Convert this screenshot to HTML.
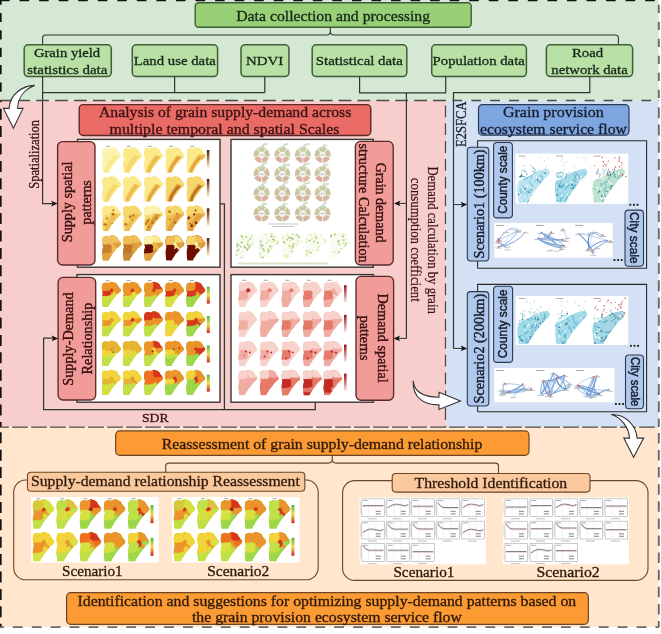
<!DOCTYPE html>
<html><head><meta charset="utf-8"><style>
html,body{margin:0;padding:0;background:#fff;overflow:hidden;}
svg{display:block;will-change:transform;}
</style></head><body>
<svg width="661" height="634" viewBox="0 0 661 634">
<defs><clipPath id="hb" clipPathUnits="userSpaceOnUse"><path d="M1,2 L4,0.8 L7,1.5 L10,0 L13,0.8 L15.5,2 L17,4.5 L18.5,6.5 L20,8.5 L19,10.5 L16.5,12.5 L15,14 L13.6,16 L12,18 L10.5,19.5 L9,22 L7.6,24 L6.9,26 L1,26 L0.6,22 L0,18 L0.5,15 L1.2,12 L0.4,9 L0,6 L0.5,4 Z"/></clipPath></defs>
<rect x="0.00" y="0.00" width="661.00" height="634.00" fill="#ffffff" /><rect x="0.00" y="0.00" width="658.50" height="100.60" fill="#d5e8d4" /><rect x="0.00" y="100.60" width="446.20" height="326.20" fill="#f8cecc" /><rect x="446.20" y="100.60" width="212.30" height="326.60" fill="#d4e1f4" /><rect x="0.00" y="426.80" width="658.50" height="200.20" fill="#ffe6cc" /><rect x="195.20" y="2.80" width="276.00" height="24.50" rx="3.5" ry="3.5" fill="#97d077" stroke="#3f5e37" stroke-width="1.4" /><text x="236.20" y="21.10" font-family="Liberation Serif" font-size="14.0" fill="#17261a" textLength="193.90" lengthAdjust="spacingAndGlyphs" stroke="#17261a" stroke-width="0.3" >Data collection and processing</text><path d="M42.6,44.8 V38.2 Q42.6,35 45.8,35 H326.5 Q330.3,35 330.3,31.2 V27.6 M330.3,31.2 Q330.3,35 334.1,35 H615.2 Q618.4,35 618.4,38.2 V44.8" fill="none" stroke="#2f352f" stroke-width="1.1" /><rect x="24.20" y="44.80" width="87.10" height="31.80" rx="4" ry="4" fill="#b9e0a5" stroke="#3f5e37" stroke-width="1.5" /><text x="33.90" y="57.20" font-family="Liberation Serif" font-size="13.0" fill="#17261a" textLength="66.30" lengthAdjust="spacingAndGlyphs" stroke="#17261a" stroke-width="0.3" >Grain yield</text><text x="27.30" y="73.60" font-family="Liberation Serif" font-size="13.0" fill="#17261a" textLength="80.10" lengthAdjust="spacingAndGlyphs" stroke="#17261a" stroke-width="0.3" >statistics data</text><rect x="132.30" y="44.80" width="85.30" height="31.80" rx="4" ry="4" fill="#b9e0a5" stroke="#3f5e37" stroke-width="1.5" /><text x="133.80" y="65.20" font-family="Liberation Serif" font-size="13.0" fill="#17261a" textLength="82.00" lengthAdjust="spacingAndGlyphs" stroke="#17261a" stroke-width="0.3" >Land use data</text><rect x="241.00" y="44.80" width="47.90" height="31.80" rx="4" ry="4" fill="#b9e0a5" stroke="#3f5e37" stroke-width="1.5" /><text x="246.00" y="65.30" font-family="Liberation Serif" font-size="13.0" fill="#17261a" textLength="37.20" lengthAdjust="spacingAndGlyphs" stroke="#17261a" stroke-width="0.3" >NDVI</text><rect x="312.20" y="44.80" width="94.60" height="31.80" rx="4" ry="4" fill="#b9e0a5" stroke="#3f5e37" stroke-width="1.5" /><text x="315.80" y="65.20" font-family="Liberation Serif" font-size="13.0" fill="#17261a" textLength="87.00" lengthAdjust="spacingAndGlyphs" stroke="#17261a" stroke-width="0.3" >Statistical data</text><rect x="431.70" y="44.80" width="94.70" height="31.80" rx="4" ry="4" fill="#b9e0a5" stroke="#3f5e37" stroke-width="1.5" /><text x="432.60" y="65.20" font-family="Liberation Serif" font-size="13.0" fill="#17261a" textLength="92.20" lengthAdjust="spacingAndGlyphs" stroke="#17261a" stroke-width="0.3" >Population data</text><rect x="546.40" y="44.80" width="86.20" height="31.80" rx="4" ry="4" fill="#b9e0a5" stroke="#3f5e37" stroke-width="1.5" /><text x="572.00" y="57.20" font-family="Liberation Serif" font-size="13.0" fill="#17261a" textLength="31.20" lengthAdjust="spacingAndGlyphs" stroke="#17261a" stroke-width="0.3" >Road</text><text x="551.30" y="73.60" font-family="Liberation Serif" font-size="13.0" fill="#17261a" textLength="76.40" lengthAdjust="spacingAndGlyphs" stroke="#17261a" stroke-width="0.3" >network data</text><path d="M42.6,76.6 V203.6 H53" fill="none" stroke="#2f352f" stroke-width="1.2" /><path d="M42.6,92.6 H264.8 M174.6,76.6 V92.6 M264.8,76.8 V92.6" fill="none" stroke="#2f352f" stroke-width="1.2" /><path d="M359.6,76.6 V92.8 H445.7 V76.6 M406.4,92.8 V338.4" fill="none" stroke="#2f352f" stroke-width="1.2" /><path d="M589.8,76.8 V92.6 H453.5 V348.4" fill="none" stroke="#2f352f" stroke-width="1.2" /><rect x="79.20" y="104.60" width="291.60" height="30.90" rx="4" ry="4" fill="#ea6b66" stroke="#5a2a2a" stroke-width="1.4" /><text x="99.00" y="117.20" font-family="Liberation Serif" font-size="14.0" fill="#3a1212" textLength="252.30" lengthAdjust="spacingAndGlyphs" stroke="#3a1212" stroke-width="0.3" >Analysis of grain supply-demand across</text><text x="109.60" y="133.70" font-family="Liberation Serif" font-size="14.0" fill="#3a1212" textLength="229.80" lengthAdjust="spacingAndGlyphs" stroke="#3a1212" stroke-width="0.3" >multiple temporal and spatial Scales</text><text transform="translate(39.10,188.70) scale(1.1,1) rotate(-90)" x="0" y="0" font-family="Liberation Serif" font-size="12.3" fill="#3a1212" textLength="68.80" lengthAdjust="spacingAndGlyphs" stroke="#3a1212" stroke-width="0.25">Spatialization</text><rect x="77.50" y="139.40" width="142.50" height="127.80" fill="#ffffff" stroke="#3a3434" stroke-width="1.4"/><rect x="231.00" y="139.40" width="142.30" height="127.80" fill="#ffffff" stroke="#3a3434" stroke-width="1.4"/><rect x="77.00" y="274.60" width="143.00" height="127.60" fill="#ffffff" stroke="#3a3434" stroke-width="1.4"/><rect x="231.00" y="274.60" width="142.40" height="127.60" fill="#ffffff" stroke="#3a3434" stroke-width="1.4"/><path d="M220.0,203.9 H224.4 V409.7 M53,338.2 H43.6 V409.7 H315.3 V402.2" fill="none" stroke="#2f352f" stroke-width="1.25" /><text x="142.00" y="422.40" font-family="Liberation Serif" font-size="13.4" fill="#3a1212" textLength="26.60" lengthAdjust="spacingAndGlyphs" stroke="#3a1212" stroke-width="0.3" >SDR</text><g transform="translate(101.90,147.00) scale(0.9700,0.9923)" clip-path="url(#hb)"><rect x="0" y="0" width="20" height="26" fill="#fdf3b0"/><path d="M12,8.5 L17,9.8 L12,15.5 L8.5,20.5 L6.5,26 L2.5,26 L4,20.5 L7.5,14.5 Z" fill="#fbe98a" stroke="#fbe98a" stroke-width="0.5"/></g><rect x="105.9" y="145.8" width="4" height="0.9" fill="#9a9a9a"/><g transform="translate(122.80,147.00) scale(0.9700,0.9923)" clip-path="url(#hb)"><rect x="0" y="0" width="20" height="26" fill="#fbe98a"/><path d="M12,8.5 L17,9.8 L12,15.5 L8.5,20.5 L6.5,26 L2.5,26 L4,20.5 L7.5,14.5 Z" fill="#f6d76a" stroke="#f6d76a" stroke-width="0.5"/></g><rect x="126.8" y="145.8" width="4" height="0.9" fill="#9a9a9a"/><g transform="translate(143.90,147.00) scale(0.9700,0.9923)" clip-path="url(#hb)"><rect x="0" y="0" width="20" height="26" fill="#fbe98a"/><path d="M12,8.5 L17,9.8 L12,15.5 L8.5,20.5 L6.5,26 L2.5,26 L4,20.5 L7.5,14.5 Z" fill="#efbd52" stroke="#efbd52" stroke-width="0.5"/></g><rect x="147.9" y="145.8" width="4" height="0.9" fill="#9a9a9a"/><g transform="translate(165.20,147.00) scale(0.9700,0.9923)" clip-path="url(#hb)"><rect x="0" y="0" width="20" height="26" fill="#fbe98a"/><path d="M12,8.5 L17,9.8 L12,15.5 L8.5,20.5 L6.5,26 L2.5,26 L4,20.5 L7.5,14.5 Z" fill="#efbd52" stroke="#efbd52" stroke-width="0.5"/><path d="M13,10 L15.5,10.6 L10.8,15.5 L7.2,21 L5.6,25 L4.2,25 L5.5,20.5 L9,15 Z" fill="#e0a040" stroke="#e0a040" stroke-width="0.5"/></g><rect x="169.2" y="145.8" width="4" height="0.9" fill="#9a9a9a"/><g transform="translate(186.30,147.00) scale(0.9700,0.9923)" clip-path="url(#hb)"><rect x="0" y="0" width="20" height="26" fill="#fbe98a"/><path d="M12,8 L15,8 L21,7.5 V12 L16,13 L14,12 L12.5,10 Z" fill="#efbd52" stroke="#efbd52" stroke-width="0.5"/><path d="M12,8.5 L17,9.8 L12,15.5 L8.5,20.5 L6.5,26 L2.5,26 L4,20.5 L7.5,14.5 Z" fill="#efbd52" stroke="#efbd52" stroke-width="0.5"/><path d="M13,10 L15.5,10.6 L10.8,15.5 L7.2,21 L5.6,25 L4.2,25 L5.5,20.5 L9,15 Z" fill="#e0a040" stroke="#e0a040" stroke-width="0.5"/></g><rect x="190.3" y="145.8" width="4" height="0.9" fill="#9a9a9a"/><defs><linearGradient id="lg46" x1="0" y1="0" x2="0" y2="1"><stop offset="0" stop-color="#5a1a00"/><stop offset="1" stop-color="#fff6c0"/></linearGradient></defs><rect x="206.80" y="150.00" width="2.60" height="18.00" fill="url(#lg46)" /><g transform="translate(101.90,175.90) scale(0.9700,0.9923)" clip-path="url(#hb)"><rect x="0" y="0" width="20" height="26" fill="#fbe98a"/><path d="M12,8.5 L17,9.8 L12,15.5 L8.5,20.5 L6.5,26 L2.5,26 L4,20.5 L7.5,14.5 Z" fill="#f6d76a" stroke="#f6d76a" stroke-width="0.5"/></g><g transform="translate(122.80,175.90) scale(0.9700,0.9923)" clip-path="url(#hb)"><rect x="0" y="0" width="20" height="26" fill="#fbe98a"/><path d="M12,8.5 L17,9.8 L12,15.5 L8.5,20.5 L6.5,26 L2.5,26 L4,20.5 L7.5,14.5 Z" fill="#efbd52" stroke="#efbd52" stroke-width="0.5"/></g><g transform="translate(143.90,175.90) scale(0.9700,0.9923)" clip-path="url(#hb)"><rect x="0" y="0" width="20" height="26" fill="#fbe98a"/><path d="M12,8.5 L17,9.8 L12,15.5 L8.5,20.5 L6.5,26 L2.5,26 L4,20.5 L7.5,14.5 Z" fill="#efbd52" stroke="#efbd52" stroke-width="0.5"/><path d="M13,10 L15.5,10.6 L10.8,15.5 L7.2,21 L5.6,25 L4.2,25 L5.5,20.5 L9,15 Z" fill="#e0a040" stroke="#e0a040" stroke-width="0.5"/></g><g transform="translate(165.20,175.90) scale(0.9700,0.9923)" clip-path="url(#hb)"><rect x="0" y="0" width="20" height="26" fill="#f6d76a"/><path d="M12,8.5 L17,9.8 L12,15.5 L8.5,20.5 L6.5,26 L2.5,26 L4,20.5 L7.5,14.5 Z" fill="#e0a040" stroke="#e0a040" stroke-width="0.5"/><path d="M13,10 L15.5,10.6 L10.8,15.5 L7.2,21 L5.6,25 L4.2,25 L5.5,20.5 L9,15 Z" fill="#b8701e" stroke="#b8701e" stroke-width="0.5"/></g><g transform="translate(186.30,175.90) scale(0.9700,0.9923)" clip-path="url(#hb)"><rect x="0" y="0" width="20" height="26" fill="#f6d76a"/><path d="M12,8.5 L17,9.8 L12,15.5 L8.5,20.5 L6.5,26 L2.5,26 L4,20.5 L7.5,14.5 Z" fill="#e0a040" stroke="#e0a040" stroke-width="0.5"/><path d="M13,10 L15.5,10.6 L10.8,15.5 L7.2,21 L5.6,25 L4.2,25 L5.5,20.5 L9,15 Z" fill="#b8701e" stroke="#b8701e" stroke-width="0.5"/></g><defs><linearGradient id="lg53" x1="0" y1="0" x2="0" y2="1"><stop offset="0" stop-color="#5a1a00"/><stop offset="1" stop-color="#fff6c0"/></linearGradient></defs><rect x="206.80" y="178.90" width="2.60" height="18.00" fill="url(#lg53)" /><g transform="translate(101.90,205.30) scale(0.9700,0.9923)" clip-path="url(#hb)"><rect x="0" y="0" width="20" height="26" fill="#f6d76a"/><path d="M-1,-1 H10 L10,7 L8,9.5 L-1,10 Z" fill="#fbe98a" stroke="#fbe98a" stroke-width="0.5"/><path d="M10,-1 H21 V7.5 L15,8 L12,8 L10,7 Z" fill="#fbe98a" stroke="#fbe98a" stroke-width="0.5"/><path d="M12,8.5 L17,9.8 L12,15.5 L8.5,20.5 L6.5,26 L2.5,26 L4,20.5 L7.5,14.5 Z" fill="#efbd52" stroke="#efbd52" stroke-width="0.5"/><circle cx="3.7" cy="19.4" r="1.3" fill="#b8701e"/><circle cx="5.3" cy="13.4" r="1.1" fill="#b8701e"/><circle cx="10.5" cy="18.4" r="0.8" fill="#b8701e"/><circle cx="2.4" cy="19.2" r="1.0" fill="#b8701e"/><circle cx="11.9" cy="5.0" r="1.1" fill="#b8701e"/><circle cx="11.4" cy="8.9" r="1.5" fill="#b8701e"/></g><g transform="translate(122.80,205.30) scale(0.9700,0.9923)" clip-path="url(#hb)"><rect x="0" y="0" width="20" height="26" fill="#f6d76a"/><path d="M-1,-1 H10 L10,7 L8,9.5 L-1,10 Z" fill="#f6d76a" stroke="#f6d76a" stroke-width="0.5"/><path d="M10,-1 H21 V7.5 L15,8 L12,8 L10,7 Z" fill="#f6d76a" stroke="#f6d76a" stroke-width="0.5"/><path d="M12,8.5 L17,9.8 L12,15.5 L8.5,20.5 L6.5,26 L2.5,26 L4,20.5 L7.5,14.5 Z" fill="#efbd52" stroke="#efbd52" stroke-width="0.5"/><circle cx="14.4" cy="21.1" r="0.7" fill="#b8701e"/><circle cx="3.1" cy="19.2" r="1.3" fill="#b8701e"/><circle cx="10.7" cy="10.2" r="1.2" fill="#b8701e"/><circle cx="9.9" cy="14.9" r="0.8" fill="#b8701e"/><circle cx="7.6" cy="11.7" r="1.3" fill="#b8701e"/><circle cx="14.9" cy="21.1" r="1.1" fill="#b8701e"/><circle cx="7.8" cy="9.6" r="0.7" fill="#b8701e"/></g><g transform="translate(143.90,205.30) scale(0.9700,0.9923)" clip-path="url(#hb)"><rect x="0" y="0" width="20" height="26" fill="#f6d76a"/><path d="M-1,-1 H10 L10,7 L8,9.5 L-1,10 Z" fill="#fdf3b0" stroke="#fdf3b0" stroke-width="0.5"/><path d="M10,-1 H21 V7.5 L15,8 L12,8 L10,7 Z" fill="#fdf3b0" stroke="#fdf3b0" stroke-width="0.5"/><path d="M12,8.5 L17,9.8 L12,15.5 L8.5,20.5 L6.5,26 L2.5,26 L4,20.5 L7.5,14.5 Z" fill="#e0a040" stroke="#e0a040" stroke-width="0.5"/><circle cx="5.1" cy="14.3" r="1.0" fill="#b8701e"/><circle cx="9.9" cy="15.6" r="0.8" fill="#b8701e"/><circle cx="2.2" cy="19.2" r="0.9" fill="#b8701e"/><circle cx="5.0" cy="21.9" r="1.1" fill="#b8701e"/><circle cx="12.9" cy="13.1" r="1.2" fill="#b8701e"/><circle cx="4.0" cy="15.8" r="1.4" fill="#b8701e"/><circle cx="8.8" cy="17.6" r="1.2" fill="#b8701e"/><circle cx="2.8" cy="17.9" r="1.2" fill="#b8701e"/></g><g transform="translate(165.20,205.30) scale(0.9700,0.9923)" clip-path="url(#hb)"><rect x="0" y="0" width="20" height="26" fill="#efbd52"/><path d="M-1,-1 H10 L10,7 L8,9.5 L-1,10 Z" fill="#f6d76a" stroke="#f6d76a" stroke-width="0.5"/><path d="M10,-1 H21 V7.5 L15,8 L12,8 L10,7 Z" fill="#f6d76a" stroke="#f6d76a" stroke-width="0.5"/><path d="M12,8.5 L17,9.8 L12,15.5 L8.5,20.5 L6.5,26 L2.5,26 L4,20.5 L7.5,14.5 Z" fill="#e0a040" stroke="#e0a040" stroke-width="0.5"/><circle cx="5.1" cy="6.8" r="1.0" fill="#b8701e"/><circle cx="4.0" cy="6.1" r="1.0" fill="#b8701e"/><circle cx="13.9" cy="18.6" r="1.3" fill="#b8701e"/><circle cx="4.9" cy="14.1" r="0.9" fill="#b8701e"/><circle cx="4.2" cy="6.8" r="0.9" fill="#b8701e"/><circle cx="14.1" cy="19.1" r="1.3" fill="#b8701e"/><circle cx="12.4" cy="8.3" r="0.9" fill="#b8701e"/><circle cx="10.2" cy="17.4" r="1.4" fill="#b8701e"/></g><g transform="translate(186.30,205.30) scale(0.9700,0.9923)" clip-path="url(#hb)"><rect x="0" y="0" width="20" height="26" fill="#efbd52"/><path d="M-1,-1 H10 L10,7 L8,9.5 L-1,10 Z" fill="#f6d76a" stroke="#f6d76a" stroke-width="0.5"/><path d="M10,-1 H21 V7.5 L15,8 L12,8 L10,7 Z" fill="#f6d76a" stroke="#f6d76a" stroke-width="0.5"/><path d="M12,8.5 L17,9.8 L12,15.5 L8.5,20.5 L6.5,26 L2.5,26 L4,20.5 L7.5,14.5 Z" fill="#e0a040" stroke="#e0a040" stroke-width="0.5"/><circle cx="10.1" cy="17.6" r="1.3" fill="#7a2800"/><circle cx="14.3" cy="17.6" r="1.4" fill="#7a2800"/><circle cx="2.4" cy="12.9" r="1.5" fill="#7a2800"/><circle cx="10.4" cy="20.3" r="0.8" fill="#7a2800"/><circle cx="8.1" cy="9.2" r="1.1" fill="#7a2800"/><circle cx="9.5" cy="5.2" r="0.9" fill="#7a2800"/><circle cx="5.6" cy="20.6" r="1.3" fill="#7a2800"/><circle cx="4.1" cy="18.6" r="0.8" fill="#7a2800"/></g><defs><linearGradient id="lg60" x1="0" y1="0" x2="0" y2="1"><stop offset="0" stop-color="#5a1a00"/><stop offset="1" stop-color="#fff6c0"/></linearGradient></defs><rect x="206.80" y="208.30" width="2.60" height="18.00" fill="url(#lg60)" /><g transform="translate(101.90,235.00) scale(0.9700,0.9923)" clip-path="url(#hb)"><rect x="0" y="0" width="20" height="26" fill="#efbd52"/><path d="M-1,-1 H10 L10,7 L8,9.5 L-1,10 Z" fill="#eec060" stroke="#eec060" stroke-width="0.5"/><path d="M10,-1 H21 V7.5 L15,8 L12,8 L10,7 Z" fill="#eec060" stroke="#eec060" stroke-width="0.5"/><path d="M-1,10 L8,9.5 L10,11 L9.5,14 L6,15 L-1,15 Z" fill="#c88030" stroke="#c88030" stroke-width="0.5"/><path d="M-1,15 L6,15 L9.5,14 L10,17 L7,18.5 L-1,19 Z" fill="#c88030" stroke="#c88030" stroke-width="0.5"/><path d="M-1,19 L7,18.5 L9,22 L7,23 L-1,22.5 Z" fill="#e0a040" stroke="#e0a040" stroke-width="0.5"/><path d="M-1,22.5 L7,23 L9,22 L21,27 V27 H-1 Z" fill="#e0a040" stroke="#e0a040" stroke-width="0.5"/><path d="M7,18.5 L10,17 L11,19 L21,21 V27 L9,22 Z" fill="#e0a040" stroke="#e0a040" stroke-width="0.5"/><path d="M12,8 L15,8 L21,7.5 V12 L16,13 L14,12 L12.5,10 Z" fill="#e0a040" stroke="#e0a040" stroke-width="0.5"/></g><g transform="translate(122.80,235.00) scale(0.9700,0.9923)" clip-path="url(#hb)"><rect x="0" y="0" width="20" height="26" fill="#e0a040"/><path d="M-1,-1 H10 L10,7 L8,9.5 L-1,10 Z" fill="#efbd52" stroke="#efbd52" stroke-width="0.5"/><path d="M10,-1 H21 V7.5 L15,8 L12,8 L10,7 Z" fill="#efbd52" stroke="#efbd52" stroke-width="0.5"/><path d="M-1,10 L8,9.5 L10,11 L9.5,14 L6,15 L-1,15 Z" fill="#c07828" stroke="#c07828" stroke-width="0.5"/><path d="M-1,15 L6,15 L9.5,14 L10,17 L7,18.5 L-1,19 Z" fill="#c07828" stroke="#c07828" stroke-width="0.5"/><path d="M-1,19 L7,18.5 L9,22 L7,23 L-1,22.5 Z" fill="#c88838" stroke="#c88838" stroke-width="0.5"/><path d="M-1,22.5 L7,23 L9,22 L21,27 V27 H-1 Z" fill="#c88838" stroke="#c88838" stroke-width="0.5"/><path d="M7,18.5 L10,17 L11,19 L21,21 V27 L9,22 Z" fill="#c88838" stroke="#c88838" stroke-width="0.5"/><path d="M12,8 L15,8 L21,7.5 V12 L16,13 L14,12 L12.5,10 Z" fill="#e0a040" stroke="#e0a040" stroke-width="0.5"/><path d="M9.5,14 L12,12.5 L14,15 L21,14 V21 L11,19 L10,17 Z" fill="#e0a040" stroke="#e0a040" stroke-width="0.5"/></g><g transform="translate(143.90,235.00) scale(0.9700,0.9923)" clip-path="url(#hb)"><rect x="0" y="0" width="20" height="26" fill="#e0a040"/><path d="M-1,-1 H10 L10,7 L8,9.5 L-1,10 Z" fill="#fdf3b0" stroke="#fdf3b0" stroke-width="0.5"/><path d="M10,-1 H21 V7.5 L15,8 L12,8 L10,7 Z" fill="#fbe98a" stroke="#fbe98a" stroke-width="0.5"/><path d="M-1,10 L8,9.5 L10,11 L9.5,14 L6,15 L-1,15 Z" fill="#6e0c00" stroke="#6e0c00" stroke-width="0.5"/><path d="M-1,15 L6,15 L9.5,14 L10,17 L7,18.5 L-1,19 Z" fill="#6e0c00" stroke="#6e0c00" stroke-width="0.5"/><path d="M-1,19 L7,18.5 L9,22 L7,23 L-1,22.5 Z" fill="#e0a040" stroke="#e0a040" stroke-width="0.5"/><path d="M-1,22.5 L7,23 L9,22 L21,27 V27 H-1 Z" fill="#e0a040" stroke="#e0a040" stroke-width="0.5"/><path d="M7,18.5 L10,17 L11,19 L21,21 V27 L9,22 Z" fill="#e0a040" stroke="#e0a040" stroke-width="0.5"/><path d="M12,8 L15,8 L21,7.5 V12 L16,13 L14,12 L12.5,10 Z" fill="#e0a040" stroke="#e0a040" stroke-width="0.5"/><path d="M9.5,14 L12,12.5 L14,15 L21,14 V21 L11,19 L10,17 Z" fill="#e0a040" stroke="#e0a040" stroke-width="0.5"/><path d="M8,9.5 L10,7 L12,8 L12.5,10 L10,11 Z" fill="#efbd52" stroke="#efbd52" stroke-width="0.5"/><path d="M12.5,10 L14,12 L16,13 L14,15 L12,12.5 Z" fill="#efbd52" stroke="#efbd52" stroke-width="0.5"/><path d="M10,11 L12.5,10 L12,12.5 L9.5,14 Z" fill="#efbd52" stroke="#efbd52" stroke-width="0.5"/></g><g transform="translate(165.20,235.00) scale(0.9700,0.9923)" clip-path="url(#hb)"><rect x="0" y="0" width="20" height="26" fill="#6e0c00"/><path d="M-1,-1 H10 L10,7 L8,9.5 L-1,10 Z" fill="#efbd52" stroke="#efbd52" stroke-width="0.5"/><path d="M10,-1 H21 V7.5 L15,8 L12,8 L10,7 Z" fill="#f6d76a" stroke="#f6d76a" stroke-width="0.5"/><path d="M8,9.5 L10,7 L12,8 L12.5,10 L10,11 Z" fill="#fdf3b0" stroke="#fdf3b0" stroke-width="0.5"/><path d="M12.5,10 L14,12 L16,13 L14,15 L12,12.5 Z" fill="#fbe98a" stroke="#fbe98a" stroke-width="0.5"/><path d="M10,11 L12.5,10 L12,12.5 L9.5,14 Z" fill="#fbe98a" stroke="#fbe98a" stroke-width="0.5"/><path d="M12,8 L15,8 L21,7.5 V12 L16,13 L14,12 L12.5,10 Z" fill="#e0a040" stroke="#e0a040" stroke-width="0.5"/></g><g transform="translate(186.30,235.00) scale(0.9700,0.9923)" clip-path="url(#hb)"><rect x="0" y="0" width="20" height="26" fill="#6e0c00"/><path d="M-1,-1 H10 L10,7 L8,9.5 L-1,10 Z" fill="#f6d76a" stroke="#f6d76a" stroke-width="0.5"/><path d="M10,-1 H21 V7.5 L15,8 L12,8 L10,7 Z" fill="#efbd52" stroke="#efbd52" stroke-width="0.5"/><path d="M8,9.5 L10,7 L12,8 L12.5,10 L10,11 Z" fill="#fdf3b0" stroke="#fdf3b0" stroke-width="0.5"/><path d="M12.5,10 L14,12 L16,13 L14,15 L12,12.5 Z" fill="#fbe98a" stroke="#fbe98a" stroke-width="0.5"/><path d="M10,11 L12.5,10 L12,12.5 L9.5,14 Z" fill="#fbe98a" stroke="#fbe98a" stroke-width="0.5"/><path d="M12,8 L15,8 L21,7.5 V12 L16,13 L14,12 L12.5,10 Z" fill="#e0a040" stroke="#e0a040" stroke-width="0.5"/></g><defs><linearGradient id="lg67" x1="0" y1="0" x2="0" y2="1"><stop offset="0" stop-color="#5a1a00"/><stop offset="1" stop-color="#fff6c0"/></linearGradient></defs><rect x="206.80" y="238.00" width="2.60" height="18.00" fill="url(#lg67)" /><g transform="translate(101.60,281.60) scale(0.9750,0.9808)" clip-path="url(#hb)"><rect x="0" y="0" width="20" height="26" fill="#d6e040"/><path d="M-1,-1 H10 L10,7 L8,9.5 L-1,10 Z" fill="#ec942c" stroke="#ec942c" stroke-width="0.5"/><path d="M10,-1 H21 V7.5 L15,8 L12,8 L10,7 Z" fill="#ec942c" stroke="#ec942c" stroke-width="0.5"/><path d="M-1,19 L7,18.5 L9,22 L7,23 L-1,22.5 Z" fill="#c0e048" stroke="#c0e048" stroke-width="0.5"/><path d="M-1,22.5 L7,23 L9,22 L21,27 V27 H-1 Z" fill="#c0e048" stroke="#c0e048" stroke-width="0.5"/><path d="M7,18.5 L10,17 L11,19 L21,21 V27 L9,22 Z" fill="#c0e048" stroke="#c0e048" stroke-width="0.5"/><path d="M-1,10 L8,9.5 L10,11 L9.5,14 L6,15 L-1,15 Z" fill="#d8361c" stroke="#d8361c" stroke-width="0.5"/><path d="M8,9.5 L10,7 L12,8 L12.5,10 L10,11 Z" fill="#d8361c" stroke="#d8361c" stroke-width="0.5"/><path d="M12,8 L15,8 L21,7.5 V12 L16,13 L14,12 L12.5,10 Z" fill="#ec942c" stroke="#ec942c" stroke-width="0.5"/><path d="M10,11 L12.5,10 L12,12.5 L9.5,14 Z" fill="#ec942c" stroke="#ec942c" stroke-width="0.5"/><path d="M12.5,10 L14,12 L16,13 L14,15 L12,12.5 Z" fill="#f2d43a" stroke="#f2d43a" stroke-width="0.5"/><path d="M-1,15 L6,15 L9.5,14 L10,17 L7,18.5 L-1,19 Z" fill="#d6e040" stroke="#d6e040" stroke-width="0.5"/><path d="M9.5,14 L12,12.5 L14,15 L21,14 V21 L11,19 L10,17 Z" fill="#d6e040" stroke="#d6e040" stroke-width="0.5"/></g><rect x="105.6" y="280.2" width="4" height="0.9" fill="#9a9a9a"/><g transform="translate(122.60,281.60) scale(0.9750,0.9808)" clip-path="url(#hb)"><rect x="0" y="0" width="20" height="26" fill="#d6e040"/><path d="M-1,-1 H10 L10,7 L8,9.5 L-1,10 Z" fill="#ec942c" stroke="#ec942c" stroke-width="0.5"/><path d="M10,-1 H21 V7.5 L15,8 L12,8 L10,7 Z" fill="#ec942c" stroke="#ec942c" stroke-width="0.5"/><path d="M-1,19 L7,18.5 L9,22 L7,23 L-1,22.5 Z" fill="#c0e048" stroke="#c0e048" stroke-width="0.5"/><path d="M-1,22.5 L7,23 L9,22 L21,27 V27 H-1 Z" fill="#c0e048" stroke="#c0e048" stroke-width="0.5"/><path d="M7,18.5 L10,17 L11,19 L21,21 V27 L9,22 Z" fill="#c0e048" stroke="#c0e048" stroke-width="0.5"/><path d="M-1,10 L8,9.5 L10,11 L9.5,14 L6,15 L-1,15 Z" fill="#ec942c" stroke="#ec942c" stroke-width="0.5"/><path d="M8,9.5 L10,7 L12,8 L12.5,10 L10,11 Z" fill="#d8361c" stroke="#d8361c" stroke-width="0.5"/><path d="M12,8 L15,8 L21,7.5 V12 L16,13 L14,12 L12.5,10 Z" fill="#ec942c" stroke="#ec942c" stroke-width="0.5"/><path d="M10,11 L12.5,10 L12,12.5 L9.5,14 Z" fill="#f2d43a" stroke="#f2d43a" stroke-width="0.5"/><path d="M-1,15 L6,15 L9.5,14 L10,17 L7,18.5 L-1,19 Z" fill="#d6e040" stroke="#d6e040" stroke-width="0.5"/></g><rect x="126.6" y="280.2" width="4" height="0.9" fill="#9a9a9a"/><g transform="translate(143.80,281.60) scale(0.9750,0.9808)" clip-path="url(#hb)"><rect x="0" y="0" width="20" height="26" fill="#c0e048"/><path d="M-1,-1 H10 L10,7 L8,9.5 L-1,10 Z" fill="#ec942c" stroke="#ec942c" stroke-width="0.5"/><path d="M10,-1 H21 V7.5 L15,8 L12,8 L10,7 Z" fill="#d8361c" stroke="#d8361c" stroke-width="0.5"/><path d="M8,9.5 L10,7 L12,8 L12.5,10 L10,11 Z" fill="#d8361c" stroke="#d8361c" stroke-width="0.5"/><path d="M12.5,10 L14,12 L16,13 L14,15 L12,12.5 Z" fill="#ec942c" stroke="#ec942c" stroke-width="0.5"/><path d="M10,11 L12.5,10 L12,12.5 L9.5,14 Z" fill="#ec942c" stroke="#ec942c" stroke-width="0.5"/><path d="M-1,19 L7,18.5 L9,22 L7,23 L-1,22.5 Z" fill="#c0e048" stroke="#c0e048" stroke-width="0.5"/><path d="M-1,22.5 L7,23 L9,22 L21,27 V27 H-1 Z" fill="#c0e048" stroke="#c0e048" stroke-width="0.5"/><path d="M7,18.5 L10,17 L11,19 L21,21 V27 L9,22 Z" fill="#c0e048" stroke="#c0e048" stroke-width="0.5"/><path d="M-1,10 L8,9.5 L10,11 L9.5,14 L6,15 L-1,15 Z" fill="#ec942c" stroke="#ec942c" stroke-width="0.5"/><path d="M12,8 L15,8 L21,7.5 V12 L16,13 L14,12 L12.5,10 Z" fill="#ec942c" stroke="#ec942c" stroke-width="0.5"/></g><rect x="147.8" y="280.2" width="4" height="0.9" fill="#9a9a9a"/><g transform="translate(164.80,281.60) scale(0.9750,0.9808)" clip-path="url(#hb)"><rect x="0" y="0" width="20" height="26" fill="#d6e040"/><path d="M-1,-1 H10 L10,7 L8,9.5 L-1,10 Z" fill="#ec942c" stroke="#ec942c" stroke-width="0.5"/><path d="M10,-1 H21 V7.5 L15,8 L12,8 L10,7 Z" fill="#ec942c" stroke="#ec942c" stroke-width="0.5"/><path d="M8,9.5 L10,7 L12,8 L12.5,10 L10,11 Z" fill="#d8361c" stroke="#d8361c" stroke-width="0.5"/><path d="M12.5,10 L14,12 L16,13 L14,15 L12,12.5 Z" fill="#ec942c" stroke="#ec942c" stroke-width="0.5"/><path d="M10,11 L12.5,10 L12,12.5 L9.5,14 Z" fill="#ec942c" stroke="#ec942c" stroke-width="0.5"/><path d="M-1,19 L7,18.5 L9,22 L7,23 L-1,22.5 Z" fill="#d6e040" stroke="#d6e040" stroke-width="0.5"/><path d="M-1,22.5 L7,23 L9,22 L21,27 V27 H-1 Z" fill="#d6e040" stroke="#d6e040" stroke-width="0.5"/><path d="M7,18.5 L10,17 L11,19 L21,21 V27 L9,22 Z" fill="#d6e040" stroke="#d6e040" stroke-width="0.5"/><path d="M-1,10 L8,9.5 L10,11 L9.5,14 L6,15 L-1,15 Z" fill="#d8361c" stroke="#d8361c" stroke-width="0.5"/><path d="M12,8 L15,8 L21,7.5 V12 L16,13 L14,12 L12.5,10 Z" fill="#ec942c" stroke="#ec942c" stroke-width="0.5"/></g><rect x="168.8" y="280.2" width="4" height="0.9" fill="#9a9a9a"/><g transform="translate(186.00,281.60) scale(0.9750,0.9808)" clip-path="url(#hb)"><rect x="0" y="0" width="20" height="26" fill="#9ed848"/><path d="M-1,-1 H10 L10,7 L8,9.5 L-1,10 Z" fill="#ec942c" stroke="#ec942c" stroke-width="0.5"/><path d="M10,-1 H21 V7.5 L15,8 L12,8 L10,7 Z" fill="#d8361c" stroke="#d8361c" stroke-width="0.5"/><path d="M8,9.5 L10,7 L12,8 L12.5,10 L10,11 Z" fill="#d8361c" stroke="#d8361c" stroke-width="0.5"/><path d="M12.5,10 L14,12 L16,13 L14,15 L12,12.5 Z" fill="#ec942c" stroke="#ec942c" stroke-width="0.5"/><path d="M10,11 L12.5,10 L12,12.5 L9.5,14 Z" fill="#ec942c" stroke="#ec942c" stroke-width="0.5"/><path d="M-1,19 L7,18.5 L9,22 L7,23 L-1,22.5 Z" fill="#9ed848" stroke="#9ed848" stroke-width="0.5"/><path d="M-1,22.5 L7,23 L9,22 L21,27 V27 H-1 Z" fill="#9ed848" stroke="#9ed848" stroke-width="0.5"/><path d="M7,18.5 L10,17 L11,19 L21,21 V27 L9,22 Z" fill="#9ed848" stroke="#9ed848" stroke-width="0.5"/><path d="M-1,10 L8,9.5 L10,11 L9.5,14 L6,15 L-1,15 Z" fill="#d8361c" stroke="#d8361c" stroke-width="0.5"/><path d="M12,8 L15,8 L21,7.5 V12 L16,13 L14,12 L12.5,10 Z" fill="#d8361c" stroke="#d8361c" stroke-width="0.5"/></g><rect x="190.0" y="280.2" width="4" height="0.9" fill="#9a9a9a"/><defs><linearGradient id="lg79" x1="0" y1="0" x2="0" y2="1"><stop offset="0" stop-color="#4cb84c"/><stop offset="0.5" stop-color="#f0e040"/><stop offset="1" stop-color="#d02020"/></linearGradient></defs><rect x="206.80" y="286.60" width="3.00" height="17.00" fill="url(#lg79)" /><g transform="translate(101.60,311.00) scale(0.9750,0.9808)" clip-path="url(#hb)"><rect x="0" y="0" width="20" height="26" fill="#d6e040"/><path d="M-1,-1 H10 L10,7 L8,9.5 L-1,10 Z" fill="#f2d43a" stroke="#f2d43a" stroke-width="0.5"/><path d="M10,-1 H21 V7.5 L15,8 L12,8 L10,7 Z" fill="#f2d43a" stroke="#f2d43a" stroke-width="0.5"/><path d="M-1,19 L7,18.5 L9,22 L7,23 L-1,22.5 Z" fill="#c0e048" stroke="#c0e048" stroke-width="0.5"/><path d="M-1,22.5 L7,23 L9,22 L21,27 V27 H-1 Z" fill="#c0e048" stroke="#c0e048" stroke-width="0.5"/><path d="M7,18.5 L10,17 L11,19 L21,21 V27 L9,22 Z" fill="#c0e048" stroke="#c0e048" stroke-width="0.5"/><path d="M-1,10 L8,9.5 L10,11 L9.5,14 L6,15 L-1,15 Z" fill="#ec942c" stroke="#ec942c" stroke-width="0.5"/><path d="M8,9.5 L10,7 L12,8 L12.5,10 L10,11 Z" fill="#ec942c" stroke="#ec942c" stroke-width="0.5"/><path d="M12,8 L15,8 L21,7.5 V12 L16,13 L14,12 L12.5,10 Z" fill="#f2d43a" stroke="#f2d43a" stroke-width="0.5"/></g><g transform="translate(122.60,311.00) scale(0.9750,0.9808)" clip-path="url(#hb)"><rect x="0" y="0" width="20" height="26" fill="#d6e040"/><path d="M-1,-1 H10 L10,7 L8,9.5 L-1,10 Z" fill="#f2d43a" stroke="#f2d43a" stroke-width="0.5"/><path d="M10,-1 H21 V7.5 L15,8 L12,8 L10,7 Z" fill="#f2d43a" stroke="#f2d43a" stroke-width="0.5"/><path d="M-1,19 L7,18.5 L9,22 L7,23 L-1,22.5 Z" fill="#c0e048" stroke="#c0e048" stroke-width="0.5"/><path d="M-1,22.5 L7,23 L9,22 L21,27 V27 H-1 Z" fill="#c0e048" stroke="#c0e048" stroke-width="0.5"/><path d="M7,18.5 L10,17 L11,19 L21,21 V27 L9,22 Z" fill="#c0e048" stroke="#c0e048" stroke-width="0.5"/><path d="M-1,10 L8,9.5 L10,11 L9.5,14 L6,15 L-1,15 Z" fill="#ec942c" stroke="#ec942c" stroke-width="0.5"/><path d="M8,9.5 L10,7 L12,8 L12.5,10 L10,11 Z" fill="#d8361c" stroke="#d8361c" stroke-width="0.5"/><path d="M12,8 L15,8 L21,7.5 V12 L16,13 L14,12 L12.5,10 Z" fill="#ec942c" stroke="#ec942c" stroke-width="0.5"/></g><g transform="translate(143.80,311.00) scale(0.9750,0.9808)" clip-path="url(#hb)"><rect x="0" y="0" width="20" height="26" fill="#c0e048"/><path d="M-1,-1 H10 L10,7 L8,9.5 L-1,10 Z" fill="#d8361c" stroke="#d8361c" stroke-width="0.5"/><path d="M10,-1 H21 V7.5 L15,8 L12,8 L10,7 Z" fill="#d8361c" stroke="#d8361c" stroke-width="0.5"/><path d="M8,9.5 L10,7 L12,8 L12.5,10 L10,11 Z" fill="#ec942c" stroke="#ec942c" stroke-width="0.5"/><path d="M12.5,10 L14,12 L16,13 L14,15 L12,12.5 Z" fill="#ec942c" stroke="#ec942c" stroke-width="0.5"/><path d="M10,11 L12.5,10 L12,12.5 L9.5,14 Z" fill="#ec942c" stroke="#ec942c" stroke-width="0.5"/><path d="M-1,19 L7,18.5 L9,22 L7,23 L-1,22.5 Z" fill="#c0e048" stroke="#c0e048" stroke-width="0.5"/><path d="M-1,22.5 L7,23 L9,22 L21,27 V27 H-1 Z" fill="#c0e048" stroke="#c0e048" stroke-width="0.5"/><path d="M7,18.5 L10,17 L11,19 L21,21 V27 L9,22 Z" fill="#c0e048" stroke="#c0e048" stroke-width="0.5"/><path d="M-1,10 L8,9.5 L10,11 L9.5,14 L6,15 L-1,15 Z" fill="#ec942c" stroke="#ec942c" stroke-width="0.5"/><path d="M12,8 L15,8 L21,7.5 V12 L16,13 L14,12 L12.5,10 Z" fill="#ec942c" stroke="#ec942c" stroke-width="0.5"/></g><g transform="translate(164.80,311.00) scale(0.9750,0.9808)" clip-path="url(#hb)"><rect x="0" y="0" width="20" height="26" fill="#d6e040"/><path d="M-1,-1 H10 L10,7 L8,9.5 L-1,10 Z" fill="#ec942c" stroke="#ec942c" stroke-width="0.5"/><path d="M10,-1 H21 V7.5 L15,8 L12,8 L10,7 Z" fill="#ec942c" stroke="#ec942c" stroke-width="0.5"/><path d="M8,9.5 L10,7 L12,8 L12.5,10 L10,11 Z" fill="#ec942c" stroke="#ec942c" stroke-width="0.5"/><path d="M12.5,10 L14,12 L16,13 L14,15 L12,12.5 Z" fill="#ec942c" stroke="#ec942c" stroke-width="0.5"/><path d="M10,11 L12.5,10 L12,12.5 L9.5,14 Z" fill="#ec942c" stroke="#ec942c" stroke-width="0.5"/><path d="M-1,19 L7,18.5 L9,22 L7,23 L-1,22.5 Z" fill="#f2d43a" stroke="#f2d43a" stroke-width="0.5"/><path d="M-1,22.5 L7,23 L9,22 L21,27 V27 H-1 Z" fill="#f2d43a" stroke="#f2d43a" stroke-width="0.5"/><path d="M7,18.5 L10,17 L11,19 L21,21 V27 L9,22 Z" fill="#f2d43a" stroke="#f2d43a" stroke-width="0.5"/><path d="M-1,10 L8,9.5 L10,11 L9.5,14 L6,15 L-1,15 Z" fill="#f2d43a" stroke="#f2d43a" stroke-width="0.5"/><path d="M12,8 L15,8 L21,7.5 V12 L16,13 L14,12 L12.5,10 Z" fill="#ec942c" stroke="#ec942c" stroke-width="0.5"/></g><g transform="translate(186.00,311.00) scale(0.9750,0.9808)" clip-path="url(#hb)"><rect x="0" y="0" width="20" height="26" fill="#9ed848"/><path d="M-1,-1 H10 L10,7 L8,9.5 L-1,10 Z" fill="#f2d43a" stroke="#f2d43a" stroke-width="0.5"/><path d="M10,-1 H21 V7.5 L15,8 L12,8 L10,7 Z" fill="#f2d43a" stroke="#f2d43a" stroke-width="0.5"/><path d="M8,9.5 L10,7 L12,8 L12.5,10 L10,11 Z" fill="#d8361c" stroke="#d8361c" stroke-width="0.5"/><path d="M12.5,10 L14,12 L16,13 L14,15 L12,12.5 Z" fill="#d8361c" stroke="#d8361c" stroke-width="0.5"/><path d="M10,11 L12.5,10 L12,12.5 L9.5,14 Z" fill="#d8361c" stroke="#d8361c" stroke-width="0.5"/><path d="M-1,19 L7,18.5 L9,22 L7,23 L-1,22.5 Z" fill="#9ed848" stroke="#9ed848" stroke-width="0.5"/><path d="M-1,22.5 L7,23 L9,22 L21,27 V27 H-1 Z" fill="#9ed848" stroke="#9ed848" stroke-width="0.5"/><path d="M7,18.5 L10,17 L11,19 L21,21 V27 L9,22 Z" fill="#9ed848" stroke="#9ed848" stroke-width="0.5"/><path d="M-1,10 L8,9.5 L10,11 L9.5,14 L6,15 L-1,15 Z" fill="#d8361c" stroke="#d8361c" stroke-width="0.5"/><path d="M12,8 L15,8 L21,7.5 V12 L16,13 L14,12 L12.5,10 Z" fill="#ec942c" stroke="#ec942c" stroke-width="0.5"/></g><defs><linearGradient id="lg86" x1="0" y1="0" x2="0" y2="1"><stop offset="0" stop-color="#4cb84c"/><stop offset="0.5" stop-color="#f0e040"/><stop offset="1" stop-color="#d02020"/></linearGradient></defs><rect x="206.80" y="316.00" width="3.00" height="17.00" fill="url(#lg86)" /><g transform="translate(101.60,340.40) scale(0.9750,0.9808)" clip-path="url(#hb)"><rect x="0" y="0" width="20" height="26" fill="#d6e040"/><path d="M-1,-1 H10 L10,7 L8,9.5 L-1,10 Z" fill="#e4b432" stroke="#e4b432" stroke-width="0.5"/><path d="M10,-1 H21 V7.5 L15,8 L12,8 L10,7 Z" fill="#e4b432" stroke="#e4b432" stroke-width="0.5"/><path d="M-1,19 L7,18.5 L9,22 L7,23 L-1,22.5 Z" fill="#c0e048" stroke="#c0e048" stroke-width="0.5"/><path d="M-1,22.5 L7,23 L9,22 L21,27 V27 H-1 Z" fill="#c0e048" stroke="#c0e048" stroke-width="0.5"/><path d="M7,18.5 L10,17 L11,19 L21,21 V27 L9,22 Z" fill="#c0e048" stroke="#c0e048" stroke-width="0.5"/><path d="M-1,10 L8,9.5 L10,11 L9.5,14 L6,15 L-1,15 Z" fill="#f2d43a" stroke="#f2d43a" stroke-width="0.5"/><path d="M8,9.5 L10,7 L12,8 L12.5,10 L10,11 Z" fill="#ec942c" stroke="#ec942c" stroke-width="0.5"/><path d="M12,8 L15,8 L21,7.5 V12 L16,13 L14,12 L12.5,10 Z" fill="#e4b432" stroke="#e4b432" stroke-width="0.5"/><circle cx="6" cy="10" r="1" fill="#ec942c"/><circle cx="12" cy="12" r="0.9" fill="#a04010"/></g><g transform="translate(122.60,340.40) scale(0.9750,0.9808)" clip-path="url(#hb)"><rect x="0" y="0" width="20" height="26" fill="#d6e040"/><path d="M-1,-1 H10 L10,7 L8,9.5 L-1,10 Z" fill="#e4b432" stroke="#e4b432" stroke-width="0.5"/><path d="M10,-1 H21 V7.5 L15,8 L12,8 L10,7 Z" fill="#e4b432" stroke="#e4b432" stroke-width="0.5"/><path d="M-1,19 L7,18.5 L9,22 L7,23 L-1,22.5 Z" fill="#c0e048" stroke="#c0e048" stroke-width="0.5"/><path d="M-1,22.5 L7,23 L9,22 L21,27 V27 H-1 Z" fill="#c0e048" stroke="#c0e048" stroke-width="0.5"/><path d="M7,18.5 L10,17 L11,19 L21,21 V27 L9,22 Z" fill="#c0e048" stroke="#c0e048" stroke-width="0.5"/><path d="M-1,10 L8,9.5 L10,11 L9.5,14 L6,15 L-1,15 Z" fill="#f2d43a" stroke="#f2d43a" stroke-width="0.5"/><path d="M8,9.5 L10,7 L12,8 L12.5,10 L10,11 Z" fill="#e4b432" stroke="#e4b432" stroke-width="0.5"/><path d="M12,8 L15,8 L21,7.5 V12 L16,13 L14,12 L12.5,10 Z" fill="#e4b432" stroke="#e4b432" stroke-width="0.5"/></g><g transform="translate(143.80,340.40) scale(0.9750,0.9808)" clip-path="url(#hb)"><rect x="0" y="0" width="20" height="26" fill="#c0e048"/><path d="M-1,-1 H10 L10,7 L8,9.5 L-1,10 Z" fill="#ec942c" stroke="#ec942c" stroke-width="0.5"/><path d="M10,-1 H21 V7.5 L15,8 L12,8 L10,7 Z" fill="#d8361c" stroke="#d8361c" stroke-width="0.5"/><path d="M8,9.5 L10,7 L12,8 L12.5,10 L10,11 Z" fill="#f2d43a" stroke="#f2d43a" stroke-width="0.5"/><path d="M12.5,10 L14,12 L16,13 L14,15 L12,12.5 Z" fill="#f2d43a" stroke="#f2d43a" stroke-width="0.5"/><path d="M10,11 L12.5,10 L12,12.5 L9.5,14 Z" fill="#f2d43a" stroke="#f2d43a" stroke-width="0.5"/><path d="M-1,19 L7,18.5 L9,22 L7,23 L-1,22.5 Z" fill="#c0e048" stroke="#c0e048" stroke-width="0.5"/><path d="M-1,22.5 L7,23 L9,22 L21,27 V27 H-1 Z" fill="#c0e048" stroke="#c0e048" stroke-width="0.5"/><path d="M7,18.5 L10,17 L11,19 L21,21 V27 L9,22 Z" fill="#c0e048" stroke="#c0e048" stroke-width="0.5"/><path d="M-1,10 L8,9.5 L10,11 L9.5,14 L6,15 L-1,15 Z" fill="#ec942c" stroke="#ec942c" stroke-width="0.5"/><path d="M12,8 L15,8 L21,7.5 V12 L16,13 L14,12 L12.5,10 Z" fill="#ec942c" stroke="#ec942c" stroke-width="0.5"/><circle cx="9" cy="11" r="1" fill="#a02010"/></g><g transform="translate(164.80,340.40) scale(0.9750,0.9808)" clip-path="url(#hb)"><rect x="0" y="0" width="20" height="26" fill="#c0e048"/><path d="M-1,-1 H10 L10,7 L8,9.5 L-1,10 Z" fill="#ec942c" stroke="#ec942c" stroke-width="0.5"/><path d="M10,-1 H21 V7.5 L15,8 L12,8 L10,7 Z" fill="#ec942c" stroke="#ec942c" stroke-width="0.5"/><path d="M8,9.5 L10,7 L12,8 L12.5,10 L10,11 Z" fill="#ec942c" stroke="#ec942c" stroke-width="0.5"/><path d="M12.5,10 L14,12 L16,13 L14,15 L12,12.5 Z" fill="#ec942c" stroke="#ec942c" stroke-width="0.5"/><path d="M10,11 L12.5,10 L12,12.5 L9.5,14 Z" fill="#ec942c" stroke="#ec942c" stroke-width="0.5"/><path d="M-1,19 L7,18.5 L9,22 L7,23 L-1,22.5 Z" fill="#9ed848" stroke="#9ed848" stroke-width="0.5"/><path d="M-1,22.5 L7,23 L9,22 L21,27 V27 H-1 Z" fill="#9ed848" stroke="#9ed848" stroke-width="0.5"/><path d="M7,18.5 L10,17 L11,19 L21,21 V27 L9,22 Z" fill="#9ed848" stroke="#9ed848" stroke-width="0.5"/><path d="M-1,10 L8,9.5 L10,11 L9.5,14 L6,15 L-1,15 Z" fill="#f2d43a" stroke="#f2d43a" stroke-width="0.5"/><path d="M12,8 L15,8 L21,7.5 V12 L16,13 L14,12 L12.5,10 Z" fill="#ec942c" stroke="#ec942c" stroke-width="0.5"/><circle cx="9" cy="9" r="1" fill="#a04010"/><circle cx="15" cy="8" r="0.9" fill="#a04010"/></g><g transform="translate(186.00,340.40) scale(0.9750,0.9808)" clip-path="url(#hb)"><rect x="0" y="0" width="20" height="26" fill="#9ed848"/><path d="M-1,-1 H10 L10,7 L8,9.5 L-1,10 Z" fill="#ec942c" stroke="#ec942c" stroke-width="0.5"/><path d="M10,-1 H21 V7.5 L15,8 L12,8 L10,7 Z" fill="#ec942c" stroke="#ec942c" stroke-width="0.5"/><path d="M8,9.5 L10,7 L12,8 L12.5,10 L10,11 Z" fill="#d8361c" stroke="#d8361c" stroke-width="0.5"/><path d="M12.5,10 L14,12 L16,13 L14,15 L12,12.5 Z" fill="#d8361c" stroke="#d8361c" stroke-width="0.5"/><path d="M10,11 L12.5,10 L12,12.5 L9.5,14 Z" fill="#d8361c" stroke="#d8361c" stroke-width="0.5"/><path d="M-1,19 L7,18.5 L9,22 L7,23 L-1,22.5 Z" fill="#9ed848" stroke="#9ed848" stroke-width="0.5"/><path d="M-1,22.5 L7,23 L9,22 L21,27 V27 H-1 Z" fill="#9ed848" stroke="#9ed848" stroke-width="0.5"/><path d="M7,18.5 L10,17 L11,19 L21,21 V27 L9,22 Z" fill="#9ed848" stroke="#9ed848" stroke-width="0.5"/><path d="M-1,10 L8,9.5 L10,11 L9.5,14 L6,15 L-1,15 Z" fill="#ec942c" stroke="#ec942c" stroke-width="0.5"/><path d="M12,8 L15,8 L21,7.5 V12 L16,13 L14,12 L12.5,10 Z" fill="#d8361c" stroke="#d8361c" stroke-width="0.5"/></g><defs><linearGradient id="lg93" x1="0" y1="0" x2="0" y2="1"><stop offset="0" stop-color="#4cb84c"/><stop offset="0.5" stop-color="#f0e040"/><stop offset="1" stop-color="#d02020"/></linearGradient></defs><rect x="206.80" y="345.40" width="3.00" height="17.00" fill="url(#lg93)" /><g transform="translate(101.60,369.60) scale(0.9750,0.9808)" clip-path="url(#hb)"><rect x="0" y="0" width="20" height="26" fill="#d6e040"/><path d="M-1,-1 H10 L10,7 L8,9.5 L-1,10 Z" fill="#f2d43a" stroke="#f2d43a" stroke-width="0.5"/><path d="M10,-1 H21 V7.5 L15,8 L12,8 L10,7 Z" fill="#f2d43a" stroke="#f2d43a" stroke-width="0.5"/><path d="M8,9.5 L10,7 L12,8 L12.5,10 L10,11 Z" fill="#e4b432" stroke="#e4b432" stroke-width="0.5"/><path d="M12.5,10 L14,12 L16,13 L14,15 L12,12.5 Z" fill="#e4b432" stroke="#e4b432" stroke-width="0.5"/><path d="M10,11 L12.5,10 L12,12.5 L9.5,14 Z" fill="#e4b432" stroke="#e4b432" stroke-width="0.5"/><path d="M-1,19 L7,18.5 L9,22 L7,23 L-1,22.5 Z" fill="#d6e040" stroke="#d6e040" stroke-width="0.5"/><path d="M-1,22.5 L7,23 L9,22 L21,27 V27 H-1 Z" fill="#d6e040" stroke="#d6e040" stroke-width="0.5"/><path d="M7,18.5 L10,17 L11,19 L21,21 V27 L9,22 Z" fill="#d6e040" stroke="#d6e040" stroke-width="0.5"/><path d="M-1,10 L8,9.5 L10,11 L9.5,14 L6,15 L-1,15 Z" fill="#e4b432" stroke="#e4b432" stroke-width="0.5"/><path d="M12,8 L15,8 L21,7.5 V12 L16,13 L14,12 L12.5,10 Z" fill="#f2d43a" stroke="#f2d43a" stroke-width="0.5"/></g><g transform="translate(122.60,369.60) scale(0.9750,0.9808)" clip-path="url(#hb)"><rect x="0" y="0" width="20" height="26" fill="#c0e048"/><path d="M-1,-1 H10 L10,7 L8,9.5 L-1,10 Z" fill="#f2d43a" stroke="#f2d43a" stroke-width="0.5"/><path d="M10,-1 H21 V7.5 L15,8 L12,8 L10,7 Z" fill="#f2d43a" stroke="#f2d43a" stroke-width="0.5"/><path d="M8,9.5 L10,7 L12,8 L12.5,10 L10,11 Z" fill="#ec942c" stroke="#ec942c" stroke-width="0.5"/><path d="M12.5,10 L14,12 L16,13 L14,15 L12,12.5 Z" fill="#ec942c" stroke="#ec942c" stroke-width="0.5"/><path d="M10,11 L12.5,10 L12,12.5 L9.5,14 Z" fill="#ec942c" stroke="#ec942c" stroke-width="0.5"/><path d="M-1,19 L7,18.5 L9,22 L7,23 L-1,22.5 Z" fill="#c0e048" stroke="#c0e048" stroke-width="0.5"/><path d="M-1,22.5 L7,23 L9,22 L21,27 V27 H-1 Z" fill="#c0e048" stroke="#c0e048" stroke-width="0.5"/><path d="M7,18.5 L10,17 L11,19 L21,21 V27 L9,22 Z" fill="#c0e048" stroke="#c0e048" stroke-width="0.5"/><path d="M-1,10 L8,9.5 L10,11 L9.5,14 L6,15 L-1,15 Z" fill="#e4b432" stroke="#e4b432" stroke-width="0.5"/><path d="M12,8 L15,8 L21,7.5 V12 L16,13 L14,12 L12.5,10 Z" fill="#f2d43a" stroke="#f2d43a" stroke-width="0.5"/></g><g transform="translate(143.80,369.60) scale(0.9750,0.9808)" clip-path="url(#hb)"><rect x="0" y="0" width="20" height="26" fill="#c0e048"/><path d="M-1,-1 H10 L10,7 L8,9.5 L-1,10 Z" fill="#f07020" stroke="#f07020" stroke-width="0.5"/><path d="M10,-1 H21 V7.5 L15,8 L12,8 L10,7 Z" fill="#d8361c" stroke="#d8361c" stroke-width="0.5"/><path d="M8,9.5 L10,7 L12,8 L12.5,10 L10,11 Z" fill="#f07020" stroke="#f07020" stroke-width="0.5"/><path d="M12.5,10 L14,12 L16,13 L14,15 L12,12.5 Z" fill="#f07020" stroke="#f07020" stroke-width="0.5"/><path d="M10,11 L12.5,10 L12,12.5 L9.5,14 Z" fill="#f07020" stroke="#f07020" stroke-width="0.5"/><path d="M-1,19 L7,18.5 L9,22 L7,23 L-1,22.5 Z" fill="#c0e048" stroke="#c0e048" stroke-width="0.5"/><path d="M-1,22.5 L7,23 L9,22 L21,27 V27 H-1 Z" fill="#c0e048" stroke="#c0e048" stroke-width="0.5"/><path d="M7,18.5 L10,17 L11,19 L21,21 V27 L9,22 Z" fill="#c0e048" stroke="#c0e048" stroke-width="0.5"/><path d="M-1,10 L8,9.5 L10,11 L9.5,14 L6,15 L-1,15 Z" fill="#f07020" stroke="#f07020" stroke-width="0.5"/><path d="M12,8 L15,8 L21,7.5 V12 L16,13 L14,12 L12.5,10 Z" fill="#f07020" stroke="#f07020" stroke-width="0.5"/></g><g transform="translate(164.80,369.60) scale(0.9750,0.9808)" clip-path="url(#hb)"><rect x="0" y="0" width="20" height="26" fill="#9ed848"/><path d="M-1,-1 H10 L10,7 L8,9.5 L-1,10 Z" fill="#ec942c" stroke="#ec942c" stroke-width="0.5"/><path d="M10,-1 H21 V7.5 L15,8 L12,8 L10,7 Z" fill="#ec942c" stroke="#ec942c" stroke-width="0.5"/><path d="M8,9.5 L10,7 L12,8 L12.5,10 L10,11 Z" fill="#d8361c" stroke="#d8361c" stroke-width="0.5"/><path d="M12.5,10 L14,12 L16,13 L14,15 L12,12.5 Z" fill="#ec942c" stroke="#ec942c" stroke-width="0.5"/><path d="M10,11 L12.5,10 L12,12.5 L9.5,14 Z" fill="#d8361c" stroke="#d8361c" stroke-width="0.5"/><path d="M-1,19 L7,18.5 L9,22 L7,23 L-1,22.5 Z" fill="#9ed848" stroke="#9ed848" stroke-width="0.5"/><path d="M-1,22.5 L7,23 L9,22 L21,27 V27 H-1 Z" fill="#9ed848" stroke="#9ed848" stroke-width="0.5"/><path d="M7,18.5 L10,17 L11,19 L21,21 V27 L9,22 Z" fill="#9ed848" stroke="#9ed848" stroke-width="0.5"/><path d="M12,8 L15,8 L21,7.5 V12 L16,13 L14,12 L12.5,10 Z" fill="#ec942c" stroke="#ec942c" stroke-width="0.5"/><path d="M-1,10 L8,9.5 L10,11 L9.5,14 L6,15 L-1,15 Z" fill="#f2d43a" stroke="#f2d43a" stroke-width="0.5"/></g><g transform="translate(186.00,369.60) scale(0.9750,0.9808)" clip-path="url(#hb)"><rect x="0" y="0" width="20" height="26" fill="#9ed848"/><path d="M-1,-1 H10 L10,7 L8,9.5 L-1,10 Z" fill="#f2d43a" stroke="#f2d43a" stroke-width="0.5"/><path d="M10,-1 H21 V7.5 L15,8 L12,8 L10,7 Z" fill="#ec942c" stroke="#ec942c" stroke-width="0.5"/><path d="M8,9.5 L10,7 L12,8 L12.5,10 L10,11 Z" fill="#d8361c" stroke="#d8361c" stroke-width="0.5"/><path d="M12.5,10 L14,12 L16,13 L14,15 L12,12.5 Z" fill="#ec942c" stroke="#ec942c" stroke-width="0.5"/><path d="M10,11 L12.5,10 L12,12.5 L9.5,14 Z" fill="#d8361c" stroke="#d8361c" stroke-width="0.5"/><path d="M-1,19 L7,18.5 L9,22 L7,23 L-1,22.5 Z" fill="#9ed848" stroke="#9ed848" stroke-width="0.5"/><path d="M-1,22.5 L7,23 L9,22 L21,27 V27 H-1 Z" fill="#9ed848" stroke="#9ed848" stroke-width="0.5"/><path d="M7,18.5 L10,17 L11,19 L21,21 V27 L9,22 Z" fill="#9ed848" stroke="#9ed848" stroke-width="0.5"/><path d="M12,8 L15,8 L21,7.5 V12 L16,13 L14,12 L12.5,10 Z" fill="#ec942c" stroke="#ec942c" stroke-width="0.5"/></g><defs><linearGradient id="lg100" x1="0" y1="0" x2="0" y2="1"><stop offset="0" stop-color="#4cb84c"/><stop offset="0.5" stop-color="#f0e040"/><stop offset="1" stop-color="#d02020"/></linearGradient></defs><rect x="206.80" y="374.60" width="3.00" height="17.00" fill="url(#lg100)" /><g transform="translate(238.20,281.20) scale(0.9650,1.0000)" clip-path="url(#hb)"><rect x="0" y="0" width="20" height="26" fill="#f7d2cb"/><path d="M-1,10 L8,9.5 L10,11 L9.5,14 L6,15 L-1,15 Z" fill="#f0aca2" stroke="#f0aca2" stroke-width="0.5"/><path d="M-1,15 L6,15 L9.5,14 L10,17 L7,18.5 L-1,19 Z" fill="#f0aca2" stroke="#f0aca2" stroke-width="0.5"/><path d="M8,9.5 L10,7 L12,8 L12.5,10 L10,11 Z" fill="#c42a24" stroke="#c42a24" stroke-width="0.5"/></g><rect x="242.2" y="279.8" width="4" height="0.9" fill="#9a9a9a"/><g transform="translate(259.70,281.20) scale(0.9650,1.0000)" clip-path="url(#hb)"><rect x="0" y="0" width="20" height="26" fill="#f7d2cb"/><path d="M-1,10 L8,9.5 L10,11 L9.5,14 L6,15 L-1,15 Z" fill="#f0aca2" stroke="#f0aca2" stroke-width="0.5"/><path d="M-1,15 L6,15 L9.5,14 L10,17 L7,18.5 L-1,19 Z" fill="#f0aca2" stroke="#f0aca2" stroke-width="0.5"/><path d="M8,9.5 L10,7 L12,8 L12.5,10 L10,11 Z" fill="#e67a68" stroke="#e67a68" stroke-width="0.5"/></g><rect x="263.7" y="279.8" width="4" height="0.9" fill="#9a9a9a"/><g transform="translate(281.30,281.20) scale(0.9650,1.0000)" clip-path="url(#hb)"><rect x="0" y="0" width="20" height="26" fill="#f7d2cb"/><path d="M-1,10 L8,9.5 L10,11 L9.5,14 L6,15 L-1,15 Z" fill="#f0aca2" stroke="#f0aca2" stroke-width="0.5"/><path d="M-1,15 L6,15 L9.5,14 L10,17 L7,18.5 L-1,19 Z" fill="#f0aca2" stroke="#f0aca2" stroke-width="0.5"/><path d="M-1,19 L7,18.5 L9,22 L7,23 L-1,22.5 Z" fill="#f0aca2" stroke="#f0aca2" stroke-width="0.5"/><path d="M-1,22.5 L7,23 L9,22 L21,27 V27 H-1 Z" fill="#f0aca2" stroke="#f0aca2" stroke-width="0.5"/><path d="M7,18.5 L10,17 L11,19 L21,21 V27 L9,22 Z" fill="#f0aca2" stroke="#f0aca2" stroke-width="0.5"/><path d="M8,9.5 L10,7 L12,8 L12.5,10 L10,11 Z" fill="#e67a68" stroke="#e67a68" stroke-width="0.5"/></g><rect x="285.3" y="279.8" width="4" height="0.9" fill="#9a9a9a"/><g transform="translate(302.80,281.20) scale(0.9650,1.0000)" clip-path="url(#hb)"><rect x="0" y="0" width="20" height="26" fill="#f7d2cb"/><path d="M-1,10 L8,9.5 L10,11 L9.5,14 L6,15 L-1,15 Z" fill="#e67a68" stroke="#e67a68" stroke-width="0.5"/><path d="M-1,15 L6,15 L9.5,14 L10,17 L7,18.5 L-1,19 Z" fill="#e67a68" stroke="#e67a68" stroke-width="0.5"/><path d="M-1,19 L7,18.5 L9,22 L7,23 L-1,22.5 Z" fill="#f0aca2" stroke="#f0aca2" stroke-width="0.5"/><path d="M-1,22.5 L7,23 L9,22 L21,27 V27 H-1 Z" fill="#f0aca2" stroke="#f0aca2" stroke-width="0.5"/><path d="M7,18.5 L10,17 L11,19 L21,21 V27 L9,22 Z" fill="#f0aca2" stroke="#f0aca2" stroke-width="0.5"/></g><rect x="306.8" y="279.8" width="4" height="0.9" fill="#9a9a9a"/><g transform="translate(323.30,281.20) scale(0.9650,1.0000)" clip-path="url(#hb)"><rect x="0" y="0" width="20" height="26" fill="#f7d2cb"/><path d="M-1,10 L8,9.5 L10,11 L9.5,14 L6,15 L-1,15 Z" fill="#e67a68" stroke="#e67a68" stroke-width="0.5"/><path d="M-1,15 L6,15 L9.5,14 L10,17 L7,18.5 L-1,19 Z" fill="#e67a68" stroke="#e67a68" stroke-width="0.5"/><path d="M-1,19 L7,18.5 L9,22 L7,23 L-1,22.5 Z" fill="#f0aca2" stroke="#f0aca2" stroke-width="0.5"/><path d="M-1,22.5 L7,23 L9,22 L21,27 V27 H-1 Z" fill="#f0aca2" stroke="#f0aca2" stroke-width="0.5"/><path d="M7,18.5 L10,17 L11,19 L21,21 V27 L9,22 Z" fill="#f0aca2" stroke="#f0aca2" stroke-width="0.5"/><path d="M8,9.5 L10,7 L12,8 L12.5,10 L10,11 Z" fill="#f0aca2" stroke="#f0aca2" stroke-width="0.5"/><path d="M12.5,10 L14,12 L16,13 L14,15 L12,12.5 Z" fill="#f0aca2" stroke="#f0aca2" stroke-width="0.5"/><path d="M10,11 L12.5,10 L12,12.5 L9.5,14 Z" fill="#f0aca2" stroke="#f0aca2" stroke-width="0.5"/></g><rect x="327.3" y="279.8" width="4" height="0.9" fill="#9a9a9a"/><defs><linearGradient id="lg112" x1="0" y1="0" x2="0" y2="1"><stop offset="0" stop-color="#9a1010"/><stop offset="1" stop-color="#fde0dc"/></linearGradient></defs><rect x="344.00" y="285.20" width="2.60" height="17.00" fill="url(#lg112)" /><g transform="translate(238.20,310.90) scale(0.9650,1.0000)" clip-path="url(#hb)"><rect x="0" y="0" width="20" height="26" fill="#f7d2cb"/><path d="M-1,10 L8,9.5 L10,11 L9.5,14 L6,15 L-1,15 Z" fill="#f0aca2" stroke="#f0aca2" stroke-width="0.5"/><path d="M-1,15 L6,15 L9.5,14 L10,17 L7,18.5 L-1,19 Z" fill="#f0aca2" stroke="#f0aca2" stroke-width="0.5"/></g><g transform="translate(259.70,310.90) scale(0.9650,1.0000)" clip-path="url(#hb)"><rect x="0" y="0" width="20" height="26" fill="#f0aca2"/><path d="M-1,-1 H10 L10,7 L8,9.5 L-1,10 Z" fill="#f7d2cb" stroke="#f7d2cb" stroke-width="0.5"/><path d="M10,-1 H21 V7.5 L15,8 L12,8 L10,7 Z" fill="#f7d2cb" stroke="#f7d2cb" stroke-width="0.5"/></g><g transform="translate(281.30,310.90) scale(0.9650,1.0000)" clip-path="url(#hb)"><rect x="0" y="0" width="20" height="26" fill="#f0aca2"/><path d="M-1,-1 H10 L10,7 L8,9.5 L-1,10 Z" fill="#f7d2cb" stroke="#f7d2cb" stroke-width="0.5"/><path d="M10,-1 H21 V7.5 L15,8 L12,8 L10,7 Z" fill="#f7d2cb" stroke="#f7d2cb" stroke-width="0.5"/><path d="M-1,10 L8,9.5 L10,11 L9.5,14 L6,15 L-1,15 Z" fill="#e67a68" stroke="#e67a68" stroke-width="0.5"/><path d="M-1,15 L6,15 L9.5,14 L10,17 L7,18.5 L-1,19 Z" fill="#e67a68" stroke="#e67a68" stroke-width="0.5"/></g><g transform="translate(302.80,310.90) scale(0.9650,1.0000)" clip-path="url(#hb)"><rect x="0" y="0" width="20" height="26" fill="#f0aca2"/><path d="M-1,-1 H10 L10,7 L8,9.5 L-1,10 Z" fill="#f7d2cb" stroke="#f7d2cb" stroke-width="0.5"/><path d="M10,-1 H21 V7.5 L15,8 L12,8 L10,7 Z" fill="#f7d2cb" stroke="#f7d2cb" stroke-width="0.5"/><path d="M-1,10 L8,9.5 L10,11 L9.5,14 L6,15 L-1,15 Z" fill="#e67a68" stroke="#e67a68" stroke-width="0.5"/><path d="M-1,15 L6,15 L9.5,14 L10,17 L7,18.5 L-1,19 Z" fill="#e67a68" stroke="#e67a68" stroke-width="0.5"/></g><g transform="translate(323.30,310.90) scale(0.9650,1.0000)" clip-path="url(#hb)"><rect x="0" y="0" width="20" height="26" fill="#f0aca2"/><path d="M-1,-1 H10 L10,7 L8,9.5 L-1,10 Z" fill="#f7d2cb" stroke="#f7d2cb" stroke-width="0.5"/><path d="M10,-1 H21 V7.5 L15,8 L12,8 L10,7 Z" fill="#f7d2cb" stroke="#f7d2cb" stroke-width="0.5"/><path d="M-1,10 L8,9.5 L10,11 L9.5,14 L6,15 L-1,15 Z" fill="#e67a68" stroke="#e67a68" stroke-width="0.5"/><path d="M-1,15 L6,15 L9.5,14 L10,17 L7,18.5 L-1,19 Z" fill="#e67a68" stroke="#e67a68" stroke-width="0.5"/></g><defs><linearGradient id="lg119" x1="0" y1="0" x2="0" y2="1"><stop offset="0" stop-color="#9a1010"/><stop offset="1" stop-color="#fde0dc"/></linearGradient></defs><rect x="344.00" y="314.90" width="2.60" height="17.00" fill="url(#lg119)" /><g transform="translate(238.20,340.60) scale(0.9650,1.0000)" clip-path="url(#hb)"><rect x="0" y="0" width="20" height="26" fill="#f7d2cb"/><path d="M-1,10 L8,9.5 L10,11 L9.5,14 L6,15 L-1,15 Z" fill="#f0aca2" stroke="#f0aca2" stroke-width="0.5"/><path d="M-1,15 L6,15 L9.5,14 L10,17 L7,18.5 L-1,19 Z" fill="#f0aca2" stroke="#f0aca2" stroke-width="0.5"/><circle cx="8" cy="11" r="1" fill="#c42a24"/><circle cx="12" cy="12" r="1" fill="#c42a24"/><circle cx="6" cy="15" r="1" fill="#e67a68"/></g><g transform="translate(259.70,340.60) scale(0.9650,1.0000)" clip-path="url(#hb)"><rect x="0" y="0" width="20" height="26" fill="#f7d2cb"/><path d="M-1,10 L8,9.5 L10,11 L9.5,14 L6,15 L-1,15 Z" fill="#f0aca2" stroke="#f0aca2" stroke-width="0.5"/><path d="M-1,15 L6,15 L9.5,14 L10,17 L7,18.5 L-1,19 Z" fill="#f0aca2" stroke="#f0aca2" stroke-width="0.5"/><circle cx="8" cy="11" r="1" fill="#c42a24"/><circle cx="12" cy="12" r="1" fill="#c42a24"/><circle cx="5" cy="16" r="1" fill="#c42a24"/></g><g transform="translate(281.30,340.60) scale(0.9650,1.0000)" clip-path="url(#hb)"><rect x="0" y="0" width="20" height="26" fill="#f7d2cb"/><path d="M-1,10 L8,9.5 L10,11 L9.5,14 L6,15 L-1,15 Z" fill="#e67a68" stroke="#e67a68" stroke-width="0.5"/><path d="M-1,15 L6,15 L9.5,14 L10,17 L7,18.5 L-1,19 Z" fill="#e67a68" stroke="#e67a68" stroke-width="0.5"/><circle cx="8" cy="11" r="1" fill="#c42a24"/><circle cx="12" cy="12" r="1" fill="#c42a24"/><circle cx="5" cy="18" r="1" fill="#c42a24"/></g><g transform="translate(302.80,340.60) scale(0.9650,1.0000)" clip-path="url(#hb)"><rect x="0" y="0" width="20" height="26" fill="#f0aca2"/><path d="M-1,10 L8,9.5 L10,11 L9.5,14 L6,15 L-1,15 Z" fill="#e67a68" stroke="#e67a68" stroke-width="0.5"/><path d="M-1,15 L6,15 L9.5,14 L10,17 L7,18.5 L-1,19 Z" fill="#e67a68" stroke="#e67a68" stroke-width="0.5"/><path d="M-1,-1 H10 L10,7 L8,9.5 L-1,10 Z" fill="#f7d2cb" stroke="#f7d2cb" stroke-width="0.5"/><path d="M10,-1 H21 V7.5 L15,8 L12,8 L10,7 Z" fill="#f7d2cb" stroke="#f7d2cb" stroke-width="0.5"/><circle cx="9" cy="11" r="1.2" fill="#c42a24"/><circle cx="13" cy="12" r="1.2" fill="#c42a24"/><circle cx="5" cy="18" r="1" fill="#c42a24"/></g><g transform="translate(323.30,340.60) scale(0.9650,1.0000)" clip-path="url(#hb)"><rect x="0" y="0" width="20" height="26" fill="#f0aca2"/><path d="M-1,10 L8,9.5 L10,11 L9.5,14 L6,15 L-1,15 Z" fill="#e67a68" stroke="#e67a68" stroke-width="0.5"/><path d="M-1,15 L6,15 L9.5,14 L10,17 L7,18.5 L-1,19 Z" fill="#e67a68" stroke="#e67a68" stroke-width="0.5"/><path d="M-1,-1 H10 L10,7 L8,9.5 L-1,10 Z" fill="#f7d2cb" stroke="#f7d2cb" stroke-width="0.5"/><path d="M10,-1 H21 V7.5 L15,8 L12,8 L10,7 Z" fill="#f7d2cb" stroke="#f7d2cb" stroke-width="0.5"/><circle cx="9" cy="11" r="1.2" fill="#c42a24"/><circle cx="13" cy="12" r="1.2" fill="#c42a24"/></g><defs><linearGradient id="lg126" x1="0" y1="0" x2="0" y2="1"><stop offset="0" stop-color="#9a1010"/><stop offset="1" stop-color="#fde0dc"/></linearGradient></defs><rect x="344.00" y="344.60" width="2.60" height="17.00" fill="url(#lg126)" /><g transform="translate(238.20,369.60) scale(0.9650,1.0000)" clip-path="url(#hb)"><rect x="0" y="0" width="20" height="26" fill="#f0aca2"/><path d="M-1,-1 H10 L10,7 L8,9.5 L-1,10 Z" fill="#f7d2cb" stroke="#f7d2cb" stroke-width="0.5"/><path d="M10,-1 H21 V7.5 L15,8 L12,8 L10,7 Z" fill="#f7d2cb" stroke="#f7d2cb" stroke-width="0.5"/><path d="M-1,10 L8,9.5 L10,11 L9.5,14 L6,15 L-1,15 Z" fill="#f0aca2" stroke="#f0aca2" stroke-width="0.5"/><path d="M-1,15 L6,15 L9.5,14 L10,17 L7,18.5 L-1,19 Z" fill="#f0aca2" stroke="#f0aca2" stroke-width="0.5"/></g><g transform="translate(259.70,369.60) scale(0.9650,1.0000)" clip-path="url(#hb)"><rect x="0" y="0" width="20" height="26" fill="#e67a68"/><path d="M-1,-1 H10 L10,7 L8,9.5 L-1,10 Z" fill="#f7d2cb" stroke="#f7d2cb" stroke-width="0.5"/><path d="M10,-1 H21 V7.5 L15,8 L12,8 L10,7 Z" fill="#f0aca2" stroke="#f0aca2" stroke-width="0.5"/><path d="M-1,10 L8,9.5 L10,11 L9.5,14 L6,15 L-1,15 Z" fill="#e67a68" stroke="#e67a68" stroke-width="0.5"/><path d="M-1,15 L6,15 L9.5,14 L10,17 L7,18.5 L-1,19 Z" fill="#e67a68" stroke="#e67a68" stroke-width="0.5"/></g><g transform="translate(281.30,369.60) scale(0.9650,1.0000)" clip-path="url(#hb)"><rect x="0" y="0" width="20" height="26" fill="#e67a68"/><path d="M-1,-1 H10 L10,7 L8,9.5 L-1,10 Z" fill="#f7d2cb" stroke="#f7d2cb" stroke-width="0.5"/><path d="M10,-1 H21 V7.5 L15,8 L12,8 L10,7 Z" fill="#f7d2cb" stroke="#f7d2cb" stroke-width="0.5"/><path d="M-1,10 L8,9.5 L10,11 L9.5,14 L6,15 L-1,15 Z" fill="#c42a24" stroke="#c42a24" stroke-width="0.5"/><path d="M-1,15 L6,15 L9.5,14 L10,17 L7,18.5 L-1,19 Z" fill="#c42a24" stroke="#c42a24" stroke-width="0.5"/><path d="M-1,19 L7,18.5 L9,22 L7,23 L-1,22.5 Z" fill="#e67a68" stroke="#e67a68" stroke-width="0.5"/><path d="M-1,22.5 L7,23 L9,22 L21,27 V27 H-1 Z" fill="#e67a68" stroke="#e67a68" stroke-width="0.5"/><path d="M7,18.5 L10,17 L11,19 L21,21 V27 L9,22 Z" fill="#e67a68" stroke="#e67a68" stroke-width="0.5"/></g><g transform="translate(302.80,369.60) scale(0.9650,1.0000)" clip-path="url(#hb)"><rect x="0" y="0" width="20" height="26" fill="#e67a68"/><path d="M-1,-1 H10 L10,7 L8,9.5 L-1,10 Z" fill="#f7d2cb" stroke="#f7d2cb" stroke-width="0.5"/><path d="M10,-1 H21 V7.5 L15,8 L12,8 L10,7 Z" fill="#f7d2cb" stroke="#f7d2cb" stroke-width="0.5"/><path d="M-1,10 L8,9.5 L10,11 L9.5,14 L6,15 L-1,15 Z" fill="#c42a24" stroke="#c42a24" stroke-width="0.5"/><path d="M-1,15 L6,15 L9.5,14 L10,17 L7,18.5 L-1,19 Z" fill="#c42a24" stroke="#c42a24" stroke-width="0.5"/><path d="M-1,19 L7,18.5 L9,22 L7,23 L-1,22.5 Z" fill="#e67a68" stroke="#e67a68" stroke-width="0.5"/><path d="M-1,22.5 L7,23 L9,22 L21,27 V27 H-1 Z" fill="#c42a24" stroke="#c42a24" stroke-width="0.5"/><path d="M7,18.5 L10,17 L11,19 L21,21 V27 L9,22 Z" fill="#e67a68" stroke="#e67a68" stroke-width="0.5"/></g><g transform="translate(323.30,369.60) scale(0.9650,1.0000)" clip-path="url(#hb)"><rect x="0" y="0" width="20" height="26" fill="#e67a68"/><path d="M-1,-1 H10 L10,7 L8,9.5 L-1,10 Z" fill="#f7d2cb" stroke="#f7d2cb" stroke-width="0.5"/><path d="M10,-1 H21 V7.5 L15,8 L12,8 L10,7 Z" fill="#f7d2cb" stroke="#f7d2cb" stroke-width="0.5"/><path d="M-1,10 L8,9.5 L10,11 L9.5,14 L6,15 L-1,15 Z" fill="#c42a24" stroke="#c42a24" stroke-width="0.5"/><path d="M-1,15 L6,15 L9.5,14 L10,17 L7,18.5 L-1,19 Z" fill="#c42a24" stroke="#c42a24" stroke-width="0.5"/><path d="M-1,19 L7,18.5 L9,22 L7,23 L-1,22.5 Z" fill="#c42a24" stroke="#c42a24" stroke-width="0.5"/></g><defs><linearGradient id="lg133" x1="0" y1="0" x2="0" y2="1"><stop offset="0" stop-color="#9a1010"/><stop offset="1" stop-color="#fde0dc"/></linearGradient></defs><rect x="344.00" y="373.60" width="2.60" height="17.00" fill="url(#lg133)" /><circle cx="261.6" cy="155.0" r="8.4" fill="#f6f2e4"/><path d="M257.60,148.30 A7.8,7.8 0 0 1 265.60,148.30 L263.34,152.08 A3.4,3.4 0 0 0 259.86,152.08Z" fill="#b6cc98" opacity="0.85"/><path d="M266.73,149.13 A7.8,7.8 0 0 1 269.20,156.73 L264.91,155.76 A3.4,3.4 0 0 0 263.84,152.44Z" fill="#bec096" opacity="0.85"/><path d="M268.77,158.07 A7.8,7.8 0 0 1 262.30,162.77 L261.91,158.39 A3.4,3.4 0 0 0 264.73,156.34Z" fill="#d1a894" opacity="0.85"/><path d="M260.90,162.77 A7.8,7.8 0 0 1 254.43,158.07 L258.47,156.34 A3.4,3.4 0 0 0 261.29,158.39Z" fill="#d3a594" opacity="0.85"/><path d="M254.00,156.73 A7.8,7.8 0 0 1 256.47,149.13 L259.36,152.44 A3.4,3.4 0 0 0 258.29,155.76Z" fill="#c1bc96" opacity="0.85"/><rect x="259.6" y="154.5" width="4" height="1" fill="#a8c0d8"/><path d="M260.6,149.0 q3,-5 6.6,-5.4" stroke="#cfdcc0" stroke-width="2.2" fill="none" opacity="0.9"/><path d="M262.6,148.0 l0.5,-4" stroke="#c8d4e4" stroke-width="0.8" fill="none"/><circle cx="282.3" cy="155.0" r="8.4" fill="#f6f2e4"/><path d="M278.30,148.30 A7.8,7.8 0 0 1 286.30,148.30 L284.04,152.08 A3.4,3.4 0 0 0 280.56,152.08Z" fill="#bdc197" opacity="0.85"/><path d="M287.43,149.13 A7.8,7.8 0 0 1 289.90,156.73 L285.61,155.76 A3.4,3.4 0 0 0 284.54,152.44Z" fill="#bdc297" opacity="0.85"/><path d="M289.47,158.07 A7.8,7.8 0 0 1 283.00,162.77 L282.61,158.39 A3.4,3.4 0 0 0 285.43,156.34Z" fill="#ccad95" opacity="0.85"/><path d="M281.60,162.77 A7.8,7.8 0 0 1 275.13,158.07 L279.17,156.34 A3.4,3.4 0 0 0 281.99,158.39Z" fill="#d3a594" opacity="0.85"/><path d="M274.70,156.73 A7.8,7.8 0 0 1 277.17,149.13 L280.06,152.44 A3.4,3.4 0 0 0 278.99,155.76Z" fill="#c2bc96" opacity="0.85"/><rect x="280.3" y="154.5" width="4" height="1" fill="#a8c0d8"/><path d="M281.3,149.0 q3,-5 6.8,-5.0" stroke="#cfdcc0" stroke-width="2.2" fill="none" opacity="0.9"/><path d="M283.3,148.0 l0.5,-4" stroke="#c8d4e4" stroke-width="0.8" fill="none"/><circle cx="302.8" cy="155.0" r="8.4" fill="#f6f2e4"/><path d="M298.80,148.30 A7.8,7.8 0 0 1 306.80,148.30 L304.54,152.08 A3.4,3.4 0 0 0 301.06,152.08Z" fill="#b6cc98" opacity="0.85"/><path d="M307.93,149.13 A7.8,7.8 0 0 1 310.40,156.73 L306.11,155.76 A3.4,3.4 0 0 0 305.04,152.44Z" fill="#bcc397" opacity="0.85"/><path d="M309.97,158.07 A7.8,7.8 0 0 1 303.50,162.77 L303.11,158.39 A3.4,3.4 0 0 0 305.93,156.34Z" fill="#d6a294" opacity="0.85"/><path d="M302.10,162.77 A7.8,7.8 0 0 1 295.63,158.07 L299.67,156.34 A3.4,3.4 0 0 0 302.49,158.39Z" fill="#d5a294" opacity="0.85"/><path d="M295.20,156.73 A7.8,7.8 0 0 1 297.67,149.13 L300.56,152.44 A3.4,3.4 0 0 0 299.49,155.76Z" fill="#bdc197" opacity="0.85"/><rect x="300.8" y="154.5" width="4" height="1" fill="#a8c0d8"/><path d="M301.8,149.0 q3,-5 7.9,-5.0" stroke="#cfdcc0" stroke-width="2.2" fill="none" opacity="0.9"/><path d="M303.8,148.0 l0.5,-4" stroke="#c8d4e4" stroke-width="0.8" fill="none"/><circle cx="322.6" cy="155.0" r="8.4" fill="#f6f2e4"/><path d="M318.60,148.30 A7.8,7.8 0 0 1 326.60,148.30 L324.34,152.08 A3.4,3.4 0 0 0 320.86,152.08Z" fill="#bcc397" opacity="0.85"/><path d="M327.73,149.13 A7.8,7.8 0 0 1 330.20,156.73 L325.91,155.76 A3.4,3.4 0 0 0 324.84,152.44Z" fill="#c1bc96" opacity="0.85"/><path d="M329.77,158.07 A7.8,7.8 0 0 1 323.30,162.77 L322.91,158.39 A3.4,3.4 0 0 0 325.73,156.34Z" fill="#d2a794" opacity="0.85"/><path d="M321.90,162.77 A7.8,7.8 0 0 1 315.43,158.07 L319.47,156.34 A3.4,3.4 0 0 0 322.29,158.39Z" fill="#cfab94" opacity="0.85"/><path d="M315.00,156.73 A7.8,7.8 0 0 1 317.47,149.13 L320.36,152.44 A3.4,3.4 0 0 0 319.29,155.76Z" fill="#c0be96" opacity="0.85"/><rect x="320.6" y="154.5" width="4" height="1" fill="#a8c0d8"/><path d="M321.6,149.0 q3,-5 5.3,-3.0" stroke="#cfdcc0" stroke-width="2.2" fill="none" opacity="0.9"/><path d="M323.6,148.0 l0.5,-4" stroke="#c8d4e4" stroke-width="0.8" fill="none"/><circle cx="261.6" cy="174.2" r="8.4" fill="#f6f2e4"/><path d="M257.60,167.50 A7.8,7.8 0 0 1 265.60,167.50 L263.34,171.28 A3.4,3.4 0 0 0 259.86,171.28Z" fill="#bcc397" opacity="0.85"/><path d="M266.73,168.33 A7.8,7.8 0 0 1 269.20,175.93 L264.91,174.96 A3.4,3.4 0 0 0 263.84,171.64Z" fill="#c7b595" opacity="0.85"/><path d="M268.77,177.27 A7.8,7.8 0 0 1 262.30,181.97 L261.91,177.59 A3.4,3.4 0 0 0 264.73,175.54Z" fill="#d1a794" opacity="0.85"/><path d="M260.90,181.97 A7.8,7.8 0 0 1 254.43,177.27 L258.47,175.54 A3.4,3.4 0 0 0 261.29,177.59Z" fill="#d4a394" opacity="0.85"/><path d="M254.00,175.93 A7.8,7.8 0 0 1 256.47,168.33 L259.36,171.64 A3.4,3.4 0 0 0 258.29,174.96Z" fill="#c7b495" opacity="0.85"/><rect x="259.6" y="173.7" width="4" height="1" fill="#a8c0d8"/><path d="M260.6,168.2 q3,-5 6.6,-5.8" stroke="#cfdcc0" stroke-width="2.2" fill="none" opacity="0.9"/><path d="M262.6,167.2 l0.5,-4" stroke="#c8d4e4" stroke-width="0.8" fill="none"/><circle cx="282.3" cy="174.2" r="8.4" fill="#f6f2e4"/><path d="M278.30,167.50 A7.8,7.8 0 0 1 286.30,167.50 L284.04,171.28 A3.4,3.4 0 0 0 280.56,171.28Z" fill="#b7c997" opacity="0.85"/><path d="M287.43,168.33 A7.8,7.8 0 0 1 289.90,175.93 L285.61,174.96 A3.4,3.4 0 0 0 284.54,171.64Z" fill="#bec096" opacity="0.85"/><path d="M289.47,177.27 A7.8,7.8 0 0 1 283.00,181.97 L282.61,177.59 A3.4,3.4 0 0 0 285.43,175.54Z" fill="#ccae95" opacity="0.85"/><path d="M281.60,181.97 A7.8,7.8 0 0 1 275.13,177.27 L279.17,175.54 A3.4,3.4 0 0 0 281.99,177.59Z" fill="#cab095" opacity="0.85"/><path d="M274.70,175.93 A7.8,7.8 0 0 1 277.17,168.33 L280.06,171.64 A3.4,3.4 0 0 0 278.99,174.96Z" fill="#bec096" opacity="0.85"/><rect x="280.3" y="173.7" width="4" height="1" fill="#a8c0d8"/><path d="M281.3,168.2 q3,-5 8.7,-3.1" stroke="#cfdcc0" stroke-width="2.2" fill="none" opacity="0.9"/><path d="M283.3,167.2 l0.5,-4" stroke="#c8d4e4" stroke-width="0.8" fill="none"/><circle cx="302.8" cy="174.2" r="8.4" fill="#f6f2e4"/><path d="M298.80,167.50 A7.8,7.8 0 0 1 306.80,167.50 L304.54,171.28 A3.4,3.4 0 0 0 301.06,171.28Z" fill="#b6cc98" opacity="0.85"/><path d="M307.93,168.33 A7.8,7.8 0 0 1 310.40,175.93 L306.11,174.96 A3.4,3.4 0 0 0 305.04,171.64Z" fill="#bdc197" opacity="0.85"/><path d="M309.97,177.27 A7.8,7.8 0 0 1 303.50,181.97 L303.11,177.59 A3.4,3.4 0 0 0 305.93,175.54Z" fill="#d0a994" opacity="0.85"/><path d="M302.10,181.97 A7.8,7.8 0 0 1 295.63,177.27 L299.67,175.54 A3.4,3.4 0 0 0 302.49,177.59Z" fill="#d3a594" opacity="0.85"/><path d="M295.20,175.93 A7.8,7.8 0 0 1 297.67,168.33 L300.56,171.64 A3.4,3.4 0 0 0 299.49,174.96Z" fill="#c8b395" opacity="0.85"/><rect x="300.8" y="173.7" width="4" height="1" fill="#a8c0d8"/><path d="M301.8,168.2 q3,-5 7.7,-4.4" stroke="#cfdcc0" stroke-width="2.2" fill="none" opacity="0.9"/><path d="M303.8,167.2 l0.5,-4" stroke="#c8d4e4" stroke-width="0.8" fill="none"/><circle cx="322.6" cy="174.2" r="8.4" fill="#f6f2e4"/><path d="M318.60,167.50 A7.8,7.8 0 0 1 326.60,167.50 L324.34,171.28 A3.4,3.4 0 0 0 320.86,171.28Z" fill="#bbc497" opacity="0.85"/><path d="M327.73,168.33 A7.8,7.8 0 0 1 330.20,175.93 L325.91,174.96 A3.4,3.4 0 0 0 324.84,171.64Z" fill="#c6b695" opacity="0.85"/><path d="M329.77,177.27 A7.8,7.8 0 0 1 323.30,181.97 L322.91,177.59 A3.4,3.4 0 0 0 325.73,175.54Z" fill="#ceab94" opacity="0.85"/><path d="M321.90,181.97 A7.8,7.8 0 0 1 315.43,177.27 L319.47,175.54 A3.4,3.4 0 0 0 322.29,177.59Z" fill="#d5a294" opacity="0.85"/><path d="M315.00,175.93 A7.8,7.8 0 0 1 317.47,168.33 L320.36,171.64 A3.4,3.4 0 0 0 319.29,174.96Z" fill="#c1bc96" opacity="0.85"/><rect x="320.6" y="173.7" width="4" height="1" fill="#a8c0d8"/><path d="M321.6,168.2 q3,-5 6.5,-3.2" stroke="#cfdcc0" stroke-width="2.2" fill="none" opacity="0.9"/><path d="M323.6,167.2 l0.5,-4" stroke="#c8d4e4" stroke-width="0.8" fill="none"/><circle cx="261.6" cy="193.7" r="8.4" fill="#f6f2e4"/><path d="M257.60,187.00 A7.8,7.8 0 0 1 265.60,187.00 L263.34,190.78 A3.4,3.4 0 0 0 259.86,190.78Z" fill="#bcc397" opacity="0.85"/><path d="M266.73,187.83 A7.8,7.8 0 0 1 269.20,195.43 L264.91,194.46 A3.4,3.4 0 0 0 263.84,191.14Z" fill="#bcc397" opacity="0.85"/><path d="M268.77,196.77 A7.8,7.8 0 0 1 262.30,201.47 L261.91,197.09 A3.4,3.4 0 0 0 264.73,195.04Z" fill="#d5a394" opacity="0.85"/><path d="M260.90,201.47 A7.8,7.8 0 0 1 254.43,196.77 L258.47,195.04 A3.4,3.4 0 0 0 261.29,197.09Z" fill="#cdac95" opacity="0.85"/><path d="M254.00,195.43 A7.8,7.8 0 0 1 256.47,187.83 L259.36,191.14 A3.4,3.4 0 0 0 258.29,194.46Z" fill="#c7b595" opacity="0.85"/><rect x="259.6" y="193.2" width="4" height="1" fill="#a8c0d8"/><path d="M260.6,187.7 q3,-5 6.0,-6.0" stroke="#cfdcc0" stroke-width="2.2" fill="none" opacity="0.9"/><path d="M262.6,186.7 l0.5,-4" stroke="#c8d4e4" stroke-width="0.8" fill="none"/><circle cx="282.3" cy="193.7" r="8.4" fill="#f6f2e4"/><path d="M278.30,187.00 A7.8,7.8 0 0 1 286.30,187.00 L284.04,190.78 A3.4,3.4 0 0 0 280.56,190.78Z" fill="#b9c797" opacity="0.85"/><path d="M287.43,187.83 A7.8,7.8 0 0 1 289.90,195.43 L285.61,194.46 A3.4,3.4 0 0 0 284.54,191.14Z" fill="#c3ba96" opacity="0.85"/><path d="M289.47,196.77 A7.8,7.8 0 0 1 283.00,201.47 L282.61,197.09 A3.4,3.4 0 0 0 285.43,195.04Z" fill="#d4a394" opacity="0.85"/><path d="M281.60,201.47 A7.8,7.8 0 0 1 275.13,196.77 L279.17,195.04 A3.4,3.4 0 0 0 281.99,197.09Z" fill="#cbaf95" opacity="0.85"/><path d="M274.70,195.43 A7.8,7.8 0 0 1 277.17,187.83 L280.06,191.14 A3.4,3.4 0 0 0 278.99,194.46Z" fill="#c8b395" opacity="0.85"/><rect x="280.3" y="193.2" width="4" height="1" fill="#a8c0d8"/><path d="M281.3,187.7 q3,-5 7.0,-5.7" stroke="#cfdcc0" stroke-width="2.2" fill="none" opacity="0.9"/><path d="M283.3,186.7 l0.5,-4" stroke="#c8d4e4" stroke-width="0.8" fill="none"/><circle cx="302.8" cy="193.7" r="8.4" fill="#f6f2e4"/><path d="M298.80,187.00 A7.8,7.8 0 0 1 306.80,187.00 L304.54,190.78 A3.4,3.4 0 0 0 301.06,190.78Z" fill="#b8c897" opacity="0.85"/><path d="M307.93,187.83 A7.8,7.8 0 0 1 310.40,195.43 L306.11,194.46 A3.4,3.4 0 0 0 305.04,191.14Z" fill="#c2ba96" opacity="0.85"/><path d="M309.97,196.77 A7.8,7.8 0 0 1 303.50,201.47 L303.11,197.09 A3.4,3.4 0 0 0 305.93,195.04Z" fill="#cfaa94" opacity="0.85"/><path d="M302.10,201.47 A7.8,7.8 0 0 1 295.63,196.77 L299.67,195.04 A3.4,3.4 0 0 0 302.49,197.09Z" fill="#d4a494" opacity="0.85"/><path d="M295.20,195.43 A7.8,7.8 0 0 1 297.67,187.83 L300.56,191.14 A3.4,3.4 0 0 0 299.49,194.46Z" fill="#bec196" opacity="0.85"/><rect x="300.8" y="193.2" width="4" height="1" fill="#a8c0d8"/><path d="M301.8,187.7 q3,-5 8.3,-5.0" stroke="#cfdcc0" stroke-width="2.2" fill="none" opacity="0.9"/><path d="M303.8,186.7 l0.5,-4" stroke="#c8d4e4" stroke-width="0.8" fill="none"/><circle cx="322.6" cy="193.7" r="8.4" fill="#f6f2e4"/><path d="M318.60,187.00 A7.8,7.8 0 0 1 326.60,187.00 L324.34,190.78 A3.4,3.4 0 0 0 320.86,190.78Z" fill="#b9c697" opacity="0.85"/><path d="M327.73,187.83 A7.8,7.8 0 0 1 330.20,195.43 L325.91,194.46 A3.4,3.4 0 0 0 324.84,191.14Z" fill="#c1bd96" opacity="0.85"/><path d="M329.77,196.77 A7.8,7.8 0 0 1 323.30,201.47 L322.91,197.09 A3.4,3.4 0 0 0 325.73,195.04Z" fill="#cab095" opacity="0.85"/><path d="M321.90,201.47 A7.8,7.8 0 0 1 315.43,196.77 L319.47,195.04 A3.4,3.4 0 0 0 322.29,197.09Z" fill="#d0a894" opacity="0.85"/><path d="M315.00,195.43 A7.8,7.8 0 0 1 317.47,187.83 L320.36,191.14 A3.4,3.4 0 0 0 319.29,194.46Z" fill="#c1bc96" opacity="0.85"/><rect x="320.6" y="193.2" width="4" height="1" fill="#a8c0d8"/><path d="M321.6,187.7 q3,-5 7.3,-3.6" stroke="#cfdcc0" stroke-width="2.2" fill="none" opacity="0.9"/><path d="M323.6,186.7 l0.5,-4" stroke="#c8d4e4" stroke-width="0.8" fill="none"/><circle cx="261.6" cy="213.6" r="8.4" fill="#f6f2e4"/><path d="M257.60,206.90 A7.8,7.8 0 0 1 265.60,206.90 L263.34,210.68 A3.4,3.4 0 0 0 259.86,210.68Z" fill="#b9c797" opacity="0.85"/><path d="M266.73,207.73 A7.8,7.8 0 0 1 269.20,215.33 L264.91,214.36 A3.4,3.4 0 0 0 263.84,211.04Z" fill="#c0be96" opacity="0.85"/><path d="M268.77,216.67 A7.8,7.8 0 0 1 262.30,221.37 L261.91,216.99 A3.4,3.4 0 0 0 264.73,214.94Z" fill="#ceac94" opacity="0.85"/><path d="M260.90,221.37 A7.8,7.8 0 0 1 254.43,216.67 L258.47,214.94 A3.4,3.4 0 0 0 261.29,216.99Z" fill="#d4a394" opacity="0.85"/><path d="M254.00,215.33 A7.8,7.8 0 0 1 256.47,207.73 L259.36,211.04 A3.4,3.4 0 0 0 258.29,214.36Z" fill="#c8b395" opacity="0.85"/><rect x="259.6" y="213.1" width="4" height="1" fill="#a8c0d8"/><path d="M260.6,207.6 q3,-5 6.5,-3.8" stroke="#cfdcc0" stroke-width="2.2" fill="none" opacity="0.9"/><path d="M262.6,206.6 l0.5,-4" stroke="#c8d4e4" stroke-width="0.8" fill="none"/><circle cx="282.3" cy="213.6" r="8.4" fill="#f6f2e4"/><path d="M278.30,206.90 A7.8,7.8 0 0 1 286.30,206.90 L284.04,210.68 A3.4,3.4 0 0 0 280.56,210.68Z" fill="#bcc397" opacity="0.85"/><path d="M287.43,207.73 A7.8,7.8 0 0 1 289.90,215.33 L285.61,214.36 A3.4,3.4 0 0 0 284.54,211.04Z" fill="#bfbf96" opacity="0.85"/><path d="M289.47,216.67 A7.8,7.8 0 0 1 283.00,221.37 L282.61,216.99 A3.4,3.4 0 0 0 285.43,214.94Z" fill="#cdac95" opacity="0.85"/><path d="M281.60,221.37 A7.8,7.8 0 0 1 275.13,216.67 L279.17,214.94 A3.4,3.4 0 0 0 281.99,216.99Z" fill="#cbaf95" opacity="0.85"/><path d="M274.70,215.33 A7.8,7.8 0 0 1 277.17,207.73 L280.06,211.04 A3.4,3.4 0 0 0 278.99,214.36Z" fill="#c6b695" opacity="0.85"/><rect x="280.3" y="213.1" width="4" height="1" fill="#a8c0d8"/><path d="M281.3,207.6 q3,-5 5.9,-3.4" stroke="#cfdcc0" stroke-width="2.2" fill="none" opacity="0.9"/><path d="M283.3,206.6 l0.5,-4" stroke="#c8d4e4" stroke-width="0.8" fill="none"/><circle cx="302.8" cy="213.6" r="8.4" fill="#f6f2e4"/><path d="M298.80,206.90 A7.8,7.8 0 0 1 306.80,206.90 L304.54,210.68 A3.4,3.4 0 0 0 301.06,210.68Z" fill="#bec196" opacity="0.85"/><path d="M307.93,207.73 A7.8,7.8 0 0 1 310.40,215.33 L306.11,214.36 A3.4,3.4 0 0 0 305.04,211.04Z" fill="#bfbf96" opacity="0.85"/><path d="M309.97,216.67 A7.8,7.8 0 0 1 303.50,221.37 L303.11,216.99 A3.4,3.4 0 0 0 305.93,214.94Z" fill="#ceab94" opacity="0.85"/><path d="M302.10,221.37 A7.8,7.8 0 0 1 295.63,216.67 L299.67,214.94 A3.4,3.4 0 0 0 302.49,216.99Z" fill="#cab095" opacity="0.85"/><path d="M295.20,215.33 A7.8,7.8 0 0 1 297.67,207.73 L300.56,211.04 A3.4,3.4 0 0 0 299.49,214.36Z" fill="#c4b896" opacity="0.85"/><rect x="300.8" y="213.1" width="4" height="1" fill="#a8c0d8"/><path d="M301.8,207.6 q3,-5 6.0,-5.2" stroke="#cfdcc0" stroke-width="2.2" fill="none" opacity="0.9"/><path d="M303.8,206.6 l0.5,-4" stroke="#c8d4e4" stroke-width="0.8" fill="none"/><circle cx="322.6" cy="213.6" r="8.4" fill="#f6f2e4"/><path d="M318.60,206.90 A7.8,7.8 0 0 1 326.60,206.90 L324.34,210.68 A3.4,3.4 0 0 0 320.86,210.68Z" fill="#b6cc98" opacity="0.85"/><path d="M327.73,207.73 A7.8,7.8 0 0 1 330.20,215.33 L325.91,214.36 A3.4,3.4 0 0 0 324.84,211.04Z" fill="#c8b395" opacity="0.85"/><path d="M329.77,216.67 A7.8,7.8 0 0 1 323.30,221.37 L322.91,216.99 A3.4,3.4 0 0 0 325.73,214.94Z" fill="#cdad95" opacity="0.85"/><path d="M321.90,221.37 A7.8,7.8 0 0 1 315.43,216.67 L319.47,214.94 A3.4,3.4 0 0 0 322.29,216.99Z" fill="#d4a394" opacity="0.85"/><path d="M315.00,215.33 A7.8,7.8 0 0 1 317.47,207.73 L320.36,211.04 A3.4,3.4 0 0 0 319.29,214.36Z" fill="#bbc497" opacity="0.85"/><rect x="320.6" y="213.1" width="4" height="1" fill="#a8c0d8"/><path d="M321.6,207.6 q3,-5 5.1,-5.6" stroke="#cfdcc0" stroke-width="2.2" fill="none" opacity="0.9"/><path d="M323.6,206.6 l0.5,-4" stroke="#c8d4e4" stroke-width="0.8" fill="none"/><rect x="268" y="223.5" width="30" height="1" fill="#c0c8d0"/><rect x="272" y="226" width="22" height="1" fill="#c0c8d0"/><g transform="translate(235.5,232.5) scale(1.050,1.000)" clip-path="url(#hb)"><rect width="20" height="26" fill="#f8fbf2" stroke="#e4ecd8" stroke-width="0.6"/><circle cx="6.5" cy="3.9" r="0.9" fill="#a8d080"/><circle cx="1.4" cy="13.9" r="0.9" fill="#98c070"/><circle cx="11.7" cy="23.7" r="0.9" fill="#d8e880"/><circle cx="0.7" cy="11.3" r="0.9" fill="#a8d080"/><circle cx="4.8" cy="14.3" r="0.9" fill="#a8d080"/><circle cx="16.5" cy="3.2" r="0.9" fill="#d8e880"/><circle cx="12.6" cy="15.2" r="0.9" fill="#a8d080"/><circle cx="11.5" cy="10.3" r="0.9" fill="#d8e880"/><circle cx="0.9" cy="22.3" r="0.9" fill="#98c070"/><circle cx="8.4" cy="14.1" r="0.9" fill="#98c070"/><circle cx="11.2" cy="17.7" r="0.9" fill="#a8d080"/><circle cx="11.6" cy="16.6" r="0.9" fill="#98c070"/><circle cx="1.9" cy="18.5" r="0.9" fill="#a8d080"/><circle cx="12.4" cy="12.9" r="0.9" fill="#e8e890"/><circle cx="15.5" cy="12.1" r="0.9" fill="#e8e890"/><circle cx="7.2" cy="6.5" r="0.9" fill="#d8e880"/><circle cx="14.0" cy="6.3" r="0.9" fill="#98c070"/><circle cx="10.5" cy="22.8" r="0.9" fill="#e8e890"/><circle cx="5.8" cy="25.5" r="0.9" fill="#a8d080"/><circle cx="10.2" cy="4.3" r="0.9" fill="#98c070"/><circle cx="3.0" cy="12.7" r="0.9" fill="#a8d080"/><circle cx="19.2" cy="2.0" r="0.9" fill="#98c070"/><circle cx="6.8" cy="9.1" r="0.9" fill="#e8e890"/><circle cx="11.6" cy="11.9" r="0.9" fill="#a8d080"/><circle cx="18.9" cy="12.3" r="0.9" fill="#a8d080"/><circle cx="1.2" cy="18.2" r="0.9" fill="#e8e890"/><circle cx="5.7" cy="10.0" r="0.9" fill="#98c070"/><circle cx="0.5" cy="12.0" r="0.9" fill="#d8e880"/><circle cx="12.2" cy="12.8" r="0.9" fill="#d8e880"/><circle cx="15.4" cy="3.4" r="0.9" fill="#d8e880"/><circle cx="8.0" cy="23.8" r="0.9" fill="#e8e890"/><circle cx="1.6" cy="11.7" r="0.9" fill="#98c070"/><circle cx="17.7" cy="21.3" r="0.9" fill="#98c070"/><circle cx="14.1" cy="25.6" r="0.9" fill="#e8e890"/><circle cx="19.2" cy="3.9" r="0.9" fill="#d8e880"/><circle cx="3.0" cy="17.1" r="0.9" fill="#a8d080"/><circle cx="9.7" cy="15.3" r="0.9" fill="#98c070"/><circle cx="5.6" cy="3.8" r="0.9" fill="#98c070"/><circle cx="12.2" cy="8.3" r="0.9" fill="#d8e880"/><circle cx="13.8" cy="13.4" r="0.9" fill="#a8d080"/></g><g transform="translate(258.5,232.5) scale(1.050,1.000)" clip-path="url(#hb)"><rect width="20" height="26" fill="#f8fbf2" stroke="#e4ecd8" stroke-width="0.6"/><circle cx="9.1" cy="22.6" r="0.9" fill="#e8e890"/><circle cx="8.0" cy="10.2" r="0.9" fill="#e8e890"/><circle cx="12.7" cy="1.6" r="0.9" fill="#a8d080"/><circle cx="19.7" cy="11.5" r="0.9" fill="#a8d080"/><circle cx="6.8" cy="1.4" r="0.9" fill="#a8d080"/><circle cx="11.3" cy="14.0" r="0.9" fill="#98c070"/><circle cx="12.3" cy="1.8" r="0.9" fill="#d8e880"/><circle cx="12.3" cy="3.9" r="0.9" fill="#98c070"/><circle cx="19.1" cy="15.7" r="0.9" fill="#e8e890"/><circle cx="2.5" cy="22.1" r="0.9" fill="#e8e890"/><circle cx="9.6" cy="8.1" r="0.9" fill="#d8e880"/><circle cx="2.0" cy="8.9" r="0.9" fill="#98c070"/><circle cx="9.6" cy="18.0" r="0.9" fill="#a8d080"/><circle cx="4.1" cy="24.8" r="0.9" fill="#98c070"/><circle cx="2.9" cy="14.1" r="0.9" fill="#a8d080"/><circle cx="15.2" cy="7.8" r="0.9" fill="#a8d080"/><circle cx="13.9" cy="6.8" r="0.9" fill="#98c070"/><circle cx="18.2" cy="9.2" r="0.9" fill="#d8e880"/><circle cx="10.7" cy="20.3" r="0.9" fill="#98c070"/><circle cx="12.7" cy="15.9" r="0.9" fill="#d8e880"/><circle cx="16.1" cy="21.3" r="0.9" fill="#d8e880"/><circle cx="4.0" cy="12.8" r="0.9" fill="#a8d080"/><circle cx="19.8" cy="20.5" r="0.9" fill="#e8e890"/><circle cx="5.2" cy="18.0" r="0.9" fill="#98c070"/><circle cx="8.9" cy="24.4" r="0.9" fill="#98c070"/><circle cx="19.1" cy="9.5" r="0.9" fill="#d8e880"/><circle cx="2.0" cy="12.2" r="0.9" fill="#98c070"/><circle cx="4.1" cy="16.2" r="0.9" fill="#a8d080"/><circle cx="9.6" cy="17.0" r="0.9" fill="#a8d080"/><circle cx="16.7" cy="3.1" r="0.9" fill="#e8e890"/><circle cx="15.6" cy="19.5" r="0.9" fill="#e8e890"/><circle cx="17.8" cy="11.3" r="0.9" fill="#98c070"/><circle cx="1.7" cy="24.6" r="0.9" fill="#e8e890"/><circle cx="9.3" cy="19.3" r="0.9" fill="#a8d080"/><circle cx="14.5" cy="4.4" r="0.9" fill="#d8e880"/><circle cx="0.6" cy="15.4" r="0.9" fill="#e8e890"/><circle cx="16.1" cy="3.8" r="0.9" fill="#e8e890"/><circle cx="13.1" cy="9.1" r="0.9" fill="#d8e880"/><circle cx="0.4" cy="20.8" r="0.9" fill="#a8d080"/><circle cx="10.5" cy="24.3" r="0.9" fill="#e8e890"/></g><g transform="translate(282.0,232.5) scale(1.050,1.000)" clip-path="url(#hb)"><rect width="20" height="26" fill="#f8fbf2" stroke="#e4ecd8" stroke-width="0.6"/><circle cx="19.7" cy="5.1" r="0.9" fill="#d8e880"/><circle cx="0.6" cy="5.5" r="0.9" fill="#d8e880"/><circle cx="15.3" cy="8.5" r="0.9" fill="#e8e890"/><circle cx="16.7" cy="1.6" r="0.9" fill="#98c070"/><circle cx="18.0" cy="17.2" r="0.9" fill="#e8e890"/><circle cx="16.5" cy="22.8" r="0.9" fill="#d8e880"/><circle cx="10.6" cy="13.6" r="0.9" fill="#a8d080"/><circle cx="17.5" cy="20.2" r="0.9" fill="#a8d080"/><circle cx="15.5" cy="3.9" r="0.9" fill="#d8e880"/><circle cx="9.5" cy="18.9" r="0.9" fill="#a8d080"/><circle cx="6.5" cy="13.5" r="0.9" fill="#e8e890"/><circle cx="15.7" cy="2.8" r="0.9" fill="#a8d080"/><circle cx="5.0" cy="7.2" r="0.9" fill="#a8d080"/><circle cx="10.2" cy="14.6" r="0.9" fill="#a8d080"/><circle cx="8.9" cy="15.9" r="0.9" fill="#d8e880"/><circle cx="13.9" cy="11.8" r="0.9" fill="#e8e890"/><circle cx="10.2" cy="6.4" r="0.9" fill="#98c070"/><circle cx="18.5" cy="23.2" r="0.9" fill="#d8e880"/><circle cx="16.8" cy="3.6" r="0.9" fill="#a8d080"/><circle cx="7.8" cy="8.2" r="0.9" fill="#d8e880"/><circle cx="8.6" cy="5.5" r="0.9" fill="#98c070"/><circle cx="15.7" cy="23.3" r="0.9" fill="#d8e880"/><circle cx="18.8" cy="16.7" r="0.9" fill="#98c070"/><circle cx="2.9" cy="23.0" r="0.9" fill="#e8e890"/><circle cx="4.4" cy="24.8" r="0.9" fill="#e8e890"/><circle cx="17.7" cy="4.2" r="0.9" fill="#d8e880"/><circle cx="3.2" cy="11.2" r="0.9" fill="#e8e890"/><circle cx="6.8" cy="5.1" r="0.9" fill="#98c070"/><circle cx="1.8" cy="9.5" r="0.9" fill="#98c070"/><circle cx="11.1" cy="11.5" r="0.9" fill="#a8d080"/><circle cx="7.7" cy="13.5" r="0.9" fill="#98c070"/><circle cx="10.2" cy="1.7" r="0.9" fill="#d8e880"/><circle cx="19.4" cy="2.7" r="0.9" fill="#98c070"/><circle cx="5.4" cy="23.6" r="0.9" fill="#d8e880"/><circle cx="5.4" cy="3.4" r="0.9" fill="#e8e890"/><circle cx="17.0" cy="17.6" r="0.9" fill="#98c070"/><circle cx="8.1" cy="14.0" r="0.9" fill="#e8e890"/><circle cx="14.0" cy="2.3" r="0.9" fill="#a8d080"/><circle cx="16.0" cy="4.8" r="0.9" fill="#a8d080"/><circle cx="5.4" cy="0.4" r="0.9" fill="#a8d080"/></g><g transform="translate(305.5,232.5) scale(1.050,1.000)" clip-path="url(#hb)"><rect width="20" height="26" fill="#f8fbf2" stroke="#e4ecd8" stroke-width="0.6"/><circle cx="16.0" cy="2.2" r="0.9" fill="#d8e880"/><circle cx="1.3" cy="22.4" r="0.9" fill="#e8e890"/><circle cx="0.2" cy="25.9" r="0.9" fill="#e8e890"/><circle cx="18.5" cy="7.0" r="0.9" fill="#d8e880"/><circle cx="0.9" cy="18.4" r="0.9" fill="#a8d080"/><circle cx="19.4" cy="6.8" r="0.9" fill="#d8e880"/><circle cx="4.0" cy="8.1" r="0.9" fill="#98c070"/><circle cx="10.6" cy="5.4" r="0.9" fill="#e8e890"/><circle cx="10.0" cy="4.6" r="0.9" fill="#98c070"/><circle cx="16.1" cy="25.9" r="0.9" fill="#a8d080"/><circle cx="0.3" cy="19.1" r="0.9" fill="#d8e880"/><circle cx="10.3" cy="6.4" r="0.9" fill="#e8e890"/><circle cx="2.1" cy="21.3" r="0.9" fill="#e8e890"/><circle cx="13.1" cy="14.2" r="0.9" fill="#e8e890"/><circle cx="19.4" cy="8.0" r="0.9" fill="#d8e880"/><circle cx="19.6" cy="8.9" r="0.9" fill="#d8e880"/><circle cx="8.1" cy="9.0" r="0.9" fill="#a8d080"/><circle cx="16.7" cy="0.4" r="0.9" fill="#98c070"/><circle cx="8.6" cy="1.4" r="0.9" fill="#e8e890"/><circle cx="17.4" cy="17.4" r="0.9" fill="#98c070"/><circle cx="12.0" cy="18.0" r="0.9" fill="#a8d080"/><circle cx="9.2" cy="4.1" r="0.9" fill="#e8e890"/><circle cx="0.1" cy="9.5" r="0.9" fill="#98c070"/><circle cx="19.5" cy="14.2" r="0.9" fill="#d8e880"/><circle cx="0.7" cy="22.9" r="0.9" fill="#d8e880"/><circle cx="7.1" cy="0.0" r="0.9" fill="#e8e890"/><circle cx="1.7" cy="7.3" r="0.9" fill="#d8e880"/><circle cx="5.0" cy="20.2" r="0.9" fill="#a8d080"/><circle cx="5.3" cy="2.3" r="0.9" fill="#e8e890"/><circle cx="11.7" cy="10.2" r="0.9" fill="#98c070"/><circle cx="6.1" cy="6.1" r="0.9" fill="#d8e880"/><circle cx="13.2" cy="18.6" r="0.9" fill="#e8e890"/><circle cx="15.3" cy="18.7" r="0.9" fill="#e8e890"/><circle cx="3.0" cy="18.8" r="0.9" fill="#d8e880"/><circle cx="0.9" cy="21.7" r="0.9" fill="#e8e890"/><circle cx="14.7" cy="21.1" r="0.9" fill="#d8e880"/><circle cx="18.2" cy="19.6" r="0.9" fill="#a8d080"/><circle cx="16.5" cy="15.2" r="0.9" fill="#d8e880"/><circle cx="1.7" cy="1.1" r="0.9" fill="#98c070"/><circle cx="19.2" cy="9.8" r="0.9" fill="#e8e890"/></g><g transform="translate(329.5,232.5) scale(1.050,1.000)" clip-path="url(#hb)"><rect width="20" height="26" fill="#f8fbf2" stroke="#e4ecd8" stroke-width="0.6"/><circle cx="11.2" cy="16.3" r="0.9" fill="#d8e880"/><circle cx="9.8" cy="0.1" r="0.9" fill="#a8d080"/><circle cx="15.0" cy="13.1" r="0.9" fill="#a8d080"/><circle cx="13.2" cy="1.7" r="0.9" fill="#e8e890"/><circle cx="5.0" cy="1.9" r="0.9" fill="#98c070"/><circle cx="4.7" cy="19.7" r="0.9" fill="#d8e880"/><circle cx="14.8" cy="25.4" r="0.9" fill="#e8e890"/><circle cx="16.9" cy="2.0" r="0.9" fill="#98c070"/><circle cx="15.3" cy="16.0" r="0.9" fill="#d8e880"/><circle cx="1.5" cy="3.8" r="0.9" fill="#98c070"/><circle cx="13.0" cy="18.0" r="0.9" fill="#d8e880"/><circle cx="0.2" cy="1.6" r="0.9" fill="#98c070"/><circle cx="19.5" cy="2.6" r="0.9" fill="#d8e880"/><circle cx="13.5" cy="7.6" r="0.9" fill="#98c070"/><circle cx="9.3" cy="12.1" r="0.9" fill="#a8d080"/><circle cx="19.9" cy="14.3" r="0.9" fill="#98c070"/><circle cx="19.6" cy="24.3" r="0.9" fill="#a8d080"/><circle cx="5.8" cy="2.0" r="0.9" fill="#e8e890"/><circle cx="19.9" cy="10.1" r="0.9" fill="#d8e880"/><circle cx="1.5" cy="2.3" r="0.9" fill="#98c070"/><circle cx="19.1" cy="3.4" r="0.9" fill="#98c070"/><circle cx="17.7" cy="18.3" r="0.9" fill="#d8e880"/><circle cx="10.0" cy="22.8" r="0.9" fill="#e8e890"/><circle cx="0.5" cy="0.1" r="0.9" fill="#e8e890"/><circle cx="13.6" cy="10.5" r="0.9" fill="#d8e880"/><circle cx="8.3" cy="9.8" r="0.9" fill="#a8d080"/><circle cx="16.8" cy="0.0" r="0.9" fill="#98c070"/><circle cx="16.8" cy="3.1" r="0.9" fill="#d8e880"/><circle cx="14.3" cy="23.4" r="0.9" fill="#98c070"/><circle cx="5.1" cy="1.7" r="0.9" fill="#e8e890"/><circle cx="20.0" cy="15.3" r="0.9" fill="#98c070"/><circle cx="18.5" cy="19.6" r="0.9" fill="#a8d080"/><circle cx="5.6" cy="1.3" r="0.9" fill="#98c070"/><circle cx="12.7" cy="3.9" r="0.9" fill="#98c070"/><circle cx="8.7" cy="8.2" r="0.9" fill="#98c070"/><circle cx="15.7" cy="11.1" r="0.9" fill="#a8d080"/><circle cx="16.2" cy="16.4" r="0.9" fill="#d8e880"/><circle cx="14.4" cy="1.3" r="0.9" fill="#e8e890"/><circle cx="9.0" cy="19.6" r="0.9" fill="#98c070"/><circle cx="9.7" cy="23.7" r="0.9" fill="#d8e880"/></g><rect x="238" y="262.5" width="90" height="2" fill="#d8e4c8"/><rect x="57.60" y="141.60" width="37.40" height="123.40" rx="5" ry="5" fill="#f19c99" stroke="#5a2a2a" stroke-width="1.35" /><text transform="translate(72.30,242.20) scale(1.1,1) rotate(-90)" x="0" y="0" font-family="Liberation Serif" font-size="14.0" fill="#3a1212" textLength="80.60" lengthAdjust="spacingAndGlyphs" stroke="#3a1212" stroke-width="0.38">Supply spatial</text><text transform="translate(91.00,224.40) scale(1.1,1) rotate(-90)" x="0" y="0" font-family="Liberation Serif" font-size="14.0" fill="#3a1212" textLength="44.20" lengthAdjust="spacingAndGlyphs" stroke="#3a1212" stroke-width="0.38">patterns</text><rect x="355.40" y="141.40" width="37.80" height="123.60" rx="5" ry="5" fill="#f19c99" stroke="#5a2a2a" stroke-width="1.35" /><text transform="translate(375.60,162.70) scale(1.1,1) rotate(90)" x="0" y="0" font-family="Liberation Serif" font-size="14.0" fill="#3a1212" textLength="79.70" lengthAdjust="spacingAndGlyphs" stroke="#3a1212" stroke-width="0.38">Grain demand</text><text transform="translate(358.60,143.50) scale(1.1,1) rotate(90)" x="0" y="0" font-family="Liberation Serif" font-size="14.0" fill="#3a1212" textLength="119.20" lengthAdjust="spacingAndGlyphs" stroke="#3a1212" stroke-width="0.38">structure Calculation</text><rect x="58.10" y="277.40" width="37.60" height="122.60" rx="5" ry="5" fill="#f19c99" stroke="#5a2a2a" stroke-width="1.35" /><text transform="translate(73.00,385.80) scale(1.1,1) rotate(-90)" x="0" y="0" font-family="Liberation Serif" font-size="14.0" fill="#3a1212" textLength="93.50" lengthAdjust="spacingAndGlyphs" stroke="#3a1212" stroke-width="0.38">Supply-Demand</text><text transform="translate(91.90,374.40) scale(1.1,1) rotate(-90)" x="0" y="0" font-family="Liberation Serif" font-size="14.0" fill="#3a1212" textLength="71.80" lengthAdjust="spacingAndGlyphs" stroke="#3a1212" stroke-width="0.38">Relationship</text><rect x="356.00" y="276.40" width="37.60" height="123.80" rx="5" ry="5" fill="#f19c99" stroke="#5a2a2a" stroke-width="1.35" /><text transform="translate(377.70,293.40) scale(1.1,1) rotate(90)" x="0" y="0" font-family="Liberation Serif" font-size="14.0" fill="#3a1212" textLength="89.40" lengthAdjust="spacingAndGlyphs" stroke="#3a1212" stroke-width="0.38">Demand spatial</text><text transform="translate(360.00,315.70) scale(1.1,1) rotate(90)" x="0" y="0" font-family="Liberation Serif" font-size="14.0" fill="#3a1212" textLength="44.70" lengthAdjust="spacingAndGlyphs" stroke="#3a1212" stroke-width="0.38">patterns</text><polygon points="57.6,203.6 51.1,200.7 52.6,203.6 51.1,206.5" fill="#111"/><polygon points="58.1,338.4 51.6,335.5 53.1,338.4 51.6,341.29999999999995" fill="#111"/><path d="M406.4,203.4 H396" fill="none" stroke="#2f352f" stroke-width="1.0" /><polygon points="394.0,203.4 400.5,200.5 399.0,203.4 400.5,206.3" fill="#111"/><path d="M406.4,338.4 H396" fill="none" stroke="#2f352f" stroke-width="1.0" /><polygon points="393.6,338.4 400.1,335.5 398.6,338.4 400.1,341.29999999999995" fill="#111"/><text transform="translate(427.80,166.40) scale(1.1,1) rotate(90)" x="0" y="0" font-family="Liberation Serif" font-size="12.6" fill="#3a1212" textLength="147.40" lengthAdjust="spacingAndGlyphs" stroke="#3a1212" stroke-width="0.2">Demand calculation by grain</text><text transform="translate(411.20,177.80) scale(1.1,1) rotate(90)" x="0" y="0" font-family="Liberation Serif" font-size="12.6" fill="#3a1212" textLength="124.00" lengthAdjust="spacingAndGlyphs" stroke="#3a1212" stroke-width="0.2">consumption coefficient</text><text transform="translate(465.90,147.00) scale(1.1,1) rotate(-90)" x="0" y="0" font-family="Liberation Serif" font-size="12.6" fill="#161c2c" textLength="45.60" lengthAdjust="spacingAndGlyphs" stroke="#161c2c" stroke-width="0.25">E2SFCA</text><rect x="478.50" y="104.60" width="150.50" height="30.60" rx="4" ry="4" fill="#7ea6e0" stroke="#2a3a55" stroke-width="1.2" /><text x="503.00" y="117.00" font-family="Liberation Serif" font-size="15.0" fill="#161c2c" textLength="100.70" lengthAdjust="spacingAndGlyphs" stroke="#161c2c" stroke-width="0.3" >Grain provision</text><text x="480.00" y="133.70" font-family="Liberation Serif" font-size="15.0" fill="#161c2c" textLength="146.90" lengthAdjust="spacingAndGlyphs" stroke="#161c2c" stroke-width="0.3" >ecosystem service flow</text><path d="M477.6,268.20000000000005 V140.8 H646.6 V268.20000000000005 H477.6" fill="none" stroke="#2a2a2a" stroke-width="1.1" /><rect x="515.60" y="153.60" width="112.60" height="50.20" fill="#ffffff" /><g transform="translate(517.10,157.10) scale(1.650,1.758)"><circle cx="11.5" cy="2.1" r="0.35" fill="#c8c8d8"/><circle cx="17.6" cy="5.1" r="0.35" fill="#c8c8d8"/><circle cx="10.1" cy="6.6" r="0.35" fill="#b8d8e0"/><circle cx="9.7" cy="8.6" r="0.35" fill="#b8d8e0"/><circle cx="18.5" cy="0.8" r="0.35" fill="#9fd0e0"/><circle cx="3.9" cy="4.9" r="0.35" fill="#c8c8d8"/><circle cx="7.6" cy="5.2" r="0.35" fill="#b8d8e0"/><circle cx="5.3" cy="8.7" r="0.35" fill="#b8d8e0"/><circle cx="4.7" cy="4.7" r="0.35" fill="#b8d8e0"/><circle cx="4.8" cy="7.2" r="0.35" fill="#c8c8d8"/><circle cx="13.2" cy="7.3" r="0.35" fill="#b8d8e0"/><circle cx="8.1" cy="4.2" r="0.35" fill="#b8d8e0"/><circle cx="2.4" cy="8.2" r="0.35" fill="#b8d8e0"/><circle cx="1.1" cy="5.1" r="0.35" fill="#c8c8d8"/><circle cx="2.7" cy="8.8" r="0.35" fill="#b8d8e0"/><circle cx="13.7" cy="0.1" r="0.35" fill="#c8c8d8"/><circle cx="15.7" cy="10.8" r="0.35" fill="#b8d8e0"/><circle cx="4.3" cy="0.7" r="0.35" fill="#9fd0e0"/><circle cx="8.3" cy="10.9" r="0.35" fill="#b8d8e0"/><circle cx="17.1" cy="6.3" r="0.35" fill="#9fd0e0"/><circle cx="10.0" cy="9.6" r="0.35" fill="#b8d8e0"/><circle cx="16.6" cy="2.0" r="0.35" fill="#c8c8d8"/><g clip-path="url(#hb)"><path d="M-1,14 L5,12 L9,9.5 L14,7.5 L21,6 V27 H-1 Z" fill="#48b8d4" opacity="0.35"/><path d="M11.6,8.1 l-2.5,-2.8" stroke="#2a8aa8" stroke-width="0.5" opacity="0.8"/><path d="M9.1,20.6 l-0.3,1.9" stroke="#6cc8dc" stroke-width="0.5" opacity="0.8"/><path d="M12.0,21.9 l1.9,1.8" stroke="#3a98c4" stroke-width="0.5" opacity="0.8"/><path d="M11.7,24.6 l-1.8,2.6" stroke="#6cc8dc" stroke-width="0.5" opacity="0.8"/><path d="M7.6,24.0 l-2.2,2.7" stroke="#2a8aa8" stroke-width="0.5" opacity="0.8"/><path d="M5.7,9.2 l0.3,1.1" stroke="#2a8aa8" stroke-width="0.5" opacity="0.8"/><path d="M7.9,11.5 l1.1,-1.0" stroke="#2a8aa8" stroke-width="0.5" opacity="0.8"/><path d="M15.9,12.5 l-1.8,-2.3" stroke="#2a8aa8" stroke-width="0.5" opacity="0.8"/><path d="M4.2,13.1 l2.9,-1.9" stroke="#3a98c4" stroke-width="0.5" opacity="0.8"/><path d="M10.8,23.4 l-0.2,0.4" stroke="#2a8aa8" stroke-width="0.5" opacity="0.8"/><path d="M4.1,12.9 l1.0,0.3" stroke="#6cc8dc" stroke-width="0.5" opacity="0.8"/><path d="M5.4,8.3 l-2.2,-0.9" stroke="#2a8aa8" stroke-width="0.5" opacity="0.8"/><path d="M15.2,15.2 l-2.7,-1.7" stroke="#3a98c4" stroke-width="0.5" opacity="0.8"/><path d="M3.7,20.0 l-2.1,-2.3" stroke="#3a98c4" stroke-width="0.5" opacity="0.8"/><path d="M7.6,20.0 l1.1,1.1" stroke="#2a8aa8" stroke-width="0.5" opacity="0.8"/><path d="M8.7,19.3 l-1.7,-0.2" stroke="#6cc8dc" stroke-width="0.5" opacity="0.8"/><path d="M5.4,20.2 l1.4,-1.6" stroke="#2a8aa8" stroke-width="0.5" opacity="0.8"/><path d="M3.5,25.5 l1.5,-1.5" stroke="#6cc8dc" stroke-width="0.5" opacity="0.8"/><path d="M16.9,21.3 l-0.4,1.0" stroke="#2a8aa8" stroke-width="0.5" opacity="0.8"/><path d="M9.4,11.7 l-2.8,2.4" stroke="#6cc8dc" stroke-width="0.5" opacity="0.8"/><path d="M15.7,9.0 l-0.5,-0.3" stroke="#2a8aa8" stroke-width="0.5" opacity="0.8"/><path d="M13.1,25.2 l-0.1,1.8" stroke="#6cc8dc" stroke-width="0.5" opacity="0.8"/><path d="M1.0,20.5 l-1.4,0.8" stroke="#6cc8dc" stroke-width="0.5" opacity="0.8"/><path d="M1.5,19.2 l-0.3,0.1" stroke="#3a98c4" stroke-width="0.5" opacity="0.8"/><path d="M2.5,20.8 l-0.5,-1.4" stroke="#3a98c4" stroke-width="0.5" opacity="0.8"/><path d="M6.1,19.6 l0.2,2.9" stroke="#6cc8dc" stroke-width="0.5" opacity="0.8"/><path d="M3.3,10.8 l1.4,0.5" stroke="#6cc8dc" stroke-width="0.5" opacity="0.8"/><path d="M12.6,11.5 l-2.2,2.9" stroke="#6cc8dc" stroke-width="0.5" opacity="0.8"/><path d="M16.0,22.3 l1.1,2.3" stroke="#3a98c4" stroke-width="0.5" opacity="0.8"/><path d="M10.1,24.8 l-1.0,2.6" stroke="#3a98c4" stroke-width="0.5" opacity="0.8"/><path d="M9.8,16.7 l-2.2,-2.3" stroke="#3a98c4" stroke-width="0.5" opacity="0.8"/><path d="M7.6,18.3 l2.2,0.7" stroke="#3a98c4" stroke-width="0.5" opacity="0.8"/><path d="M16.9,15.3 l-2.2,-2.6" stroke="#2a8aa8" stroke-width="0.5" opacity="0.8"/><path d="M11.6,9.1 l-2.4,-1.3" stroke="#3a98c4" stroke-width="0.5" opacity="0.8"/><path d="M12.3,15.0 l0.4,-2.1" stroke="#6cc8dc" stroke-width="0.5" opacity="0.8"/><path d="M12.8,24.8 l-1.0,-2.8" stroke="#2a8aa8" stroke-width="0.5" opacity="0.8"/><path d="M6.6,12.3 l-1.5,-0.6" stroke="#6cc8dc" stroke-width="0.5" opacity="0.8"/><path d="M2.8,15.9 l2.6,2.3" stroke="#3a98c4" stroke-width="0.5" opacity="0.8"/><path d="M12.9,11.4 l1.7,-1.7" stroke="#6cc8dc" stroke-width="0.5" opacity="0.8"/><path d="M4.5,21.6 l-0.7,-1.5" stroke="#6cc8dc" stroke-width="0.5" opacity="0.8"/><path d="M12.3,25.1 l0.7,1.6" stroke="#2a8aa8" stroke-width="0.5" opacity="0.8"/><path d="M10.5,25.6 l2.1,-2.7" stroke="#6cc8dc" stroke-width="0.5" opacity="0.8"/><path d="M5.1,11.2 l-2.9,-0.1" stroke="#3a98c4" stroke-width="0.5" opacity="0.8"/><path d="M14.5,14.9 l-0.9,-1.6" stroke="#2a8aa8" stroke-width="0.5" opacity="0.8"/><path d="M2.1,25.8 l2.0,2.5" stroke="#3a98c4" stroke-width="0.5" opacity="0.8"/><circle cx="7.2" cy="19.9" r="0.5" fill="#2a7aa0"/><circle cx="12.4" cy="12.9" r="0.5" fill="#2a7aa0"/><circle cx="3.6" cy="18.7" r="0.5" fill="#e8f6f8"/><circle cx="2.3" cy="11.0" r="0.5" fill="#2a7aa0"/><circle cx="8.3" cy="24.6" r="0.5" fill="#e8f6f8"/><circle cx="14.9" cy="17.5" r="0.5" fill="#ffffff"/><circle cx="9.0" cy="20.8" r="0.5" fill="#ffffff"/><circle cx="12.8" cy="16.8" r="0.5" fill="#e8f6f8"/><circle cx="10.6" cy="19.2" r="0.5" fill="#ffffff"/><circle cx="6.2" cy="16.6" r="0.5" fill="#ffffff"/><circle cx="13.1" cy="21.4" r="0.5" fill="#e8f6f8"/><circle cx="1.7" cy="21.7" r="0.5" fill="#ffffff"/><circle cx="17.0" cy="9.1" r="0.5" fill="#2a7aa0"/><circle cx="7.7" cy="22.7" r="0.5" fill="#e8f6f8"/><circle cx="2.8" cy="9.4" r="0.5" fill="#ffffff"/><circle cx="14.7" cy="23.4" r="0.5" fill="#2a7aa0"/><circle cx="9.2" cy="21.8" r="0.5" fill="#e8f6f8"/><circle cx="12.6" cy="21.7" r="0.5" fill="#2a7aa0"/><circle cx="0.9" cy="21.3" r="0.5" fill="#2a7aa0"/><circle cx="1.8" cy="11.1" r="0.5" fill="#2a7aa0"/><circle cx="2.7" cy="10.3" r="0.5" fill="#2a7aa0"/><circle cx="4.9" cy="18.2" r="0.5" fill="#2a7aa0"/><circle cx="16.7" cy="17.9" r="0.5" fill="#2a7aa0"/><circle cx="11.7" cy="11.5" r="0.5" fill="#ffffff"/><circle cx="9.5" cy="22.9" r="0.5" fill="#ffffff"/></g></g><rect x="518.6" y="155.6" width="7" height="1" fill="#b0b0b0"/><g transform="translate(554.63,157.10) scale(1.650,1.758)"><circle cx="11.9" cy="5.3" r="0.35" fill="#b8d8e0"/><circle cx="4.3" cy="2.0" r="0.35" fill="#b8d8e0"/><circle cx="8.6" cy="8.7" r="0.35" fill="#9fd0e0"/><circle cx="7.5" cy="9.8" r="0.35" fill="#c8c8d8"/><circle cx="5.5" cy="7.4" r="0.35" fill="#9fd0e0"/><circle cx="18.7" cy="0.4" r="0.35" fill="#b8d8e0"/><circle cx="5.1" cy="9.8" r="0.35" fill="#9fd0e0"/><circle cx="18.9" cy="9.5" r="0.35" fill="#b8d8e0"/><circle cx="5.4" cy="9.5" r="0.35" fill="#b8d8e0"/><circle cx="3.6" cy="10.2" r="0.35" fill="#b8d8e0"/><circle cx="7.3" cy="9.7" r="0.35" fill="#c8c8d8"/><circle cx="7.9" cy="2.5" r="0.35" fill="#b8d8e0"/><circle cx="6.3" cy="3.1" r="0.35" fill="#b8d8e0"/><circle cx="18.6" cy="1.7" r="0.35" fill="#9fd0e0"/><circle cx="13.8" cy="0.1" r="0.35" fill="#9fd0e0"/><circle cx="10.5" cy="9.1" r="0.35" fill="#9fd0e0"/><circle cx="5.5" cy="4.9" r="0.35" fill="#c8c8d8"/><circle cx="4.8" cy="1.2" r="0.35" fill="#b8d8e0"/><circle cx="17.2" cy="8.8" r="0.35" fill="#b8d8e0"/><circle cx="16.8" cy="0.1" r="0.35" fill="#9fd0e0"/><circle cx="12.1" cy="5.5" r="0.35" fill="#c8c8d8"/><circle cx="8.3" cy="10.1" r="0.35" fill="#c8c8d8"/><g clip-path="url(#hb)"><path d="M-1,14 L5,12 L9,9.5 L14,7.5 L21,6 V27 H-1 Z" fill="#48b8d4" opacity="0.5"/><path d="M6.0,9.5 l-1.9,1.7" stroke="#6cc8dc" stroke-width="0.5" opacity="0.8"/><path d="M14.6,22.8 l1.7,-2.0" stroke="#3a98c4" stroke-width="0.5" opacity="0.8"/><path d="M6.6,26.0 l0.0,1.8" stroke="#6cc8dc" stroke-width="0.5" opacity="0.8"/><path d="M14.6,20.5 l-0.1,-2.1" stroke="#2a8aa8" stroke-width="0.5" opacity="0.8"/><path d="M2.9,16.9 l1.6,0.8" stroke="#3a98c4" stroke-width="0.5" opacity="0.8"/><path d="M5.3,15.9 l-2.6,1.0" stroke="#2a8aa8" stroke-width="0.5" opacity="0.8"/><path d="M11.9,8.7 l0.8,-0.1" stroke="#3a98c4" stroke-width="0.5" opacity="0.8"/><path d="M6.2,18.3 l2.8,-2.7" stroke="#2a8aa8" stroke-width="0.5" opacity="0.8"/><path d="M6.4,12.0 l1.8,-2.0" stroke="#6cc8dc" stroke-width="0.5" opacity="0.8"/><path d="M3.4,25.3 l0.1,-1.3" stroke="#6cc8dc" stroke-width="0.5" opacity="0.8"/><path d="M1.7,20.8 l-0.9,0.7" stroke="#3a98c4" stroke-width="0.5" opacity="0.8"/><path d="M10.4,20.1 l0.6,-0.8" stroke="#2a8aa8" stroke-width="0.5" opacity="0.8"/><path d="M12.7,15.5 l0.1,1.7" stroke="#3a98c4" stroke-width="0.5" opacity="0.8"/><path d="M7.4,9.1 l-1.1,3.0" stroke="#3a98c4" stroke-width="0.5" opacity="0.8"/><path d="M4.0,14.0 l-2.0,2.8" stroke="#2a8aa8" stroke-width="0.5" opacity="0.8"/><path d="M1.4,17.7 l-2.1,-2.9" stroke="#3a98c4" stroke-width="0.5" opacity="0.8"/><path d="M4.1,8.6 l-3.0,0.8" stroke="#2a8aa8" stroke-width="0.5" opacity="0.8"/><path d="M1.4,14.2 l-2.4,1.9" stroke="#2a8aa8" stroke-width="0.5" opacity="0.8"/><path d="M6.6,25.1 l1.4,-2.6" stroke="#3a98c4" stroke-width="0.5" opacity="0.8"/><path d="M4.4,17.8 l1.6,-2.6" stroke="#3a98c4" stroke-width="0.5" opacity="0.8"/><path d="M2.6,12.1 l-2.0,-2.5" stroke="#3a98c4" stroke-width="0.5" opacity="0.8"/><path d="M15.5,18.7 l-1.9,-0.7" stroke="#2a8aa8" stroke-width="0.5" opacity="0.8"/><path d="M1.3,10.9 l-1.3,2.2" stroke="#6cc8dc" stroke-width="0.5" opacity="0.8"/><path d="M16.3,10.8 l1.5,1.1" stroke="#6cc8dc" stroke-width="0.5" opacity="0.8"/><path d="M12.6,23.4 l-2.8,2.6" stroke="#6cc8dc" stroke-width="0.5" opacity="0.8"/><path d="M3.1,25.4 l1.4,-2.7" stroke="#3a98c4" stroke-width="0.5" opacity="0.8"/><path d="M11.4,15.6 l0.2,2.0" stroke="#3a98c4" stroke-width="0.5" opacity="0.8"/><path d="M15.0,11.7 l-1.8,-2.5" stroke="#2a8aa8" stroke-width="0.5" opacity="0.8"/><path d="M2.6,11.2 l2.1,0.2" stroke="#2a8aa8" stroke-width="0.5" opacity="0.8"/><path d="M13.7,23.5 l1.6,0.1" stroke="#2a8aa8" stroke-width="0.5" opacity="0.8"/><path d="M2.5,19.7 l1.0,1.0" stroke="#3a98c4" stroke-width="0.5" opacity="0.8"/><path d="M11.5,12.6 l0.4,-0.3" stroke="#3a98c4" stroke-width="0.5" opacity="0.8"/><path d="M3.1,20.1 l-1.9,-1.8" stroke="#3a98c4" stroke-width="0.5" opacity="0.8"/><path d="M0.9,24.5 l1.3,0.6" stroke="#3a98c4" stroke-width="0.5" opacity="0.8"/><path d="M2.2,11.7 l-1.6,-2.5" stroke="#3a98c4" stroke-width="0.5" opacity="0.8"/><path d="M10.7,19.0 l0.8,-0.0" stroke="#6cc8dc" stroke-width="0.5" opacity="0.8"/><path d="M7.6,25.0 l3.0,1.2" stroke="#2a8aa8" stroke-width="0.5" opacity="0.8"/><path d="M13.0,12.4 l-1.2,-2.7" stroke="#2a8aa8" stroke-width="0.5" opacity="0.8"/><path d="M14.6,24.9 l0.6,1.8" stroke="#3a98c4" stroke-width="0.5" opacity="0.8"/><path d="M2.1,9.2 l2.3,2.8" stroke="#6cc8dc" stroke-width="0.5" opacity="0.8"/><path d="M12.0,22.2 l2.5,2.0" stroke="#6cc8dc" stroke-width="0.5" opacity="0.8"/><path d="M0.9,22.5 l-2.6,1.3" stroke="#6cc8dc" stroke-width="0.5" opacity="0.8"/><path d="M9.5,16.9 l0.9,1.6" stroke="#3a98c4" stroke-width="0.5" opacity="0.8"/><path d="M13.2,13.9 l-2.1,-0.9" stroke="#2a8aa8" stroke-width="0.5" opacity="0.8"/><path d="M9.8,21.0 l-1.6,0.4" stroke="#3a98c4" stroke-width="0.5" opacity="0.8"/><circle cx="10.6" cy="15.7" r="0.5" fill="#2a7aa0"/><circle cx="4.3" cy="8.7" r="0.5" fill="#2a7aa0"/><circle cx="13.9" cy="11.5" r="0.5" fill="#ffffff"/><circle cx="3.1" cy="16.6" r="0.5" fill="#2a7aa0"/><circle cx="15.1" cy="13.2" r="0.5" fill="#e8f6f8"/><circle cx="16.5" cy="14.4" r="0.5" fill="#e8f6f8"/><circle cx="7.2" cy="15.4" r="0.5" fill="#ffffff"/><circle cx="10.1" cy="14.1" r="0.5" fill="#ffffff"/><circle cx="16.1" cy="11.2" r="0.5" fill="#ffffff"/><circle cx="1.8" cy="21.6" r="0.5" fill="#2a7aa0"/><circle cx="11.8" cy="18.6" r="0.5" fill="#e8f6f8"/><circle cx="3.0" cy="19.7" r="0.5" fill="#e8f6f8"/><circle cx="4.3" cy="21.8" r="0.5" fill="#ffffff"/><circle cx="0.3" cy="23.1" r="0.5" fill="#e8f6f8"/><circle cx="15.7" cy="15.6" r="0.5" fill="#2a7aa0"/><circle cx="1.8" cy="25.6" r="0.5" fill="#ffffff"/><circle cx="7.9" cy="21.2" r="0.5" fill="#ffffff"/><circle cx="11.3" cy="17.7" r="0.5" fill="#2a7aa0"/><circle cx="11.6" cy="22.0" r="0.5" fill="#2a7aa0"/><circle cx="1.1" cy="9.9" r="0.5" fill="#e8f6f8"/><circle cx="12.2" cy="18.3" r="0.5" fill="#2a7aa0"/><circle cx="0.1" cy="23.9" r="0.5" fill="#ffffff"/><circle cx="4.2" cy="8.3" r="0.5" fill="#e8f6f8"/><circle cx="13.1" cy="22.2" r="0.5" fill="#e8f6f8"/><circle cx="1.1" cy="16.8" r="0.5" fill="#e8f6f8"/></g></g><rect x="556.1" y="155.6" width="7" height="1" fill="#b0b0b0"/><g transform="translate(592.17,157.10) scale(1.650,1.758)"><circle cx="17.8" cy="4.5" r="0.35" fill="#d87878"/><circle cx="4.5" cy="9.8" r="0.35" fill="#d87878"/><circle cx="10.8" cy="10.8" r="0.35" fill="#d87878"/><circle cx="12.5" cy="7.0" r="0.35" fill="#d87878"/><circle cx="13.5" cy="7.0" r="0.35" fill="#d87878"/><circle cx="13.4" cy="10.8" r="0.35" fill="#d87878"/><circle cx="8.4" cy="5.4" r="0.35" fill="#d87878"/><circle cx="3.0" cy="9.7" r="0.35" fill="#d87878"/><circle cx="7.6" cy="4.2" r="0.35" fill="#d87878"/><circle cx="9.4" cy="9.5" r="0.35" fill="#d87878"/><circle cx="1.5" cy="4.8" r="0.35" fill="#d87878"/><circle cx="6.7" cy="9.6" r="0.35" fill="#d87878"/><circle cx="13.6" cy="6.7" r="0.35" fill="#d87878"/><circle cx="9.8" cy="2.0" r="0.35" fill="#d87878"/><circle cx="6.8" cy="7.8" r="0.35" fill="#d87878"/><circle cx="13.1" cy="8.4" r="0.35" fill="#d87878"/><circle cx="6.5" cy="6.8" r="0.35" fill="#d87878"/><circle cx="18.1" cy="6.1" r="0.35" fill="#d87878"/><circle cx="12.7" cy="10.9" r="0.35" fill="#d87878"/><circle cx="10.8" cy="8.2" r="0.35" fill="#d87878"/><circle cx="9.6" cy="2.8" r="0.35" fill="#d87878"/><circle cx="16.9" cy="9.3" r="0.35" fill="#d87878"/><g clip-path="url(#hb)"><path d="M-1,14 L5,12 L9,9.5 L14,7.5 L21,6 V27 H-1 Z" fill="#7cc8a0" opacity="0.5"/><path d="M9.2,16.5 l-1.6,-1.1" stroke="#6cc8dc" stroke-width="0.5" opacity="0.8"/><path d="M14.7,21.5 l2.8,-1.5" stroke="#2a8aa8" stroke-width="0.5" opacity="0.8"/><path d="M5.5,14.7 l0.3,3.0" stroke="#2a8aa8" stroke-width="0.5" opacity="0.8"/><path d="M14.0,17.3 l0.2,-0.7" stroke="#3a90c0" stroke-width="0.5" opacity="0.8"/><path d="M7.2,14.6 l0.5,0.9" stroke="#2a8aa8" stroke-width="0.5" opacity="0.8"/><path d="M5.4,17.2 l1.5,0.7" stroke="#6cc8dc" stroke-width="0.5" opacity="0.8"/><path d="M9.0,9.4 l1.2,-3.0" stroke="#3a90c0" stroke-width="0.5" opacity="0.8"/><path d="M3.8,12.0 l1.7,-2.6" stroke="#6cc8dc" stroke-width="0.5" opacity="0.8"/><path d="M13.4,9.0 l0.8,2.8" stroke="#2a8aa8" stroke-width="0.5" opacity="0.8"/><path d="M14.9,12.6 l2.2,-2.6" stroke="#2a8aa8" stroke-width="0.5" opacity="0.8"/><path d="M0.6,18.3 l1.7,-0.0" stroke="#6cc8dc" stroke-width="0.5" opacity="0.8"/><path d="M16.7,23.1 l-0.1,1.1" stroke="#3a90c0" stroke-width="0.5" opacity="0.8"/><path d="M10.6,8.8 l-1.8,0.7" stroke="#3a90c0" stroke-width="0.5" opacity="0.8"/><path d="M11.9,17.7 l-1.2,0.3" stroke="#3a90c0" stroke-width="0.5" opacity="0.8"/><path d="M14.2,22.1 l-0.5,-1.6" stroke="#3a90c0" stroke-width="0.5" opacity="0.8"/><path d="M7.0,19.0 l2.7,0.8" stroke="#2a8aa8" stroke-width="0.5" opacity="0.8"/><path d="M7.8,14.6 l2.3,-1.2" stroke="#3a90c0" stroke-width="0.5" opacity="0.8"/><path d="M11.0,24.8 l-1.3,-1.4" stroke="#2a8aa8" stroke-width="0.5" opacity="0.8"/><path d="M8.8,17.0 l-1.8,1.5" stroke="#2a8aa8" stroke-width="0.5" opacity="0.8"/><path d="M3.3,9.0 l0.8,-0.3" stroke="#3a90c0" stroke-width="0.5" opacity="0.8"/><path d="M15.6,22.8 l1.5,-0.3" stroke="#2a8aa8" stroke-width="0.5" opacity="0.8"/><path d="M16.3,25.7 l-2.8,-1.6" stroke="#6cc8dc" stroke-width="0.5" opacity="0.8"/><path d="M16.8,11.6 l2.8,2.5" stroke="#2a8aa8" stroke-width="0.5" opacity="0.8"/><path d="M10.1,21.3 l2.8,-1.7" stroke="#6cc8dc" stroke-width="0.5" opacity="0.8"/><path d="M13.5,24.2 l0.0,-0.1" stroke="#3a90c0" stroke-width="0.5" opacity="0.8"/><path d="M11.2,10.9 l-2.2,-0.8" stroke="#3a90c0" stroke-width="0.5" opacity="0.8"/><path d="M8.5,13.9 l2.1,-2.4" stroke="#2a8aa8" stroke-width="0.5" opacity="0.8"/><path d="M10.8,24.0 l-1.7,1.3" stroke="#2a8aa8" stroke-width="0.5" opacity="0.8"/><path d="M7.3,20.4 l0.8,2.6" stroke="#3a90c0" stroke-width="0.5" opacity="0.8"/><path d="M14.5,25.3 l1.5,1.8" stroke="#6cc8dc" stroke-width="0.5" opacity="0.8"/><path d="M16.4,19.0 l-0.3,2.0" stroke="#2a8aa8" stroke-width="0.5" opacity="0.8"/><path d="M15.6,24.3 l1.5,-2.4" stroke="#6cc8dc" stroke-width="0.5" opacity="0.8"/><path d="M2.9,20.6 l1.4,-0.8" stroke="#3a90c0" stroke-width="0.5" opacity="0.8"/><path d="M3.2,13.8 l-0.3,-1.3" stroke="#6cc8dc" stroke-width="0.5" opacity="0.8"/><path d="M13.6,22.8 l-2.4,1.4" stroke="#3a90c0" stroke-width="0.5" opacity="0.8"/><path d="M12.3,9.7 l1.3,-2.2" stroke="#2a8aa8" stroke-width="0.5" opacity="0.8"/><path d="M13.9,21.7 l2.6,-2.6" stroke="#3a90c0" stroke-width="0.5" opacity="0.8"/><path d="M16.6,22.9 l-0.9,-1.5" stroke="#6cc8dc" stroke-width="0.5" opacity="0.8"/><path d="M12.8,9.9 l0.3,1.3" stroke="#6cc8dc" stroke-width="0.5" opacity="0.8"/><path d="M7.1,9.4 l1.6,-2.8" stroke="#6cc8dc" stroke-width="0.5" opacity="0.8"/><path d="M12.0,17.2 l-1.9,-0.4" stroke="#3a90c0" stroke-width="0.5" opacity="0.8"/><path d="M16.5,19.4 l1.9,-1.5" stroke="#2a8aa8" stroke-width="0.5" opacity="0.8"/><path d="M6.0,24.4 l1.4,1.7" stroke="#3a90c0" stroke-width="0.5" opacity="0.8"/><path d="M11.7,19.0 l-0.7,-0.9" stroke="#3a90c0" stroke-width="0.5" opacity="0.8"/><path d="M2.4,9.6 l1.5,-2.9" stroke="#2a8aa8" stroke-width="0.5" opacity="0.8"/><circle cx="11.2" cy="10.0" r="0.5" fill="#2a7aa0"/><circle cx="4.4" cy="19.5" r="0.5" fill="#2a7aa0"/><circle cx="16.5" cy="9.6" r="0.5" fill="#e8f6f8"/><circle cx="15.8" cy="16.1" r="0.5" fill="#2a7aa0"/><circle cx="6.8" cy="21.1" r="0.5" fill="#e8f6f8"/><circle cx="5.9" cy="17.2" r="0.5" fill="#e8f6f8"/><circle cx="1.0" cy="21.9" r="0.5" fill="#ffffff"/><circle cx="7.4" cy="23.4" r="0.5" fill="#ffffff"/><circle cx="0.0" cy="13.3" r="0.5" fill="#2a7aa0"/><circle cx="10.3" cy="14.3" r="0.5" fill="#ffffff"/><circle cx="6.5" cy="22.0" r="0.5" fill="#e8f6f8"/><circle cx="5.6" cy="23.5" r="0.5" fill="#ffffff"/><circle cx="6.0" cy="22.1" r="0.5" fill="#2a7aa0"/><circle cx="15.6" cy="15.6" r="0.5" fill="#ffffff"/><circle cx="5.6" cy="8.3" r="0.5" fill="#e8f6f8"/><circle cx="11.8" cy="16.4" r="0.5" fill="#2a7aa0"/><circle cx="16.0" cy="20.8" r="0.5" fill="#ffffff"/><circle cx="5.4" cy="17.8" r="0.5" fill="#e8f6f8"/><circle cx="9.5" cy="13.3" r="0.5" fill="#e8f6f8"/><circle cx="0.1" cy="16.7" r="0.5" fill="#ffffff"/><circle cx="16.1" cy="9.3" r="0.5" fill="#ffffff"/><circle cx="6.2" cy="12.5" r="0.5" fill="#ffffff"/><circle cx="3.1" cy="17.4" r="0.5" fill="#ffffff"/><circle cx="11.5" cy="15.1" r="0.5" fill="#ffffff"/><circle cx="7.5" cy="11.7" r="0.5" fill="#ffffff"/></g><circle cx="16.3" cy="2.3" r="0.45" fill="#d85a5a"/><circle cx="9.6" cy="10.3" r="0.45" fill="#d85a5a"/><circle cx="18.5" cy="9.8" r="0.45" fill="#d85a5a"/><circle cx="10.6" cy="8.3" r="0.45" fill="#d85a5a"/><circle cx="18.2" cy="10.6" r="0.45" fill="#d85a5a"/><circle cx="16.7" cy="-0.1" r="0.45" fill="#d85a5a"/><circle cx="6.8" cy="2.7" r="0.45" fill="#d85a5a"/><circle cx="18.0" cy="3.4" r="0.45" fill="#d85a5a"/><circle cx="6.7" cy="5.1" r="0.45" fill="#d85a5a"/><circle cx="8.4" cy="4.4" r="0.45" fill="#d85a5a"/><circle cx="16.6" cy="5.5" r="0.45" fill="#d85a5a"/><circle cx="14.1" cy="5.7" r="0.45" fill="#d85a5a"/><circle cx="20.4" cy="11.1" r="0.45" fill="#d85a5a"/><circle cx="13.7" cy="0.5" r="0.45" fill="#d85a5a"/><circle cx="16.4" cy="0.9" r="0.45" fill="#d85a5a"/><circle cx="6.1" cy="0.2" r="0.45" fill="#d85a5a"/></g><rect x="593.7" y="155.6" width="7" height="1" fill="#b0b0b0"/><rect x="494.30" y="222.90" width="118.30" height="34.90" fill="#ffffff" /><path d="M518.6,229.4 Q511.4,225.8 506.2,231.4" fill="none" stroke="#7fa9da" stroke-width="0.5"/><path d="M517.9,230.2 Q501.7,239.2 498.9,239.5" fill="none" stroke="#6a9ad4" stroke-width="0.5"/><path d="M498.1,242.0 Q497.8,241.7 507.3,248.7" fill="none" stroke="#5b8fcf" stroke-width="0.5"/><path d="M498.7,240.3 Q502.8,246.9 507.1,245.9" fill="none" stroke="#7fa9da" stroke-width="0.9"/><path d="M498.5,246.8 Q507.8,238.4 518.6,229.4" fill="none" stroke="#9dbfe6" stroke-width="0.5"/><path d="M517.9,230.2 Q506.0,228.2 506.2,231.4" fill="none" stroke="#9dbfe6" stroke-width="0.7"/><path d="M498.9,239.5 Q497.1,235.3 498.1,242.0" fill="none" stroke="#6a9ad4" stroke-width="0.7"/><path d="M498.7,240.3 Q503.9,232.4 506.2,231.4" fill="none" stroke="#6a9ad4" stroke-width="0.9"/><path d="M525.5,231.7 Q516.6,244.3 498.5,246.8" fill="none" stroke="#6a9ad4" stroke-width="0.9"/><path d="M498.5,246.8 Q511.8,242.1 517.8,231.0" fill="none" stroke="#7fa9da" stroke-width="0.9"/><rect x="495.5" y="247.6" width="6" height="0.9" fill="#b8b8b8"/><rect x="495.1" y="242.8" width="6" height="0.9" fill="#b8b8b8"/><rect x="495.9" y="240.3" width="6" height="0.9" fill="#b8b8b8"/><rect x="495.7" y="241.1" width="6" height="0.9" fill="#b8b8b8"/><rect x="504.3" y="249.5" width="6" height="0.9" fill="#b8b8b8"/><rect x="515.6" y="230.2" width="6" height="0.9" fill="#b8b8b8"/><rect x="514.9" y="231.0" width="6" height="0.9" fill="#b8b8b8"/><rect x="514.8" y="231.8" width="6" height="0.9" fill="#b8b8b8"/><rect x="503.2" y="232.2" width="6" height="0.9" fill="#b8b8b8"/><rect x="504.1" y="246.7" width="6" height="0.9" fill="#b8b8b8"/><rect x="522.5" y="232.5" width="6" height="0.9" fill="#b8b8b8"/><circle cx="498.5" cy="246.8" r="0.9" fill="#d06878"/><circle cx="498.1" cy="242.0" r="0.9" fill="#d06878"/><circle cx="498.9" cy="239.5" r="0.9" fill="#d06878"/><circle cx="498.7" cy="240.3" r="0.9" fill="#d06878"/><rect x="496.3" y="224.9" width="8" height="1" fill="#a8a8a8"/><path d="M562.0,248.2 Q545.7,234.6 540.5,232.2" fill="none" stroke="#6a9ad4" stroke-width="1.2"/><path d="M549.5,249.6 Q561.1,253.9 562.0,248.2" fill="none" stroke="#7fa9da" stroke-width="0.5"/><path d="M537.2,238.3 Q548.9,245.2 564.2,245.8" fill="none" stroke="#5b8fcf" stroke-width="1.2"/><path d="M562.8,239.9 Q543.4,241.0 537.2,238.3" fill="none" stroke="#6a9ad4" stroke-width="0.7"/><path d="M551.5,232.2 Q547.7,239.8 544.3,236.9" fill="none" stroke="#6a9ad4" stroke-width="0.9"/><path d="M540.5,232.2 Q558.8,239.9 564.2,245.8" fill="none" stroke="#5b8fcf" stroke-width="0.7"/><path d="M537.2,238.3 Q550.7,239.5 562.8,239.9" fill="none" stroke="#7fa9da" stroke-width="0.9"/><path d="M551.5,232.2 Q542.2,237.5 544.3,236.9" fill="none" stroke="#9dbfe6" stroke-width="0.9"/><path d="M540.5,232.2 Q546.9,239.9 565.8,240.4" fill="none" stroke="#5b8fcf" stroke-width="0.5"/><path d="M537.2,238.3 Q538.4,239.7 540.5,232.2" fill="none" stroke="#9dbfe6" stroke-width="0.5"/><path d="M537.2,238.3 Q551.1,239.5 551.5,232.2" fill="none" stroke="#5b8fcf" stroke-width="0.5"/><path d="M544.3,236.9 Q550.8,239.9 562.0,248.2" fill="none" stroke="#9dbfe6" stroke-width="1.2"/><path d="M537.2,238.3 Q548.1,246.2 562.0,248.2" fill="none" stroke="#7fa9da" stroke-width="1.2"/><path d="M565.8,240.4 Q569.5,239.9 562.7,229.5" fill="none" stroke="#6a9ad4" stroke-width="0.5"/><rect x="561.2" y="246.6" width="6" height="0.9" fill="#b8b8b8"/><rect x="559.8" y="240.7" width="6" height="0.9" fill="#b8b8b8"/><rect x="559.7" y="230.3" width="6" height="0.9" fill="#b8b8b8"/><rect x="548.5" y="233.0" width="6" height="0.9" fill="#b8b8b8"/><rect x="541.3" y="237.7" width="6" height="0.9" fill="#b8b8b8"/><rect x="564.1" y="238.0" width="6" height="0.9" fill="#b8b8b8"/><rect x="534.2" y="239.1" width="6" height="0.9" fill="#b8b8b8"/><rect x="559.0" y="249.0" width="6" height="0.9" fill="#b8b8b8"/><rect x="562.8" y="241.2" width="6" height="0.9" fill="#b8b8b8"/><rect x="537.5" y="233.0" width="6" height="0.9" fill="#b8b8b8"/><rect x="546.5" y="250.4" width="6" height="0.9" fill="#b8b8b8"/><circle cx="564.2" cy="245.8" r="0.9" fill="#d06878"/><circle cx="562.8" cy="239.9" r="0.9" fill="#d06878"/><circle cx="562.7" cy="229.5" r="0.9" fill="#d06878"/><circle cx="551.5" cy="232.2" r="0.9" fill="#d06878"/><rect x="535.7" y="224.9" width="8" height="1" fill="#a8a8a8"/><path d="M588.1,249.4 Q591.0,238.2 593.1,232.0" fill="none" stroke="#9dbfe6" stroke-width="0.5"/><path d="M597.2,247.5 Q595.1,247.4 592.5,250.7" fill="none" stroke="#5b8fcf" stroke-width="0.9"/><path d="M578.4,233.4 Q584.5,241.7 597.2,247.5" fill="none" stroke="#9dbfe6" stroke-width="0.5"/><path d="M593.1,232.0 Q602.7,238.8 602.7,235.3" fill="none" stroke="#5b8fcf" stroke-width="0.7"/><path d="M578.4,233.4 Q599.7,237.6 610.7,241.4" fill="none" stroke="#9dbfe6" stroke-width="0.7"/><path d="M602.7,235.3 Q595.4,230.5 590.3,233.3" fill="none" stroke="#7fa9da" stroke-width="0.7"/><path d="M578.4,233.4 Q581.4,234.9 593.1,232.0" fill="none" stroke="#9dbfe6" stroke-width="0.5"/><path d="M593.3,254.0 Q592.1,245.4 578.4,233.4" fill="none" stroke="#7fa9da" stroke-width="0.9"/><path d="M578.4,233.4 Q589.4,242.9 593.3,254.0" fill="none" stroke="#7fa9da" stroke-width="1.2"/><path d="M592.5,250.7 Q599.7,245.7 607.8,240.6" fill="none" stroke="#9dbfe6" stroke-width="1.2"/><path d="M590.3,233.3 Q586.8,239.6 589.1,248.7" fill="none" stroke="#5b8fcf" stroke-width="1.2"/><path d="M607.8,240.6 Q598.8,240.2 588.1,249.4" fill="none" stroke="#5b8fcf" stroke-width="0.9"/><rect x="607.7" y="242.2" width="6" height="0.9" fill="#b8b8b8"/><rect x="599.7" y="236.1" width="6" height="0.9" fill="#b8b8b8"/><rect x="585.1" y="250.2" width="6" height="0.9" fill="#b8b8b8"/><rect x="589.5" y="251.5" width="6" height="0.9" fill="#b8b8b8"/><rect x="594.2" y="248.3" width="6" height="0.9" fill="#b8b8b8"/><rect x="586.1" y="249.5" width="6" height="0.9" fill="#b8b8b8"/><rect x="590.1" y="232.8" width="6" height="0.9" fill="#b8b8b8"/><rect x="604.8" y="241.4" width="6" height="0.9" fill="#b8b8b8"/><rect x="590.3" y="254.8" width="6" height="0.9" fill="#b8b8b8"/><rect x="575.4" y="234.2" width="6" height="0.9" fill="#b8b8b8"/><rect x="587.3" y="234.1" width="6" height="0.9" fill="#b8b8b8"/><circle cx="610.7" cy="241.4" r="0.9" fill="#d06878"/><circle cx="602.7" cy="235.3" r="0.9" fill="#d06878"/><circle cx="588.1" cy="249.4" r="0.9" fill="#d06878"/><circle cx="592.5" cy="250.7" r="0.9" fill="#d06878"/><rect x="575.2" y="224.9" width="8" height="1" fill="#a8a8a8"/><rect x="467.30" y="147.20" width="21.50" height="113.80" rx="3.5" ry="3.5" fill="#afc8ec" stroke="#2a3a55" stroke-width="1.1" /><text transform="translate(484.20,258.50) scale(1.1,1) rotate(-90)" x="0" y="0" font-family="Liberation Serif" font-size="13.0" fill="#161c2c" textLength="109.10" lengthAdjust="spacingAndGlyphs" stroke="#161c2c" stroke-width="0.38">Scenario1 (100km)</text><rect x="493.60" y="142.50" width="18.80" height="75.40" rx="3.5" ry="3.5" fill="#afc8ec" stroke="#2a3a55" stroke-width="1.1" /><text transform="translate(506.80,213.80) scale(1.1,1) rotate(-90)" x="0" y="0" font-family="Liberation Sans" font-size="11.2" fill="#161c2c" textLength="68.10" lengthAdjust="spacingAndGlyphs" stroke="#161c2c" stroke-width="0.38">County scale</text><rect x="625.00" y="210.10" width="18.50" height="56.10" rx="3.5" ry="3.5" fill="#afc8ec" stroke="#2a3a55" stroke-width="1.1" /><text transform="translate(630.00,212.00) scale(1.1,1) rotate(90)" x="0" y="0" font-family="Liberation Sans" font-size="11.2" fill="#161c2c" textLength="51.70" lengthAdjust="spacingAndGlyphs" stroke="#161c2c" stroke-width="0.38">City scale</text><rect x="629.4" y="203.9" width="1.8" height="1.8" fill="#111"/><rect x="633.0" y="203.9" width="1.8" height="1.8" fill="#111"/><rect x="636.6" y="203.9" width="1.8" height="1.8" fill="#111"/><rect x="613.6" y="259.1" width="1.8" height="1.8" fill="#111"/><rect x="617.2" y="259.1" width="1.8" height="1.8" fill="#111"/><rect x="620.8" y="259.1" width="1.8" height="1.8" fill="#111"/><path d="M453.5,204.6 H464" fill="none" stroke="#2f352f" stroke-width="1.0" /><polygon points="467.2,204.6 460.7,201.7 462.2,204.6 460.7,207.5" fill="#111"/><path d="M477.6,411.79999999999995 V284.4 H646.6 V411.79999999999995 H477.6" fill="none" stroke="#2a2a2a" stroke-width="1.1" /><rect x="515.60" y="296.00" width="112.60" height="49.00" fill="#ffffff" /><g transform="translate(517.10,299.50) scale(1.650,1.712)"><circle cx="3.7" cy="6.8" r="0.35" fill="#9fd0e0"/><circle cx="11.0" cy="7.3" r="0.35" fill="#9fd0e0"/><circle cx="7.9" cy="6.8" r="0.35" fill="#c8c8d8"/><circle cx="11.5" cy="8.0" r="0.35" fill="#c8c8d8"/><circle cx="12.2" cy="5.7" r="0.35" fill="#9fd0e0"/><circle cx="14.2" cy="4.1" r="0.35" fill="#9fd0e0"/><circle cx="10.2" cy="0.9" r="0.35" fill="#9fd0e0"/><circle cx="13.4" cy="6.7" r="0.35" fill="#b8d8e0"/><circle cx="17.2" cy="9.2" r="0.35" fill="#c8c8d8"/><circle cx="10.5" cy="1.6" r="0.35" fill="#c8c8d8"/><circle cx="8.4" cy="5.3" r="0.35" fill="#9fd0e0"/><circle cx="5.4" cy="1.0" r="0.35" fill="#b8d8e0"/><circle cx="7.8" cy="2.1" r="0.35" fill="#b8d8e0"/><circle cx="14.5" cy="4.7" r="0.35" fill="#b8d8e0"/><circle cx="3.4" cy="8.9" r="0.35" fill="#b8d8e0"/><circle cx="4.7" cy="6.5" r="0.35" fill="#c8c8d8"/><circle cx="6.3" cy="1.4" r="0.35" fill="#c8c8d8"/><circle cx="8.9" cy="7.4" r="0.35" fill="#b8d8e0"/><circle cx="15.9" cy="7.0" r="0.35" fill="#b8d8e0"/><circle cx="12.5" cy="5.9" r="0.35" fill="#c8c8d8"/><circle cx="18.8" cy="5.6" r="0.35" fill="#9fd0e0"/><circle cx="8.0" cy="8.2" r="0.35" fill="#c8c8d8"/><g clip-path="url(#hb)"><path d="M-1,14 L5,12 L9,9.5 L14,7.5 L21,6 V27 H-1 Z" fill="#48b8d4" opacity="0.5"/><path d="M10.0,17.8 l-2.0,2.0" stroke="#2a8aa8" stroke-width="0.5" opacity="0.8"/><path d="M9.0,15.2 l2.6,2.7" stroke="#3a98c4" stroke-width="0.5" opacity="0.8"/><path d="M5.2,22.0 l0.1,2.5" stroke="#6cc8dc" stroke-width="0.5" opacity="0.8"/><path d="M4.3,20.3 l2.6,-1.7" stroke="#2a8aa8" stroke-width="0.5" opacity="0.8"/><path d="M3.3,10.8 l0.1,-2.2" stroke="#6cc8dc" stroke-width="0.5" opacity="0.8"/><path d="M8.2,12.1 l-2.5,-0.7" stroke="#3a98c4" stroke-width="0.5" opacity="0.8"/><path d="M2.0,22.0 l-3.0,-1.4" stroke="#2a8aa8" stroke-width="0.5" opacity="0.8"/><path d="M12.4,15.5 l-1.5,-1.9" stroke="#2a8aa8" stroke-width="0.5" opacity="0.8"/><path d="M14.2,20.2 l-2.9,-1.9" stroke="#2a8aa8" stroke-width="0.5" opacity="0.8"/><path d="M9.7,11.7 l1.4,-1.4" stroke="#3a98c4" stroke-width="0.5" opacity="0.8"/><path d="M15.2,20.9 l1.0,1.6" stroke="#6cc8dc" stroke-width="0.5" opacity="0.8"/><path d="M8.0,8.1 l-1.3,-1.7" stroke="#6cc8dc" stroke-width="0.5" opacity="0.8"/><path d="M7.3,25.0 l-1.6,-2.0" stroke="#3a98c4" stroke-width="0.5" opacity="0.8"/><path d="M10.8,16.5 l2.0,-1.4" stroke="#3a98c4" stroke-width="0.5" opacity="0.8"/><path d="M12.4,23.6 l-2.6,-1.9" stroke="#3a98c4" stroke-width="0.5" opacity="0.8"/><path d="M2.3,20.8 l-0.6,1.4" stroke="#3a98c4" stroke-width="0.5" opacity="0.8"/><path d="M16.2,14.1 l-2.2,2.5" stroke="#2a8aa8" stroke-width="0.5" opacity="0.8"/><path d="M11.6,22.3 l1.3,-1.4" stroke="#2a8aa8" stroke-width="0.5" opacity="0.8"/><path d="M15.3,10.7 l3.0,2.9" stroke="#3a98c4" stroke-width="0.5" opacity="0.8"/><path d="M1.1,21.6 l1.5,2.8" stroke="#3a98c4" stroke-width="0.5" opacity="0.8"/><path d="M4.4,16.7 l0.5,-2.0" stroke="#2a8aa8" stroke-width="0.5" opacity="0.8"/><path d="M4.6,24.3 l2.3,1.2" stroke="#2a8aa8" stroke-width="0.5" opacity="0.8"/><path d="M9.4,9.4 l1.2,-2.4" stroke="#6cc8dc" stroke-width="0.5" opacity="0.8"/><path d="M11.2,24.6 l1.7,1.2" stroke="#2a8aa8" stroke-width="0.5" opacity="0.8"/><path d="M3.9,23.9 l-2.2,-1.0" stroke="#2a8aa8" stroke-width="0.5" opacity="0.8"/><path d="M4.7,12.7 l-0.3,-1.8" stroke="#6cc8dc" stroke-width="0.5" opacity="0.8"/><path d="M3.5,10.0 l1.1,-1.0" stroke="#2a8aa8" stroke-width="0.5" opacity="0.8"/><path d="M9.1,21.0 l0.6,1.6" stroke="#2a8aa8" stroke-width="0.5" opacity="0.8"/><path d="M16.9,8.3 l-0.3,3.0" stroke="#2a8aa8" stroke-width="0.5" opacity="0.8"/><path d="M9.0,25.5 l-2.7,-0.2" stroke="#6cc8dc" stroke-width="0.5" opacity="0.8"/><path d="M6.6,15.9 l-0.3,-0.7" stroke="#6cc8dc" stroke-width="0.5" opacity="0.8"/><path d="M3.9,13.8 l1.8,1.5" stroke="#6cc8dc" stroke-width="0.5" opacity="0.8"/><path d="M11.6,24.5 l2.1,0.8" stroke="#2a8aa8" stroke-width="0.5" opacity="0.8"/><path d="M11.0,10.1 l0.3,1.9" stroke="#2a8aa8" stroke-width="0.5" opacity="0.8"/><path d="M4.9,17.3 l-1.8,-2.5" stroke="#6cc8dc" stroke-width="0.5" opacity="0.8"/><path d="M3.0,11.9 l1.1,1.9" stroke="#6cc8dc" stroke-width="0.5" opacity="0.8"/><path d="M0.0,11.7 l2.0,0.6" stroke="#2a8aa8" stroke-width="0.5" opacity="0.8"/><path d="M12.2,12.4 l0.5,-2.0" stroke="#2a8aa8" stroke-width="0.5" opacity="0.8"/><path d="M8.3,17.2 l1.9,-2.9" stroke="#2a8aa8" stroke-width="0.5" opacity="0.8"/><path d="M8.6,25.0 l-1.6,-0.5" stroke="#2a8aa8" stroke-width="0.5" opacity="0.8"/><path d="M15.7,25.3 l-0.5,1.4" stroke="#2a8aa8" stroke-width="0.5" opacity="0.8"/><path d="M8.0,14.6 l2.1,2.4" stroke="#6cc8dc" stroke-width="0.5" opacity="0.8"/><path d="M1.7,8.2 l2.1,-0.0" stroke="#6cc8dc" stroke-width="0.5" opacity="0.8"/><path d="M10.8,21.0 l-1.8,-0.7" stroke="#2a8aa8" stroke-width="0.5" opacity="0.8"/><path d="M5.6,23.3 l-2.1,-2.9" stroke="#6cc8dc" stroke-width="0.5" opacity="0.8"/><circle cx="9.0" cy="22.7" r="0.5" fill="#2a7aa0"/><circle cx="13.1" cy="8.7" r="0.5" fill="#e8f6f8"/><circle cx="6.5" cy="15.6" r="0.5" fill="#ffffff"/><circle cx="14.4" cy="23.9" r="0.5" fill="#2a7aa0"/><circle cx="8.1" cy="21.7" r="0.5" fill="#2a7aa0"/><circle cx="15.7" cy="12.9" r="0.5" fill="#2a7aa0"/><circle cx="11.0" cy="24.1" r="0.5" fill="#ffffff"/><circle cx="4.6" cy="11.4" r="0.5" fill="#e8f6f8"/><circle cx="2.4" cy="24.9" r="0.5" fill="#e8f6f8"/><circle cx="11.0" cy="14.2" r="0.5" fill="#ffffff"/><circle cx="7.2" cy="14.5" r="0.5" fill="#ffffff"/><circle cx="4.9" cy="17.6" r="0.5" fill="#e8f6f8"/><circle cx="7.9" cy="23.2" r="0.5" fill="#2a7aa0"/><circle cx="14.1" cy="13.9" r="0.5" fill="#2a7aa0"/><circle cx="6.3" cy="8.6" r="0.5" fill="#ffffff"/><circle cx="15.3" cy="21.5" r="0.5" fill="#2a7aa0"/><circle cx="14.7" cy="22.1" r="0.5" fill="#ffffff"/><circle cx="13.7" cy="24.6" r="0.5" fill="#ffffff"/><circle cx="7.1" cy="25.7" r="0.5" fill="#ffffff"/><circle cx="8.9" cy="10.9" r="0.5" fill="#2a7aa0"/><circle cx="9.3" cy="10.6" r="0.5" fill="#e8f6f8"/><circle cx="13.2" cy="16.6" r="0.5" fill="#2a7aa0"/><circle cx="12.8" cy="11.7" r="0.5" fill="#2a7aa0"/><circle cx="2.9" cy="24.3" r="0.5" fill="#2a7aa0"/><circle cx="3.3" cy="11.6" r="0.5" fill="#2a7aa0"/></g></g><rect x="518.6" y="298.0" width="7" height="1" fill="#b0b0b0"/><g transform="translate(554.63,299.50) scale(1.650,1.712)"><circle cx="4.3" cy="3.7" r="0.35" fill="#9fd0e0"/><circle cx="14.5" cy="3.7" r="0.35" fill="#9fd0e0"/><circle cx="4.2" cy="0.8" r="0.35" fill="#c8c8d8"/><circle cx="18.3" cy="1.2" r="0.35" fill="#c8c8d8"/><circle cx="18.2" cy="7.5" r="0.35" fill="#c8c8d8"/><circle cx="8.0" cy="1.1" r="0.35" fill="#b8d8e0"/><circle cx="15.9" cy="6.7" r="0.35" fill="#9fd0e0"/><circle cx="14.9" cy="3.6" r="0.35" fill="#c8c8d8"/><circle cx="6.4" cy="5.1" r="0.35" fill="#b8d8e0"/><circle cx="12.9" cy="2.3" r="0.35" fill="#b8d8e0"/><circle cx="12.1" cy="1.0" r="0.35" fill="#b8d8e0"/><circle cx="7.3" cy="6.8" r="0.35" fill="#c8c8d8"/><circle cx="6.2" cy="9.4" r="0.35" fill="#b8d8e0"/><circle cx="16.4" cy="9.8" r="0.35" fill="#9fd0e0"/><circle cx="17.5" cy="7.6" r="0.35" fill="#c8c8d8"/><circle cx="1.6" cy="8.4" r="0.35" fill="#9fd0e0"/><circle cx="17.6" cy="4.6" r="0.35" fill="#b8d8e0"/><circle cx="9.8" cy="9.2" r="0.35" fill="#9fd0e0"/><circle cx="3.1" cy="8.6" r="0.35" fill="#9fd0e0"/><circle cx="18.0" cy="6.3" r="0.35" fill="#b8d8e0"/><circle cx="11.6" cy="9.3" r="0.35" fill="#9fd0e0"/><circle cx="7.7" cy="1.4" r="0.35" fill="#b8d8e0"/><g clip-path="url(#hb)"><path d="M-1,14 L5,12 L9,9.5 L14,7.5 L21,6 V27 H-1 Z" fill="#48b8d4" opacity="0.5"/><path d="M15.9,24.3 l-0.2,-0.3" stroke="#3a98c4" stroke-width="0.5" opacity="0.8"/><path d="M0.7,24.7 l-0.5,-1.7" stroke="#2a8aa8" stroke-width="0.5" opacity="0.8"/><path d="M15.8,15.5 l1.8,-2.6" stroke="#2a8aa8" stroke-width="0.5" opacity="0.8"/><path d="M5.6,9.3 l-1.7,0.2" stroke="#3a98c4" stroke-width="0.5" opacity="0.8"/><path d="M13.8,24.4 l-2.4,0.5" stroke="#2a8aa8" stroke-width="0.5" opacity="0.8"/><path d="M10.5,22.1 l-1.2,-0.0" stroke="#3a98c4" stroke-width="0.5" opacity="0.8"/><path d="M12.0,17.0 l-0.6,-1.6" stroke="#3a98c4" stroke-width="0.5" opacity="0.8"/><path d="M3.6,8.6 l1.3,-2.5" stroke="#6cc8dc" stroke-width="0.5" opacity="0.8"/><path d="M11.7,22.5 l-1.6,2.9" stroke="#3a98c4" stroke-width="0.5" opacity="0.8"/><path d="M11.2,20.8 l1.3,-1.9" stroke="#2a8aa8" stroke-width="0.5" opacity="0.8"/><path d="M6.9,19.3 l-1.3,2.9" stroke="#6cc8dc" stroke-width="0.5" opacity="0.8"/><path d="M13.9,23.2 l-1.5,-1.9" stroke="#3a98c4" stroke-width="0.5" opacity="0.8"/><path d="M8.6,15.2 l0.1,2.2" stroke="#3a98c4" stroke-width="0.5" opacity="0.8"/><path d="M11.2,24.9 l0.9,-2.0" stroke="#2a8aa8" stroke-width="0.5" opacity="0.8"/><path d="M11.4,12.3 l2.0,2.9" stroke="#3a98c4" stroke-width="0.5" opacity="0.8"/><path d="M10.7,23.5 l3.0,-1.5" stroke="#6cc8dc" stroke-width="0.5" opacity="0.8"/><path d="M5.4,10.7 l2.3,-1.7" stroke="#6cc8dc" stroke-width="0.5" opacity="0.8"/><path d="M11.4,12.1 l-0.5,-2.3" stroke="#3a98c4" stroke-width="0.5" opacity="0.8"/><path d="M4.2,19.4 l1.4,-1.5" stroke="#3a98c4" stroke-width="0.5" opacity="0.8"/><path d="M16.0,20.6 l-0.3,1.3" stroke="#2a8aa8" stroke-width="0.5" opacity="0.8"/><path d="M6.2,21.9 l-1.7,-0.7" stroke="#6cc8dc" stroke-width="0.5" opacity="0.8"/><path d="M12.5,15.2 l0.3,-0.4" stroke="#6cc8dc" stroke-width="0.5" opacity="0.8"/><path d="M0.5,14.9 l0.5,2.1" stroke="#3a98c4" stroke-width="0.5" opacity="0.8"/><path d="M13.8,12.4 l-0.6,2.4" stroke="#6cc8dc" stroke-width="0.5" opacity="0.8"/><path d="M7.3,20.3 l-1.7,1.2" stroke="#2a8aa8" stroke-width="0.5" opacity="0.8"/><path d="M12.7,15.9 l-0.5,-0.4" stroke="#6cc8dc" stroke-width="0.5" opacity="0.8"/><path d="M7.5,14.7 l0.1,-1.0" stroke="#6cc8dc" stroke-width="0.5" opacity="0.8"/><path d="M8.9,12.5 l-1.5,-1.4" stroke="#3a98c4" stroke-width="0.5" opacity="0.8"/><path d="M2.2,17.7 l1.5,2.8" stroke="#2a8aa8" stroke-width="0.5" opacity="0.8"/><path d="M16.6,13.2 l-1.6,0.5" stroke="#2a8aa8" stroke-width="0.5" opacity="0.8"/><path d="M9.5,16.3 l0.8,2.9" stroke="#3a98c4" stroke-width="0.5" opacity="0.8"/><path d="M6.2,20.7 l0.4,2.3" stroke="#2a8aa8" stroke-width="0.5" opacity="0.8"/><path d="M3.8,24.0 l2.5,2.5" stroke="#2a8aa8" stroke-width="0.5" opacity="0.8"/><path d="M2.8,10.2 l-0.6,3.0" stroke="#6cc8dc" stroke-width="0.5" opacity="0.8"/><path d="M16.2,14.9 l1.4,-2.4" stroke="#2a8aa8" stroke-width="0.5" opacity="0.8"/><path d="M6.6,14.0 l0.4,-0.1" stroke="#6cc8dc" stroke-width="0.5" opacity="0.8"/><path d="M4.4,26.0 l2.2,-1.8" stroke="#2a8aa8" stroke-width="0.5" opacity="0.8"/><path d="M12.6,23.2 l1.9,-1.8" stroke="#6cc8dc" stroke-width="0.5" opacity="0.8"/><path d="M13.9,13.5 l-0.2,1.3" stroke="#6cc8dc" stroke-width="0.5" opacity="0.8"/><path d="M15.7,23.5 l-0.4,2.5" stroke="#6cc8dc" stroke-width="0.5" opacity="0.8"/><path d="M10.5,22.5 l1.7,-2.9" stroke="#6cc8dc" stroke-width="0.5" opacity="0.8"/><path d="M4.5,9.5 l-0.9,1.9" stroke="#3a98c4" stroke-width="0.5" opacity="0.8"/><path d="M1.5,15.0 l-2.9,-0.8" stroke="#3a98c4" stroke-width="0.5" opacity="0.8"/><path d="M12.6,23.3 l1.7,-1.3" stroke="#3a98c4" stroke-width="0.5" opacity="0.8"/><path d="M16.5,11.4 l2.0,-1.4" stroke="#6cc8dc" stroke-width="0.5" opacity="0.8"/><circle cx="8.6" cy="23.1" r="0.5" fill="#e8f6f8"/><circle cx="10.2" cy="20.5" r="0.5" fill="#ffffff"/><circle cx="7.6" cy="8.2" r="0.5" fill="#2a7aa0"/><circle cx="5.9" cy="8.8" r="0.5" fill="#e8f6f8"/><circle cx="9.9" cy="23.3" r="0.5" fill="#ffffff"/><circle cx="2.7" cy="16.2" r="0.5" fill="#2a7aa0"/><circle cx="0.5" cy="16.9" r="0.5" fill="#e8f6f8"/><circle cx="15.4" cy="25.8" r="0.5" fill="#2a7aa0"/><circle cx="0.3" cy="18.9" r="0.5" fill="#ffffff"/><circle cx="13.9" cy="17.0" r="0.5" fill="#ffffff"/><circle cx="11.5" cy="18.2" r="0.5" fill="#ffffff"/><circle cx="6.1" cy="18.4" r="0.5" fill="#ffffff"/><circle cx="14.3" cy="21.7" r="0.5" fill="#2a7aa0"/><circle cx="16.2" cy="13.3" r="0.5" fill="#2a7aa0"/><circle cx="3.1" cy="21.4" r="0.5" fill="#ffffff"/><circle cx="12.7" cy="21.7" r="0.5" fill="#2a7aa0"/><circle cx="15.8" cy="10.8" r="0.5" fill="#ffffff"/><circle cx="2.4" cy="12.9" r="0.5" fill="#ffffff"/><circle cx="6.7" cy="14.6" r="0.5" fill="#2a7aa0"/><circle cx="3.8" cy="14.8" r="0.5" fill="#ffffff"/><circle cx="9.5" cy="24.1" r="0.5" fill="#e8f6f8"/><circle cx="7.4" cy="14.0" r="0.5" fill="#2a7aa0"/><circle cx="15.0" cy="19.8" r="0.5" fill="#2a7aa0"/><circle cx="0.6" cy="16.5" r="0.5" fill="#e8f6f8"/><circle cx="10.4" cy="22.2" r="0.5" fill="#2a7aa0"/></g></g><rect x="556.1" y="298.0" width="7" height="1" fill="#b0b0b0"/><g transform="translate(592.17,299.50) scale(1.650,1.712)"><circle cx="2.1" cy="4.2" r="0.35" fill="#d87878"/><circle cx="6.6" cy="7.1" r="0.35" fill="#d87878"/><circle cx="11.2" cy="9.5" r="0.35" fill="#d87878"/><circle cx="1.7" cy="5.3" r="0.35" fill="#d87878"/><circle cx="14.1" cy="1.8" r="0.35" fill="#d87878"/><circle cx="1.7" cy="4.9" r="0.35" fill="#d87878"/><circle cx="5.2" cy="0.5" r="0.35" fill="#d87878"/><circle cx="16.3" cy="8.2" r="0.35" fill="#d87878"/><circle cx="13.1" cy="9.6" r="0.35" fill="#d87878"/><circle cx="14.2" cy="4.9" r="0.35" fill="#d87878"/><circle cx="14.8" cy="10.2" r="0.35" fill="#d87878"/><circle cx="18.0" cy="9.6" r="0.35" fill="#d87878"/><circle cx="15.2" cy="10.6" r="0.35" fill="#d87878"/><circle cx="18.0" cy="6.9" r="0.35" fill="#d87878"/><circle cx="8.6" cy="7.6" r="0.35" fill="#d87878"/><circle cx="18.5" cy="1.0" r="0.35" fill="#d87878"/><circle cx="8.8" cy="1.5" r="0.35" fill="#d87878"/><circle cx="2.9" cy="6.3" r="0.35" fill="#d87878"/><circle cx="4.4" cy="1.1" r="0.35" fill="#d87878"/><circle cx="11.4" cy="6.1" r="0.35" fill="#d87878"/><circle cx="9.9" cy="0.3" r="0.35" fill="#d87878"/><circle cx="3.4" cy="5.9" r="0.35" fill="#d87878"/><g clip-path="url(#hb)"><path d="M-1,14 L5,12 L9,9.5 L14,7.5 L21,6 V27 H-1 Z" fill="#48b0c8" opacity="0.5"/><path d="M1.1,10.0 l-0.9,2.7" stroke="#6cc8dc" stroke-width="0.5" opacity="0.8"/><path d="M13.3,9.9 l1.3,1.0" stroke="#2a8aa8" stroke-width="0.5" opacity="0.8"/><path d="M1.0,11.1 l-2.2,-0.5" stroke="#2a8aa8" stroke-width="0.5" opacity="0.8"/><path d="M5.0,17.7 l1.2,-1.8" stroke="#6cc8dc" stroke-width="0.5" opacity="0.8"/><path d="M1.3,11.0 l-0.3,1.6" stroke="#6cc8dc" stroke-width="0.5" opacity="0.8"/><path d="M14.3,10.2 l0.3,-2.7" stroke="#6cc8dc" stroke-width="0.5" opacity="0.8"/><path d="M2.2,11.1 l2.7,0.3" stroke="#6cc8dc" stroke-width="0.5" opacity="0.8"/><path d="M14.9,14.1 l-1.3,-0.7" stroke="#2a80b8" stroke-width="0.5" opacity="0.8"/><path d="M13.0,20.8 l-0.5,2.9" stroke="#6cc8dc" stroke-width="0.5" opacity="0.8"/><path d="M8.3,24.8 l-2.8,-1.7" stroke="#6cc8dc" stroke-width="0.5" opacity="0.8"/><path d="M8.2,22.9 l1.9,-0.1" stroke="#2a8aa8" stroke-width="0.5" opacity="0.8"/><path d="M15.8,20.5 l0.6,2.1" stroke="#2a80b8" stroke-width="0.5" opacity="0.8"/><path d="M13.1,17.5 l-1.1,-1.2" stroke="#6cc8dc" stroke-width="0.5" opacity="0.8"/><path d="M13.2,16.9 l0.9,-0.5" stroke="#6cc8dc" stroke-width="0.5" opacity="0.8"/><path d="M4.5,17.3 l1.7,2.1" stroke="#2a8aa8" stroke-width="0.5" opacity="0.8"/><path d="M8.3,22.1 l1.6,-0.4" stroke="#2a8aa8" stroke-width="0.5" opacity="0.8"/><path d="M2.0,15.6 l3.0,1.1" stroke="#2a80b8" stroke-width="0.5" opacity="0.8"/><path d="M0.3,20.2 l-2.5,-1.2" stroke="#6cc8dc" stroke-width="0.5" opacity="0.8"/><path d="M12.6,8.1 l-2.2,-1.8" stroke="#6cc8dc" stroke-width="0.5" opacity="0.8"/><path d="M13.7,21.3 l1.2,2.8" stroke="#2a80b8" stroke-width="0.5" opacity="0.8"/><path d="M8.4,22.7 l-2.0,1.9" stroke="#2a8aa8" stroke-width="0.5" opacity="0.8"/><path d="M7.9,23.7 l0.6,-2.8" stroke="#2a80b8" stroke-width="0.5" opacity="0.8"/><path d="M10.1,25.9 l1.1,-2.8" stroke="#6cc8dc" stroke-width="0.5" opacity="0.8"/><path d="M3.1,18.5 l-2.0,-2.0" stroke="#6cc8dc" stroke-width="0.5" opacity="0.8"/><path d="M11.5,12.9 l2.8,-2.0" stroke="#2a8aa8" stroke-width="0.5" opacity="0.8"/><path d="M12.3,8.3 l1.0,0.1" stroke="#2a8aa8" stroke-width="0.5" opacity="0.8"/><path d="M10.2,19.1 l-2.5,-0.1" stroke="#2a80b8" stroke-width="0.5" opacity="0.8"/><path d="M16.2,9.8 l-0.6,2.3" stroke="#2a80b8" stroke-width="0.5" opacity="0.8"/><path d="M14.3,17.0 l-0.3,1.2" stroke="#2a8aa8" stroke-width="0.5" opacity="0.8"/><path d="M5.0,18.6 l1.6,-0.6" stroke="#6cc8dc" stroke-width="0.5" opacity="0.8"/><path d="M10.9,22.4 l-1.8,-1.6" stroke="#6cc8dc" stroke-width="0.5" opacity="0.8"/><path d="M10.7,20.4 l0.2,-1.9" stroke="#2a80b8" stroke-width="0.5" opacity="0.8"/><path d="M12.2,23.4 l-2.5,-2.4" stroke="#2a80b8" stroke-width="0.5" opacity="0.8"/><path d="M1.7,13.9 l-0.5,2.6" stroke="#6cc8dc" stroke-width="0.5" opacity="0.8"/><path d="M11.9,17.7 l-1.9,2.4" stroke="#2a8aa8" stroke-width="0.5" opacity="0.8"/><path d="M11.5,9.7 l-1.4,-1.1" stroke="#2a80b8" stroke-width="0.5" opacity="0.8"/><path d="M5.9,8.2 l-0.4,2.9" stroke="#2a8aa8" stroke-width="0.5" opacity="0.8"/><path d="M16.6,10.6 l1.1,1.7" stroke="#2a8aa8" stroke-width="0.5" opacity="0.8"/><path d="M3.3,12.7 l1.9,0.2" stroke="#2a80b8" stroke-width="0.5" opacity="0.8"/><path d="M10.3,22.5 l-2.4,-0.2" stroke="#2a80b8" stroke-width="0.5" opacity="0.8"/><path d="M9.4,12.2 l-1.4,1.0" stroke="#2a8aa8" stroke-width="0.5" opacity="0.8"/><path d="M15.5,25.3 l0.4,-0.3" stroke="#2a80b8" stroke-width="0.5" opacity="0.8"/><path d="M13.6,14.9 l0.6,-0.4" stroke="#2a80b8" stroke-width="0.5" opacity="0.8"/><path d="M7.9,23.4 l-3.0,1.2" stroke="#2a80b8" stroke-width="0.5" opacity="0.8"/><path d="M8.6,12.5 l-2.5,1.1" stroke="#2a8aa8" stroke-width="0.5" opacity="0.8"/><circle cx="13.7" cy="24.4" r="0.5" fill="#2a7aa0"/><circle cx="1.7" cy="25.4" r="0.5" fill="#2a7aa0"/><circle cx="6.1" cy="22.3" r="0.5" fill="#2a7aa0"/><circle cx="14.7" cy="16.2" r="0.5" fill="#ffffff"/><circle cx="5.4" cy="18.2" r="0.5" fill="#2a7aa0"/><circle cx="0.2" cy="20.6" r="0.5" fill="#e8f6f8"/><circle cx="7.6" cy="25.7" r="0.5" fill="#2a7aa0"/><circle cx="16.9" cy="9.8" r="0.5" fill="#ffffff"/><circle cx="1.4" cy="20.4" r="0.5" fill="#ffffff"/><circle cx="1.4" cy="9.9" r="0.5" fill="#e8f6f8"/><circle cx="14.0" cy="19.6" r="0.5" fill="#2a7aa0"/><circle cx="3.3" cy="12.8" r="0.5" fill="#ffffff"/><circle cx="2.0" cy="20.2" r="0.5" fill="#e8f6f8"/><circle cx="4.7" cy="17.5" r="0.5" fill="#ffffff"/><circle cx="11.1" cy="21.5" r="0.5" fill="#ffffff"/><circle cx="16.7" cy="9.7" r="0.5" fill="#ffffff"/><circle cx="1.8" cy="21.6" r="0.5" fill="#e8f6f8"/><circle cx="3.1" cy="18.7" r="0.5" fill="#e8f6f8"/><circle cx="13.5" cy="22.8" r="0.5" fill="#2a7aa0"/><circle cx="4.3" cy="22.3" r="0.5" fill="#ffffff"/><circle cx="13.0" cy="21.5" r="0.5" fill="#2a7aa0"/><circle cx="1.8" cy="9.3" r="0.5" fill="#e8f6f8"/><circle cx="2.8" cy="21.9" r="0.5" fill="#ffffff"/><circle cx="12.1" cy="8.3" r="0.5" fill="#2a7aa0"/><circle cx="2.7" cy="19.8" r="0.5" fill="#2a7aa0"/></g><circle cx="13.8" cy="9.2" r="0.45" fill="#d85a5a"/><circle cx="20.0" cy="-0.8" r="0.45" fill="#d85a5a"/><circle cx="9.6" cy="0.6" r="0.45" fill="#d85a5a"/><circle cx="17.5" cy="4.9" r="0.45" fill="#d85a5a"/><circle cx="17.8" cy="2.0" r="0.45" fill="#d85a5a"/><circle cx="16.9" cy="3.9" r="0.45" fill="#d85a5a"/><circle cx="7.3" cy="3.7" r="0.45" fill="#d85a5a"/><circle cx="18.4" cy="10.0" r="0.45" fill="#d85a5a"/><circle cx="6.2" cy="8.7" r="0.45" fill="#d85a5a"/><circle cx="16.0" cy="3.1" r="0.45" fill="#d85a5a"/><circle cx="7.2" cy="5.9" r="0.45" fill="#d85a5a"/><circle cx="11.4" cy="1.9" r="0.45" fill="#d85a5a"/><circle cx="15.6" cy="5.7" r="0.45" fill="#d85a5a"/><circle cx="17.5" cy="2.9" r="0.45" fill="#d85a5a"/><circle cx="19.6" cy="7.8" r="0.45" fill="#d85a5a"/><circle cx="6.3" cy="10.4" r="0.45" fill="#d85a5a"/></g><rect x="593.7" y="298.0" width="7" height="1" fill="#b0b0b0"/><rect x="494.30" y="368.00" width="120.00" height="34.30" fill="#ffffff" /><path d="M508.3,392.0 Q511.7,395.1 525.2,388.1" fill="none" stroke="#5b8fcf" stroke-width="0.5"/><path d="M525.2,388.1 Q519.1,393.4 508.3,392.0" fill="none" stroke="#6a9ad4" stroke-width="0.7"/><path d="M502.2,394.0 Q517.5,389.9 522.6,384.2" fill="none" stroke="#6a9ad4" stroke-width="1.2"/><path d="M502.2,394.0 Q497.4,394.1 503.6,392.7" fill="none" stroke="#7fa9da" stroke-width="0.7"/><path d="M508.3,392.0 Q503.2,393.1 500.5,389.9" fill="none" stroke="#7fa9da" stroke-width="0.7"/><path d="M531.4,389.2 Q511.9,395.7 502.9,390.6" fill="none" stroke="#7fa9da" stroke-width="0.7"/><path d="M508.3,392.0 Q511.9,392.7 525.2,388.1" fill="none" stroke="#7fa9da" stroke-width="0.7"/><path d="M508.3,392.0 Q515.6,388.0 526.3,389.4" fill="none" stroke="#6a9ad4" stroke-width="0.7"/><path d="M500.5,389.9 Q521.4,391.9 531.4,389.2" fill="none" stroke="#9dbfe6" stroke-width="0.7"/><path d="M526.3,389.4 Q521.8,383.5 504.5,383.6" fill="none" stroke="#5b8fcf" stroke-width="0.5"/><path d="M502.9,390.6 Q498.9,395.3 508.3,392.0" fill="none" stroke="#7fa9da" stroke-width="0.5"/><path d="M526.3,389.4 Q531.7,385.7 531.4,389.2" fill="none" stroke="#9dbfe6" stroke-width="0.9"/><path d="M525.2,388.1 Q522.9,387.0 513.1,396.4" fill="none" stroke="#6a9ad4" stroke-width="0.7"/><path d="M503.6,392.7 Q502.4,385.7 504.5,383.6" fill="none" stroke="#6a9ad4" stroke-width="0.7"/><rect x="528.4" y="390.0" width="6" height="0.9" fill="#b8b8b8"/><rect x="505.3" y="392.8" width="6" height="0.9" fill="#b8b8b8"/><rect x="501.5" y="384.4" width="6" height="0.9" fill="#b8b8b8"/><rect x="519.6" y="385.0" width="6" height="0.9" fill="#b8b8b8"/><rect x="499.9" y="391.4" width="6" height="0.9" fill="#b8b8b8"/><rect x="500.6" y="393.5" width="6" height="0.9" fill="#b8b8b8"/><rect x="499.2" y="394.8" width="6" height="0.9" fill="#b8b8b8"/><rect x="510.1" y="397.2" width="6" height="0.9" fill="#b8b8b8"/><rect x="522.2" y="388.9" width="6" height="0.9" fill="#b8b8b8"/><rect x="497.5" y="390.7" width="6" height="0.9" fill="#b8b8b8"/><rect x="523.3" y="390.2" width="6" height="0.9" fill="#b8b8b8"/><circle cx="531.4" cy="389.2" r="0.9" fill="#d06878"/><circle cx="508.3" cy="392.0" r="0.9" fill="#d06878"/><circle cx="504.5" cy="383.6" r="0.9" fill="#d06878"/><circle cx="522.6" cy="384.2" r="0.9" fill="#d06878"/><rect x="496.3" y="370.0" width="8" height="1" fill="#a8a8a8"/><path d="M556.7,377.7 Q564.7,379.3 565.0,375.1" fill="none" stroke="#9dbfe6" stroke-width="1.2"/><path d="M541.0,394.1 Q540.7,391.3 548.9,380.3" fill="none" stroke="#9dbfe6" stroke-width="0.9"/><path d="M569.8,383.7 Q570.2,388.2 565.8,389.2" fill="none" stroke="#7fa9da" stroke-width="1.2"/><path d="M556.7,377.7 Q556.8,380.8 547.9,395.0" fill="none" stroke="#9dbfe6" stroke-width="1.2"/><path d="M543.5,380.6 Q539.3,390.2 541.0,394.1" fill="none" stroke="#7fa9da" stroke-width="0.9"/><path d="M543.5,380.6 Q549.8,386.3 549.5,391.9" fill="none" stroke="#5b8fcf" stroke-width="1.2"/><path d="M565.8,389.2 Q556.5,385.7 556.7,377.7" fill="none" stroke="#5b8fcf" stroke-width="1.2"/><path d="M547.9,395.0 Q549.9,381.5 556.7,377.7" fill="none" stroke="#9dbfe6" stroke-width="0.9"/><path d="M548.9,380.3 Q545.4,383.1 547.9,395.0" fill="none" stroke="#9dbfe6" stroke-width="0.7"/><path d="M541.0,394.1 Q543.3,394.9 549.5,391.9" fill="none" stroke="#6a9ad4" stroke-width="0.9"/><path d="M550.5,395.5 Q552.4,399.8 547.9,395.0" fill="none" stroke="#7fa9da" stroke-width="0.7"/><path d="M556.7,377.7 Q549.4,389.5 550.5,395.5" fill="none" stroke="#6a9ad4" stroke-width="0.5"/><path d="M543.5,380.6 Q551.3,382.3 553.1,372.9" fill="none" stroke="#7fa9da" stroke-width="0.9"/><path d="M548.9,380.3 Q550.2,382.1 565.0,375.1" fill="none" stroke="#5b8fcf" stroke-width="1.2"/><path d="M549.5,391.9 Q556.7,392.0 569.8,383.7" fill="none" stroke="#9dbfe6" stroke-width="0.7"/><path d="M565.0,375.1 Q562.7,387.2 550.5,395.5" fill="none" stroke="#5b8fcf" stroke-width="0.9"/><path d="M548.9,380.3 Q551.7,390.6 547.9,395.0" fill="none" stroke="#9dbfe6" stroke-width="0.5"/><path d="M553.1,372.9 Q561.9,377.8 556.7,377.7" fill="none" stroke="#6a9ad4" stroke-width="0.5"/><path d="M553.1,372.9 Q550.0,386.1 541.0,394.1" fill="none" stroke="#7fa9da" stroke-width="0.9"/><path d="M565.8,389.2 Q568.9,384.5 569.8,383.7" fill="none" stroke="#6a9ad4" stroke-width="0.7"/><path d="M553.1,372.9 Q556.1,380.9 550.5,395.5" fill="none" stroke="#7fa9da" stroke-width="0.9"/><path d="M547.9,395.0 Q561.2,390.4 565.8,389.2" fill="none" stroke="#6a9ad4" stroke-width="0.9"/><path d="M548.9,380.3 Q547.4,386.3 541.0,394.1" fill="none" stroke="#5b8fcf" stroke-width="0.9"/><path d="M543.5,380.6 Q543.4,389.0 547.9,395.0" fill="none" stroke="#6a9ad4" stroke-width="1.2"/><path d="M565.8,389.2 Q566.4,382.1 553.1,372.9" fill="none" stroke="#5b8fcf" stroke-width="0.9"/><path d="M553.1,372.9 Q565.8,380.9 569.8,383.7" fill="none" stroke="#7fa9da" stroke-width="0.9"/><rect x="547.5" y="396.3" width="6" height="0.9" fill="#b8b8b8"/><rect x="553.7" y="378.5" width="6" height="0.9" fill="#b8b8b8"/><rect x="540.5" y="381.4" width="6" height="0.9" fill="#b8b8b8"/><rect x="546.5" y="392.7" width="6" height="0.9" fill="#b8b8b8"/><rect x="562.8" y="390.0" width="6" height="0.9" fill="#b8b8b8"/><rect x="550.1" y="373.7" width="6" height="0.9" fill="#b8b8b8"/><rect x="562.0" y="375.9" width="6" height="0.9" fill="#b8b8b8"/><rect x="544.9" y="395.8" width="6" height="0.9" fill="#b8b8b8"/><rect x="538.0" y="394.9" width="6" height="0.9" fill="#b8b8b8"/><rect x="545.9" y="381.1" width="6" height="0.9" fill="#b8b8b8"/><rect x="566.8" y="384.5" width="6" height="0.9" fill="#b8b8b8"/><circle cx="550.5" cy="395.5" r="0.9" fill="#d06878"/><circle cx="556.7" cy="377.7" r="0.9" fill="#d06878"/><circle cx="543.5" cy="380.6" r="0.9" fill="#d06878"/><circle cx="549.5" cy="391.9" r="0.9" fill="#d06878"/><rect x="536.3" y="370.0" width="8" height="1" fill="#a8a8a8"/><path d="M590.0,395.3 Q581.3,388.6 577.5,385.4" fill="none" stroke="#9dbfe6" stroke-width="1.2"/><path d="M590.0,395.3 Q584.2,400.2 586.4,395.0" fill="none" stroke="#9dbfe6" stroke-width="0.5"/><path d="M593.7,377.0 Q595.4,391.5 594.4,395.8" fill="none" stroke="#9dbfe6" stroke-width="0.9"/><path d="M577.5,385.4 Q580.9,380.3 597.0,375.6" fill="none" stroke="#9dbfe6" stroke-width="0.7"/><path d="M593.7,377.0 Q586.3,389.9 586.4,395.0" fill="none" stroke="#7fa9da" stroke-width="0.7"/><path d="M586.4,395.0 Q593.5,383.2 593.7,377.0" fill="none" stroke="#6a9ad4" stroke-width="0.9"/><path d="M577.0,386.9 Q578.8,393.9 594.4,395.8" fill="none" stroke="#5b8fcf" stroke-width="0.5"/><path d="M586.4,395.0 Q594.1,400.9 590.0,395.3" fill="none" stroke="#9dbfe6" stroke-width="1.2"/><path d="M594.4,395.8 Q608.9,387.7 609.9,390.0" fill="none" stroke="#7fa9da" stroke-width="1.2"/><path d="M609.9,390.0 Q600.0,391.1 577.0,386.9" fill="none" stroke="#5b8fcf" stroke-width="0.5"/><path d="M577.5,385.4 Q580.4,394.9 590.0,395.3" fill="none" stroke="#9dbfe6" stroke-width="0.5"/><path d="M590.0,395.3 Q587.7,394.4 586.4,395.0" fill="none" stroke="#5b8fcf" stroke-width="0.7"/><path d="M577.5,385.4 Q592.4,386.5 599.5,394.2" fill="none" stroke="#5b8fcf" stroke-width="0.9"/><path d="M590.0,395.3 Q588.7,400.8 594.4,395.8" fill="none" stroke="#9dbfe6" stroke-width="1.2"/><path d="M597.0,375.6 Q592.7,387.4 590.0,395.3" fill="none" stroke="#6a9ad4" stroke-width="0.9"/><path d="M590.0,395.3 Q587.0,383.6 597.0,375.6" fill="none" stroke="#5b8fcf" stroke-width="0.5"/><path d="M579.4,386.6 Q595.1,393.1 599.5,394.2" fill="none" stroke="#5b8fcf" stroke-width="1.2"/><path d="M586.4,395.0 Q596.0,397.5 594.4,395.8" fill="none" stroke="#9dbfe6" stroke-width="0.9"/><path d="M590.0,395.3 Q591.2,394.0 599.5,394.2" fill="none" stroke="#5b8fcf" stroke-width="0.5"/><path d="M590.0,395.3 Q594.9,385.2 597.0,375.6" fill="none" stroke="#5b8fcf" stroke-width="0.9"/><rect x="574.5" y="386.2" width="6" height="0.9" fill="#b8b8b8"/><rect x="590.7" y="377.8" width="6" height="0.9" fill="#b8b8b8"/><rect x="596.5" y="395.0" width="6" height="0.9" fill="#b8b8b8"/><rect x="576.4" y="387.4" width="6" height="0.9" fill="#b8b8b8"/><rect x="587.0" y="396.1" width="6" height="0.9" fill="#b8b8b8"/><rect x="591.4" y="396.6" width="6" height="0.9" fill="#b8b8b8"/><rect x="583.4" y="395.8" width="6" height="0.9" fill="#b8b8b8"/><rect x="606.9" y="390.8" width="6" height="0.9" fill="#b8b8b8"/><rect x="594.0" y="376.4" width="6" height="0.9" fill="#b8b8b8"/><rect x="592.5" y="376.5" width="6" height="0.9" fill="#b8b8b8"/><rect x="574.0" y="387.7" width="6" height="0.9" fill="#b8b8b8"/><circle cx="577.5" cy="385.4" r="0.9" fill="#d06878"/><circle cx="593.7" cy="377.0" r="0.9" fill="#d06878"/><circle cx="599.5" cy="394.2" r="0.9" fill="#d06878"/><circle cx="579.4" cy="386.6" r="0.9" fill="#d06878"/><rect x="576.3" y="370.0" width="8" height="1" fill="#a8a8a8"/><rect x="467.30" y="291.60" width="21.50" height="114.40" rx="3.5" ry="3.5" fill="#afc8ec" stroke="#2a3a55" stroke-width="1.1" /><text transform="translate(484.20,403.50) scale(1.1,1) rotate(-90)" x="0" y="0" font-family="Liberation Serif" font-size="13.0" fill="#161c2c" textLength="109.70" lengthAdjust="spacingAndGlyphs" stroke="#161c2c" stroke-width="0.38">Scenario2 (200km)</text><rect x="493.60" y="286.20" width="19.00" height="76.20" rx="3.5" ry="3.5" fill="#afc8ec" stroke="#2a3a55" stroke-width="1.1" /><text transform="translate(506.80,358.30) scale(1.1,1) rotate(-90)" x="0" y="0" font-family="Liberation Sans" font-size="11.2" fill="#161c2c" textLength="68.90" lengthAdjust="spacingAndGlyphs" stroke="#161c2c" stroke-width="0.38">County scale</text><rect x="625.50" y="355.00" width="18.00" height="53.80" rx="3.5" ry="3.5" fill="#afc8ec" stroke="#2a3a55" stroke-width="1.1" /><text transform="translate(630.50,356.90) scale(1.1,1) rotate(90)" x="0" y="0" font-family="Liberation Sans" font-size="11.2" fill="#161c2c" textLength="49.40" lengthAdjust="spacingAndGlyphs" stroke="#161c2c" stroke-width="0.38">City scale</text><rect x="630.0" y="344.9" width="1.8" height="1.8" fill="#111"/><rect x="633.6" y="344.9" width="1.8" height="1.8" fill="#111"/><rect x="637.2" y="344.9" width="1.8" height="1.8" fill="#111"/><rect x="615.0" y="403.1" width="1.8" height="1.8" fill="#111"/><rect x="618.6" y="403.1" width="1.8" height="1.8" fill="#111"/><rect x="622.2" y="403.1" width="1.8" height="1.8" fill="#111"/><path d="M453.5,348.4 H464" fill="none" stroke="#2f352f" stroke-width="1.0" /><polygon points="467.2,348.4 460.7,345.5 462.2,348.4 460.7,351.29999999999995" fill="#111"/><rect x="115.70" y="430.90" width="413.30" height="24.40" rx="4" ry="4" fill="#fc9a33" stroke="#6a4526" stroke-width="1.2" /><text x="161.70" y="449.00" font-family="Liberation Serif" font-size="13.6" fill="#2e1a0c" textLength="320.60" lengthAdjust="spacingAndGlyphs" stroke="#2e1a0c" stroke-width="0.3" >Reassessment of grain supply-demand relationship</text><path d="M165.7,472.4 V466.2 Q165.7,463.1 168.8,463.1 H328.4 Q332.2,463.1 332.2,459.3 V455.2 M332.2,459.3 Q332.2,463.1 336,463.1 H495.4 Q498.5,463.1 498.5,466.2 V474.2" fill="none" stroke="#6a4526" stroke-width="1.1" /><rect x="13.70" y="480.00" width="304.50" height="99.80" rx="12" ry="12" fill="none" stroke="#6a4526" stroke-width="1.1" /><rect x="342.60" y="480.60" width="305.40" height="99.80" rx="12" ry="12" fill="none" stroke="#6a4526" stroke-width="1.1" /><rect x="27.50" y="472.20" width="277.30" height="19.00" rx="3.5" ry="3.5" fill="#fbc99e" stroke="#6a4526" stroke-width="1.1" /><text x="31.00" y="486.40" font-family="Liberation Serif" font-size="14.4" fill="#2e1a0c" textLength="268.80" lengthAdjust="spacingAndGlyphs" stroke="#2e1a0c" stroke-width="0.3" >Supply-demand relationship Reassessment</text><rect x="392.20" y="473.50" width="197.80" height="18.60" rx="3.5" ry="3.5" fill="#fbc99e" stroke="#6a4526" stroke-width="1.1" /><text x="414.60" y="487.90" font-family="Liberation Serif" font-size="15.2" fill="#2e1a0c" textLength="152.60" lengthAdjust="spacingAndGlyphs" stroke="#2e1a0c" stroke-width="0.3" >Threshold Identification</text><rect x="31.10" y="497.10" width="127.60" height="65.50" fill="#ffffff" /><rect x="172.00" y="497.10" width="127.60" height="65.50" fill="#ffffff" /><g transform="translate(32.50,499.10) scale(1.1000,1.1385)" clip-path="url(#hb)"><rect x="0" y="0" width="20" height="26" fill="#d6e040"/><path d="M-1,10 L8,9.5 L10,11 L9.5,14 L6,15 L-1,15 Z" fill="#ec942c" stroke="#ec942c" stroke-width="0.5"/><path d="M-1,15 L6,15 L9.5,14 L10,17 L7,18.5 L-1,19 Z" fill="#ec942c" stroke="#ec942c" stroke-width="0.5"/><path d="M8,9.5 L10,7 L12,8 L12.5,10 L10,11 Z" fill="#d8361c" stroke="#d8361c" stroke-width="0.5"/><path d="M12.5,10 L14,12 L16,13 L14,15 L12,12.5 Z" fill="#ec942c" stroke="#ec942c" stroke-width="0.5"/><path d="M10,11 L12.5,10 L12,12.5 L9.5,14 Z" fill="#ec942c" stroke="#ec942c" stroke-width="0.5"/><path d="M-1,19 L7,18.5 L9,22 L7,23 L-1,22.5 Z" fill="#c0e048" stroke="#c0e048" stroke-width="0.5"/><path d="M-1,22.5 L7,23 L9,22 L21,27 V27 H-1 Z" fill="#c0e048" stroke="#c0e048" stroke-width="0.5"/><path d="M7,18.5 L10,17 L11,19 L21,21 V27 L9,22 Z" fill="#c0e048" stroke="#c0e048" stroke-width="0.5"/><path d="M12,8 L15,8 L21,7.5 V12 L16,13 L14,12 L12.5,10 Z" fill="#d6e040" stroke="#d6e040" stroke-width="0.5"/><path d="M9.5,14 L12,12.5 L14,15 L21,14 V21 L11,19 L10,17 Z" fill="#d6e040" stroke="#d6e040" stroke-width="0.5"/><path d="M-1,-1 H10 L10,7 L8,9.5 L-1,10 Z" fill="#d8c838" stroke="#d8c838" stroke-width="0.5"/><path d="M10,-1 H21 V7.5 L15,8 L12,8 L10,7 Z" fill="#d6e040" stroke="#d6e040" stroke-width="0.5"/></g><rect x="36.5" y="498.3" width="4" height="0.9" fill="#9a9a9a"/><g transform="translate(56.20,499.10) scale(1.1000,1.1385)" clip-path="url(#hb)"><rect x="0" y="0" width="20" height="26" fill="#c0e048"/><path d="M-1,-1 H10 L10,7 L8,9.5 L-1,10 Z" fill="#c0e048" stroke="#c0e048" stroke-width="0.5"/><path d="M10,-1 H21 V7.5 L15,8 L12,8 L10,7 Z" fill="#e0c040" stroke="#e0c040" stroke-width="0.5"/><path d="M-1,10 L8,9.5 L10,11 L9.5,14 L6,15 L-1,15 Z" fill="#d6e040" stroke="#d6e040" stroke-width="0.5"/><path d="M-1,15 L6,15 L9.5,14 L10,17 L7,18.5 L-1,19 Z" fill="#d6e040" stroke="#d6e040" stroke-width="0.5"/><path d="M8,9.5 L10,7 L12,8 L12.5,10 L10,11 Z" fill="#d8361c" stroke="#d8361c" stroke-width="0.5"/><path d="M12.5,10 L14,12 L16,13 L14,15 L12,12.5 Z" fill="#f2d43a" stroke="#f2d43a" stroke-width="0.5"/><path d="M10,11 L12.5,10 L12,12.5 L9.5,14 Z" fill="#f2d43a" stroke="#f2d43a" stroke-width="0.5"/><path d="M-1,19 L7,18.5 L9,22 L7,23 L-1,22.5 Z" fill="#c0e048" stroke="#c0e048" stroke-width="0.5"/><path d="M-1,22.5 L7,23 L9,22 L21,27 V27 H-1 Z" fill="#c0e048" stroke="#c0e048" stroke-width="0.5"/><path d="M7,18.5 L10,17 L11,19 L21,21 V27 L9,22 Z" fill="#c0e048" stroke="#c0e048" stroke-width="0.5"/></g><rect x="60.2" y="498.3" width="4" height="0.9" fill="#9a9a9a"/><g transform="translate(79.50,499.10) scale(1.1000,1.1385)" clip-path="url(#hb)"><rect x="0" y="0" width="20" height="26" fill="#9ed848"/><path d="M-1,-1 H10 L10,7 L8,9.5 L-1,10 Z" fill="#ec942c" stroke="#ec942c" stroke-width="0.5"/><path d="M10,-1 H21 V7.5 L15,8 L12,8 L10,7 Z" fill="#d8361c" stroke="#d8361c" stroke-width="0.5"/><path d="M8,9.5 L10,7 L12,8 L12.5,10 L10,11 Z" fill="#b02010" stroke="#b02010" stroke-width="0.5"/><path d="M12.5,10 L14,12 L16,13 L14,15 L12,12.5 Z" fill="#ec942c" stroke="#ec942c" stroke-width="0.5"/><path d="M10,11 L12.5,10 L12,12.5 L9.5,14 Z" fill="#ec942c" stroke="#ec942c" stroke-width="0.5"/><path d="M-1,10 L8,9.5 L10,11 L9.5,14 L6,15 L-1,15 Z" fill="#d6e040" stroke="#d6e040" stroke-width="0.5"/><path d="M-1,15 L6,15 L9.5,14 L10,17 L7,18.5 L-1,19 Z" fill="#d6e040" stroke="#d6e040" stroke-width="0.5"/><path d="M-1,19 L7,18.5 L9,22 L7,23 L-1,22.5 Z" fill="#9ed848" stroke="#9ed848" stroke-width="0.5"/><path d="M-1,22.5 L7,23 L9,22 L21,27 V27 H-1 Z" fill="#9ed848" stroke="#9ed848" stroke-width="0.5"/><path d="M7,18.5 L10,17 L11,19 L21,21 V27 L9,22 Z" fill="#9ed848" stroke="#9ed848" stroke-width="0.5"/><path d="M12,8 L15,8 L21,7.5 V12 L16,13 L14,12 L12.5,10 Z" fill="#ec942c" stroke="#ec942c" stroke-width="0.5"/><path d="M9.5,14 L12,12.5 L14,15 L21,14 V21 L11,19 L10,17 Z" fill="#9ed848" stroke="#9ed848" stroke-width="0.5"/></g><rect x="83.5" y="498.3" width="4" height="0.9" fill="#9a9a9a"/><g transform="translate(103.60,499.10) scale(1.1000,1.1385)" clip-path="url(#hb)"><rect x="0" y="0" width="20" height="26" fill="#9ed848"/><path d="M-1,-1 H10 L10,7 L8,9.5 L-1,10 Z" fill="#ec942c" stroke="#ec942c" stroke-width="0.5"/><path d="M10,-1 H21 V7.5 L15,8 L12,8 L10,7 Z" fill="#ec942c" stroke="#ec942c" stroke-width="0.5"/><path d="M8,9.5 L10,7 L12,8 L12.5,10 L10,11 Z" fill="#d8361c" stroke="#d8361c" stroke-width="0.5"/><path d="M12.5,10 L14,12 L16,13 L14,15 L12,12.5 Z" fill="#ec942c" stroke="#ec942c" stroke-width="0.5"/><path d="M10,11 L12.5,10 L12,12.5 L9.5,14 Z" fill="#ec942c" stroke="#ec942c" stroke-width="0.5"/><path d="M-1,10 L8,9.5 L10,11 L9.5,14 L6,15 L-1,15 Z" fill="#d6e040" stroke="#d6e040" stroke-width="0.5"/><path d="M-1,15 L6,15 L9.5,14 L10,17 L7,18.5 L-1,19 Z" fill="#d6e040" stroke="#d6e040" stroke-width="0.5"/><path d="M-1,19 L7,18.5 L9,22 L7,23 L-1,22.5 Z" fill="#9ed848" stroke="#9ed848" stroke-width="0.5"/><path d="M-1,22.5 L7,23 L9,22 L21,27 V27 H-1 Z" fill="#9ed848" stroke="#9ed848" stroke-width="0.5"/><path d="M7,18.5 L10,17 L11,19 L21,21 V27 L9,22 Z" fill="#9ed848" stroke="#9ed848" stroke-width="0.5"/><path d="M12,8 L15,8 L21,7.5 V12 L16,13 L14,12 L12.5,10 Z" fill="#ec942c" stroke="#ec942c" stroke-width="0.5"/></g><rect x="107.6" y="498.3" width="4" height="0.9" fill="#9a9a9a"/><g transform="translate(127.70,499.10) scale(1.1000,1.1385)" clip-path="url(#hb)"><rect x="0" y="0" width="20" height="26" fill="#9ed848"/><path d="M8,9.5 L10,7 L12,8 L12.5,10 L10,11 Z" fill="#d8361c" stroke="#d8361c" stroke-width="0.5"/><path d="M12.5,10 L14,12 L16,13 L14,15 L12,12.5 Z" fill="#d8361c" stroke="#d8361c" stroke-width="0.5"/><path d="M10,11 L12.5,10 L12,12.5 L9.5,14 Z" fill="#d8361c" stroke="#d8361c" stroke-width="0.5"/><path d="M-1,10 L8,9.5 L10,11 L9.5,14 L6,15 L-1,15 Z" fill="#c0e048" stroke="#c0e048" stroke-width="0.5"/><path d="M-1,15 L6,15 L9.5,14 L10,17 L7,18.5 L-1,19 Z" fill="#c0e048" stroke="#c0e048" stroke-width="0.5"/><path d="M-1,19 L7,18.5 L9,22 L7,23 L-1,22.5 Z" fill="#9ed848" stroke="#9ed848" stroke-width="0.5"/><path d="M-1,22.5 L7,23 L9,22 L21,27 V27 H-1 Z" fill="#9ed848" stroke="#9ed848" stroke-width="0.5"/><path d="M7,18.5 L10,17 L11,19 L21,21 V27 L9,22 Z" fill="#9ed848" stroke="#9ed848" stroke-width="0.5"/><path d="M-1,-1 H10 L10,7 L8,9.5 L-1,10 Z" fill="#c0e048" stroke="#c0e048" stroke-width="0.5"/><path d="M10,-1 H21 V7.5 L15,8 L12,8 L10,7 Z" fill="#ec942c" stroke="#ec942c" stroke-width="0.5"/><path d="M12,8 L15,8 L21,7.5 V12 L16,13 L14,12 L12.5,10 Z" fill="#ec942c" stroke="#ec942c" stroke-width="0.5"/></g><rect x="131.7" y="498.3" width="4" height="0.9" fill="#9a9a9a"/><defs><linearGradient id="lg255" x1="0" y1="0" x2="0" y2="1"><stop offset="0" stop-color="#4cb84c"/><stop offset="0.5" stop-color="#f0e040"/><stop offset="1" stop-color="#d02020"/></linearGradient></defs><rect x="150.50" y="505.10" width="3.00" height="18.00" fill="url(#lg255)" /><g transform="translate(32.50,531.80) scale(1.1000,1.1385)" clip-path="url(#hb)"><rect x="0" y="0" width="20" height="26" fill="#f2d43a"/><path d="M-1,-1 H10 L10,7 L8,9.5 L-1,10 Z" fill="#f2d43a" stroke="#f2d43a" stroke-width="0.5"/><path d="M10,-1 H21 V7.5 L15,8 L12,8 L10,7 Z" fill="#f2d43a" stroke="#f2d43a" stroke-width="0.5"/><path d="M-1,10 L8,9.5 L10,11 L9.5,14 L6,15 L-1,15 Z" fill="#ec942c" stroke="#ec942c" stroke-width="0.5"/><path d="M-1,15 L6,15 L9.5,14 L10,17 L7,18.5 L-1,19 Z" fill="#ec942c" stroke="#ec942c" stroke-width="0.5"/><path d="M8,9.5 L10,7 L12,8 L12.5,10 L10,11 Z" fill="#ec942c" stroke="#ec942c" stroke-width="0.5"/><path d="M12.5,10 L14,12 L16,13 L14,15 L12,12.5 Z" fill="#ec942c" stroke="#ec942c" stroke-width="0.5"/><path d="M10,11 L12.5,10 L12,12.5 L9.5,14 Z" fill="#ec942c" stroke="#ec942c" stroke-width="0.5"/><path d="M-1,19 L7,18.5 L9,22 L7,23 L-1,22.5 Z" fill="#d6e040" stroke="#d6e040" stroke-width="0.5"/><path d="M-1,22.5 L7,23 L9,22 L21,27 V27 H-1 Z" fill="#d6e040" stroke="#d6e040" stroke-width="0.5"/><path d="M7,18.5 L10,17 L11,19 L21,21 V27 L9,22 Z" fill="#d6e040" stroke="#d6e040" stroke-width="0.5"/><path d="M12,8 L15,8 L21,7.5 V12 L16,13 L14,12 L12.5,10 Z" fill="#f2d43a" stroke="#f2d43a" stroke-width="0.5"/><path d="M9.5,14 L12,12.5 L14,15 L21,14 V21 L11,19 L10,17 Z" fill="#f2d43a" stroke="#f2d43a" stroke-width="0.5"/></g><g transform="translate(56.20,531.80) scale(1.1000,1.1385)" clip-path="url(#hb)"><rect x="0" y="0" width="20" height="26" fill="#d6e040"/><path d="M-1,-1 H10 L10,7 L8,9.5 L-1,10 Z" fill="#f2d43a" stroke="#f2d43a" stroke-width="0.5"/><path d="M10,-1 H21 V7.5 L15,8 L12,8 L10,7 Z" fill="#f2d43a" stroke="#f2d43a" stroke-width="0.5"/><path d="M-1,10 L8,9.5 L10,11 L9.5,14 L6,15 L-1,15 Z" fill="#f2d43a" stroke="#f2d43a" stroke-width="0.5"/><path d="M-1,15 L6,15 L9.5,14 L10,17 L7,18.5 L-1,19 Z" fill="#f2d43a" stroke="#f2d43a" stroke-width="0.5"/><path d="M8,9.5 L10,7 L12,8 L12.5,10 L10,11 Z" fill="#ec942c" stroke="#ec942c" stroke-width="0.5"/><path d="M12.5,10 L14,12 L16,13 L14,15 L12,12.5 Z" fill="#ec942c" stroke="#ec942c" stroke-width="0.5"/><path d="M10,11 L12.5,10 L12,12.5 L9.5,14 Z" fill="#ec942c" stroke="#ec942c" stroke-width="0.5"/><path d="M-1,19 L7,18.5 L9,22 L7,23 L-1,22.5 Z" fill="#c0e048" stroke="#c0e048" stroke-width="0.5"/><path d="M-1,22.5 L7,23 L9,22 L21,27 V27 H-1 Z" fill="#c0e048" stroke="#c0e048" stroke-width="0.5"/><path d="M7,18.5 L10,17 L11,19 L21,21 V27 L9,22 Z" fill="#c0e048" stroke="#c0e048" stroke-width="0.5"/><path d="M12,8 L15,8 L21,7.5 V12 L16,13 L14,12 L12.5,10 Z" fill="#d6e040" stroke="#d6e040" stroke-width="0.5"/><path d="M9.5,14 L12,12.5 L14,15 L21,14 V21 L11,19 L10,17 Z" fill="#d6e040" stroke="#d6e040" stroke-width="0.5"/></g><g transform="translate(79.50,531.80) scale(1.1000,1.1385)" clip-path="url(#hb)"><rect x="0" y="0" width="20" height="26" fill="#c0e048"/><path d="M-1,-1 H10 L10,7 L8,9.5 L-1,10 Z" fill="#f07020" stroke="#f07020" stroke-width="0.5"/><path d="M10,-1 H21 V7.5 L15,8 L12,8 L10,7 Z" fill="#d8361c" stroke="#d8361c" stroke-width="0.5"/><path d="M8,9.5 L10,7 L12,8 L12.5,10 L10,11 Z" fill="#ec942c" stroke="#ec942c" stroke-width="0.5"/><path d="M12.5,10 L14,12 L16,13 L14,15 L12,12.5 Z" fill="#ec942c" stroke="#ec942c" stroke-width="0.5"/><path d="M10,11 L12.5,10 L12,12.5 L9.5,14 Z" fill="#ec942c" stroke="#ec942c" stroke-width="0.5"/><path d="M-1,10 L8,9.5 L10,11 L9.5,14 L6,15 L-1,15 Z" fill="#d6e040" stroke="#d6e040" stroke-width="0.5"/><path d="M-1,15 L6,15 L9.5,14 L10,17 L7,18.5 L-1,19 Z" fill="#d6e040" stroke="#d6e040" stroke-width="0.5"/><path d="M-1,19 L7,18.5 L9,22 L7,23 L-1,22.5 Z" fill="#c0e048" stroke="#c0e048" stroke-width="0.5"/><path d="M-1,22.5 L7,23 L9,22 L21,27 V27 H-1 Z" fill="#c0e048" stroke="#c0e048" stroke-width="0.5"/><path d="M7,18.5 L10,17 L11,19 L21,21 V27 L9,22 Z" fill="#c0e048" stroke="#c0e048" stroke-width="0.5"/><path d="M12,8 L15,8 L21,7.5 V12 L16,13 L14,12 L12.5,10 Z" fill="#f07020" stroke="#f07020" stroke-width="0.5"/></g><g transform="translate(103.60,531.80) scale(1.1000,1.1385)" clip-path="url(#hb)"><rect x="0" y="0" width="20" height="26" fill="#9ed848"/><path d="M-1,-1 H10 L10,7 L8,9.5 L-1,10 Z" fill="#ec942c" stroke="#ec942c" stroke-width="0.5"/><path d="M10,-1 H21 V7.5 L15,8 L12,8 L10,7 Z" fill="#ec942c" stroke="#ec942c" stroke-width="0.5"/><path d="M8,9.5 L10,7 L12,8 L12.5,10 L10,11 Z" fill="#ec942c" stroke="#ec942c" stroke-width="0.5"/><path d="M12.5,10 L14,12 L16,13 L14,15 L12,12.5 Z" fill="#ec942c" stroke="#ec942c" stroke-width="0.5"/><path d="M10,11 L12.5,10 L12,12.5 L9.5,14 Z" fill="#ec942c" stroke="#ec942c" stroke-width="0.5"/><path d="M-1,10 L8,9.5 L10,11 L9.5,14 L6,15 L-1,15 Z" fill="#d6e040" stroke="#d6e040" stroke-width="0.5"/><path d="M-1,15 L6,15 L9.5,14 L10,17 L7,18.5 L-1,19 Z" fill="#d6e040" stroke="#d6e040" stroke-width="0.5"/><path d="M-1,19 L7,18.5 L9,22 L7,23 L-1,22.5 Z" fill="#9ed848" stroke="#9ed848" stroke-width="0.5"/><path d="M-1,22.5 L7,23 L9,22 L21,27 V27 H-1 Z" fill="#9ed848" stroke="#9ed848" stroke-width="0.5"/><path d="M7,18.5 L10,17 L11,19 L21,21 V27 L9,22 Z" fill="#9ed848" stroke="#9ed848" stroke-width="0.5"/><path d="M12,8 L15,8 L21,7.5 V12 L16,13 L14,12 L12.5,10 Z" fill="#ec942c" stroke="#ec942c" stroke-width="0.5"/></g><g transform="translate(127.70,531.80) scale(1.1000,1.1385)" clip-path="url(#hb)"><rect x="0" y="0" width="20" height="26" fill="#9ed848"/><path d="M-1,-1 H10 L10,7 L8,9.5 L-1,10 Z" fill="#f2d43a" stroke="#f2d43a" stroke-width="0.5"/><path d="M10,-1 H21 V7.5 L15,8 L12,8 L10,7 Z" fill="#ec942c" stroke="#ec942c" stroke-width="0.5"/><path d="M8,9.5 L10,7 L12,8 L12.5,10 L10,11 Z" fill="#d8361c" stroke="#d8361c" stroke-width="0.5"/><path d="M12.5,10 L14,12 L16,13 L14,15 L12,12.5 Z" fill="#ec942c" stroke="#ec942c" stroke-width="0.5"/><path d="M10,11 L12.5,10 L12,12.5 L9.5,14 Z" fill="#d8361c" stroke="#d8361c" stroke-width="0.5"/><path d="M-1,10 L8,9.5 L10,11 L9.5,14 L6,15 L-1,15 Z" fill="#c0e048" stroke="#c0e048" stroke-width="0.5"/><path d="M-1,15 L6,15 L9.5,14 L10,17 L7,18.5 L-1,19 Z" fill="#c0e048" stroke="#c0e048" stroke-width="0.5"/><path d="M-1,19 L7,18.5 L9,22 L7,23 L-1,22.5 Z" fill="#9ed848" stroke="#9ed848" stroke-width="0.5"/><path d="M-1,22.5 L7,23 L9,22 L21,27 V27 H-1 Z" fill="#9ed848" stroke="#9ed848" stroke-width="0.5"/><path d="M7,18.5 L10,17 L11,19 L21,21 V27 L9,22 Z" fill="#9ed848" stroke="#9ed848" stroke-width="0.5"/></g><defs><linearGradient id="lg262" x1="0" y1="0" x2="0" y2="1"><stop offset="0" stop-color="#4cb84c"/><stop offset="0.5" stop-color="#f0e040"/><stop offset="1" stop-color="#d02020"/></linearGradient></defs><rect x="150.50" y="537.80" width="3.00" height="18.00" fill="url(#lg262)" /><g transform="translate(173.40,499.10) scale(1.1000,1.1385)" clip-path="url(#hb)"><rect x="0" y="0" width="20" height="26" fill="#d6e040"/><path d="M-1,10 L8,9.5 L10,11 L9.5,14 L6,15 L-1,15 Z" fill="#ec942c" stroke="#ec942c" stroke-width="0.5"/><path d="M-1,15 L6,15 L9.5,14 L10,17 L7,18.5 L-1,19 Z" fill="#ec942c" stroke="#ec942c" stroke-width="0.5"/><path d="M8,9.5 L10,7 L12,8 L12.5,10 L10,11 Z" fill="#d8361c" stroke="#d8361c" stroke-width="0.5"/><path d="M12.5,10 L14,12 L16,13 L14,15 L12,12.5 Z" fill="#ec942c" stroke="#ec942c" stroke-width="0.5"/><path d="M10,11 L12.5,10 L12,12.5 L9.5,14 Z" fill="#ec942c" stroke="#ec942c" stroke-width="0.5"/><path d="M-1,19 L7,18.5 L9,22 L7,23 L-1,22.5 Z" fill="#c0e048" stroke="#c0e048" stroke-width="0.5"/><path d="M-1,22.5 L7,23 L9,22 L21,27 V27 H-1 Z" fill="#c0e048" stroke="#c0e048" stroke-width="0.5"/><path d="M7,18.5 L10,17 L11,19 L21,21 V27 L9,22 Z" fill="#c0e048" stroke="#c0e048" stroke-width="0.5"/><path d="M12,8 L15,8 L21,7.5 V12 L16,13 L14,12 L12.5,10 Z" fill="#d6e040" stroke="#d6e040" stroke-width="0.5"/><path d="M9.5,14 L12,12.5 L14,15 L21,14 V21 L11,19 L10,17 Z" fill="#d6e040" stroke="#d6e040" stroke-width="0.5"/><path d="M-1,-1 H10 L10,7 L8,9.5 L-1,10 Z" fill="#d8c838" stroke="#d8c838" stroke-width="0.5"/><path d="M10,-1 H21 V7.5 L15,8 L12,8 L10,7 Z" fill="#d6e040" stroke="#d6e040" stroke-width="0.5"/></g><rect x="177.4" y="498.3" width="4" height="0.9" fill="#9a9a9a"/><g transform="translate(197.10,499.10) scale(1.1000,1.1385)" clip-path="url(#hb)"><rect x="0" y="0" width="20" height="26" fill="#c0e048"/><path d="M-1,-1 H10 L10,7 L8,9.5 L-1,10 Z" fill="#c0e048" stroke="#c0e048" stroke-width="0.5"/><path d="M10,-1 H21 V7.5 L15,8 L12,8 L10,7 Z" fill="#e0c040" stroke="#e0c040" stroke-width="0.5"/><path d="M-1,10 L8,9.5 L10,11 L9.5,14 L6,15 L-1,15 Z" fill="#d6e040" stroke="#d6e040" stroke-width="0.5"/><path d="M-1,15 L6,15 L9.5,14 L10,17 L7,18.5 L-1,19 Z" fill="#d6e040" stroke="#d6e040" stroke-width="0.5"/><path d="M8,9.5 L10,7 L12,8 L12.5,10 L10,11 Z" fill="#d8361c" stroke="#d8361c" stroke-width="0.5"/><path d="M12.5,10 L14,12 L16,13 L14,15 L12,12.5 Z" fill="#f2d43a" stroke="#f2d43a" stroke-width="0.5"/><path d="M10,11 L12.5,10 L12,12.5 L9.5,14 Z" fill="#f2d43a" stroke="#f2d43a" stroke-width="0.5"/><path d="M-1,19 L7,18.5 L9,22 L7,23 L-1,22.5 Z" fill="#c0e048" stroke="#c0e048" stroke-width="0.5"/><path d="M-1,22.5 L7,23 L9,22 L21,27 V27 H-1 Z" fill="#c0e048" stroke="#c0e048" stroke-width="0.5"/><path d="M7,18.5 L10,17 L11,19 L21,21 V27 L9,22 Z" fill="#c0e048" stroke="#c0e048" stroke-width="0.5"/></g><rect x="201.1" y="498.3" width="4" height="0.9" fill="#9a9a9a"/><g transform="translate(220.40,499.10) scale(1.1000,1.1385)" clip-path="url(#hb)"><rect x="0" y="0" width="20" height="26" fill="#9ed848"/><path d="M-1,-1 H10 L10,7 L8,9.5 L-1,10 Z" fill="#ec942c" stroke="#ec942c" stroke-width="0.5"/><path d="M10,-1 H21 V7.5 L15,8 L12,8 L10,7 Z" fill="#d8361c" stroke="#d8361c" stroke-width="0.5"/><path d="M8,9.5 L10,7 L12,8 L12.5,10 L10,11 Z" fill="#b02010" stroke="#b02010" stroke-width="0.5"/><path d="M12.5,10 L14,12 L16,13 L14,15 L12,12.5 Z" fill="#ec942c" stroke="#ec942c" stroke-width="0.5"/><path d="M10,11 L12.5,10 L12,12.5 L9.5,14 Z" fill="#ec942c" stroke="#ec942c" stroke-width="0.5"/><path d="M-1,10 L8,9.5 L10,11 L9.5,14 L6,15 L-1,15 Z" fill="#d6e040" stroke="#d6e040" stroke-width="0.5"/><path d="M-1,15 L6,15 L9.5,14 L10,17 L7,18.5 L-1,19 Z" fill="#d6e040" stroke="#d6e040" stroke-width="0.5"/><path d="M-1,19 L7,18.5 L9,22 L7,23 L-1,22.5 Z" fill="#9ed848" stroke="#9ed848" stroke-width="0.5"/><path d="M-1,22.5 L7,23 L9,22 L21,27 V27 H-1 Z" fill="#9ed848" stroke="#9ed848" stroke-width="0.5"/><path d="M7,18.5 L10,17 L11,19 L21,21 V27 L9,22 Z" fill="#9ed848" stroke="#9ed848" stroke-width="0.5"/><path d="M12,8 L15,8 L21,7.5 V12 L16,13 L14,12 L12.5,10 Z" fill="#ec942c" stroke="#ec942c" stroke-width="0.5"/><path d="M9.5,14 L12,12.5 L14,15 L21,14 V21 L11,19 L10,17 Z" fill="#9ed848" stroke="#9ed848" stroke-width="0.5"/></g><rect x="224.4" y="498.3" width="4" height="0.9" fill="#9a9a9a"/><g transform="translate(244.50,499.10) scale(1.1000,1.1385)" clip-path="url(#hb)"><rect x="0" y="0" width="20" height="26" fill="#9ed848"/><path d="M-1,-1 H10 L10,7 L8,9.5 L-1,10 Z" fill="#ec942c" stroke="#ec942c" stroke-width="0.5"/><path d="M10,-1 H21 V7.5 L15,8 L12,8 L10,7 Z" fill="#ec942c" stroke="#ec942c" stroke-width="0.5"/><path d="M8,9.5 L10,7 L12,8 L12.5,10 L10,11 Z" fill="#d8361c" stroke="#d8361c" stroke-width="0.5"/><path d="M12.5,10 L14,12 L16,13 L14,15 L12,12.5 Z" fill="#ec942c" stroke="#ec942c" stroke-width="0.5"/><path d="M10,11 L12.5,10 L12,12.5 L9.5,14 Z" fill="#ec942c" stroke="#ec942c" stroke-width="0.5"/><path d="M-1,10 L8,9.5 L10,11 L9.5,14 L6,15 L-1,15 Z" fill="#d6e040" stroke="#d6e040" stroke-width="0.5"/><path d="M-1,15 L6,15 L9.5,14 L10,17 L7,18.5 L-1,19 Z" fill="#d6e040" stroke="#d6e040" stroke-width="0.5"/><path d="M-1,19 L7,18.5 L9,22 L7,23 L-1,22.5 Z" fill="#9ed848" stroke="#9ed848" stroke-width="0.5"/><path d="M-1,22.5 L7,23 L9,22 L21,27 V27 H-1 Z" fill="#9ed848" stroke="#9ed848" stroke-width="0.5"/><path d="M7,18.5 L10,17 L11,19 L21,21 V27 L9,22 Z" fill="#9ed848" stroke="#9ed848" stroke-width="0.5"/><path d="M12,8 L15,8 L21,7.5 V12 L16,13 L14,12 L12.5,10 Z" fill="#ec942c" stroke="#ec942c" stroke-width="0.5"/></g><rect x="248.5" y="498.3" width="4" height="0.9" fill="#9a9a9a"/><g transform="translate(268.60,499.10) scale(1.1000,1.1385)" clip-path="url(#hb)"><rect x="0" y="0" width="20" height="26" fill="#9ed848"/><path d="M8,9.5 L10,7 L12,8 L12.5,10 L10,11 Z" fill="#d8361c" stroke="#d8361c" stroke-width="0.5"/><path d="M12.5,10 L14,12 L16,13 L14,15 L12,12.5 Z" fill="#d8361c" stroke="#d8361c" stroke-width="0.5"/><path d="M10,11 L12.5,10 L12,12.5 L9.5,14 Z" fill="#d8361c" stroke="#d8361c" stroke-width="0.5"/><path d="M-1,10 L8,9.5 L10,11 L9.5,14 L6,15 L-1,15 Z" fill="#c0e048" stroke="#c0e048" stroke-width="0.5"/><path d="M-1,15 L6,15 L9.5,14 L10,17 L7,18.5 L-1,19 Z" fill="#c0e048" stroke="#c0e048" stroke-width="0.5"/><path d="M-1,19 L7,18.5 L9,22 L7,23 L-1,22.5 Z" fill="#9ed848" stroke="#9ed848" stroke-width="0.5"/><path d="M-1,22.5 L7,23 L9,22 L21,27 V27 H-1 Z" fill="#9ed848" stroke="#9ed848" stroke-width="0.5"/><path d="M7,18.5 L10,17 L11,19 L21,21 V27 L9,22 Z" fill="#9ed848" stroke="#9ed848" stroke-width="0.5"/><path d="M-1,-1 H10 L10,7 L8,9.5 L-1,10 Z" fill="#c0e048" stroke="#c0e048" stroke-width="0.5"/><path d="M10,-1 H21 V7.5 L15,8 L12,8 L10,7 Z" fill="#ec942c" stroke="#ec942c" stroke-width="0.5"/><path d="M12,8 L15,8 L21,7.5 V12 L16,13 L14,12 L12.5,10 Z" fill="#ec942c" stroke="#ec942c" stroke-width="0.5"/></g><rect x="272.6" y="498.3" width="4" height="0.9" fill="#9a9a9a"/><defs><linearGradient id="lg274" x1="0" y1="0" x2="0" y2="1"><stop offset="0" stop-color="#4cb84c"/><stop offset="0.5" stop-color="#f0e040"/><stop offset="1" stop-color="#d02020"/></linearGradient></defs><rect x="291.40" y="505.10" width="3.00" height="18.00" fill="url(#lg274)" /><g transform="translate(173.40,531.80) scale(1.1000,1.1385)" clip-path="url(#hb)"><rect x="0" y="0" width="20" height="26" fill="#f2d43a"/><path d="M-1,-1 H10 L10,7 L8,9.5 L-1,10 Z" fill="#f2d43a" stroke="#f2d43a" stroke-width="0.5"/><path d="M10,-1 H21 V7.5 L15,8 L12,8 L10,7 Z" fill="#f2d43a" stroke="#f2d43a" stroke-width="0.5"/><path d="M-1,10 L8,9.5 L10,11 L9.5,14 L6,15 L-1,15 Z" fill="#ec942c" stroke="#ec942c" stroke-width="0.5"/><path d="M-1,15 L6,15 L9.5,14 L10,17 L7,18.5 L-1,19 Z" fill="#ec942c" stroke="#ec942c" stroke-width="0.5"/><path d="M8,9.5 L10,7 L12,8 L12.5,10 L10,11 Z" fill="#ec942c" stroke="#ec942c" stroke-width="0.5"/><path d="M12.5,10 L14,12 L16,13 L14,15 L12,12.5 Z" fill="#ec942c" stroke="#ec942c" stroke-width="0.5"/><path d="M10,11 L12.5,10 L12,12.5 L9.5,14 Z" fill="#ec942c" stroke="#ec942c" stroke-width="0.5"/><path d="M-1,19 L7,18.5 L9,22 L7,23 L-1,22.5 Z" fill="#d6e040" stroke="#d6e040" stroke-width="0.5"/><path d="M-1,22.5 L7,23 L9,22 L21,27 V27 H-1 Z" fill="#d6e040" stroke="#d6e040" stroke-width="0.5"/><path d="M7,18.5 L10,17 L11,19 L21,21 V27 L9,22 Z" fill="#d6e040" stroke="#d6e040" stroke-width="0.5"/><path d="M12,8 L15,8 L21,7.5 V12 L16,13 L14,12 L12.5,10 Z" fill="#f2d43a" stroke="#f2d43a" stroke-width="0.5"/><path d="M9.5,14 L12,12.5 L14,15 L21,14 V21 L11,19 L10,17 Z" fill="#f2d43a" stroke="#f2d43a" stroke-width="0.5"/></g><g transform="translate(197.10,531.80) scale(1.1000,1.1385)" clip-path="url(#hb)"><rect x="0" y="0" width="20" height="26" fill="#d6e040"/><path d="M-1,-1 H10 L10,7 L8,9.5 L-1,10 Z" fill="#f2d43a" stroke="#f2d43a" stroke-width="0.5"/><path d="M10,-1 H21 V7.5 L15,8 L12,8 L10,7 Z" fill="#f2d43a" stroke="#f2d43a" stroke-width="0.5"/><path d="M-1,10 L8,9.5 L10,11 L9.5,14 L6,15 L-1,15 Z" fill="#f2d43a" stroke="#f2d43a" stroke-width="0.5"/><path d="M-1,15 L6,15 L9.5,14 L10,17 L7,18.5 L-1,19 Z" fill="#f2d43a" stroke="#f2d43a" stroke-width="0.5"/><path d="M8,9.5 L10,7 L12,8 L12.5,10 L10,11 Z" fill="#ec942c" stroke="#ec942c" stroke-width="0.5"/><path d="M12.5,10 L14,12 L16,13 L14,15 L12,12.5 Z" fill="#ec942c" stroke="#ec942c" stroke-width="0.5"/><path d="M10,11 L12.5,10 L12,12.5 L9.5,14 Z" fill="#ec942c" stroke="#ec942c" stroke-width="0.5"/><path d="M-1,19 L7,18.5 L9,22 L7,23 L-1,22.5 Z" fill="#c0e048" stroke="#c0e048" stroke-width="0.5"/><path d="M-1,22.5 L7,23 L9,22 L21,27 V27 H-1 Z" fill="#c0e048" stroke="#c0e048" stroke-width="0.5"/><path d="M7,18.5 L10,17 L11,19 L21,21 V27 L9,22 Z" fill="#c0e048" stroke="#c0e048" stroke-width="0.5"/><path d="M12,8 L15,8 L21,7.5 V12 L16,13 L14,12 L12.5,10 Z" fill="#d6e040" stroke="#d6e040" stroke-width="0.5"/><path d="M9.5,14 L12,12.5 L14,15 L21,14 V21 L11,19 L10,17 Z" fill="#d6e040" stroke="#d6e040" stroke-width="0.5"/></g><g transform="translate(220.40,531.80) scale(1.1000,1.1385)" clip-path="url(#hb)"><rect x="0" y="0" width="20" height="26" fill="#c0e048"/><path d="M-1,-1 H10 L10,7 L8,9.5 L-1,10 Z" fill="#f07020" stroke="#f07020" stroke-width="0.5"/><path d="M10,-1 H21 V7.5 L15,8 L12,8 L10,7 Z" fill="#d8361c" stroke="#d8361c" stroke-width="0.5"/><path d="M8,9.5 L10,7 L12,8 L12.5,10 L10,11 Z" fill="#ec942c" stroke="#ec942c" stroke-width="0.5"/><path d="M12.5,10 L14,12 L16,13 L14,15 L12,12.5 Z" fill="#ec942c" stroke="#ec942c" stroke-width="0.5"/><path d="M10,11 L12.5,10 L12,12.5 L9.5,14 Z" fill="#ec942c" stroke="#ec942c" stroke-width="0.5"/><path d="M-1,10 L8,9.5 L10,11 L9.5,14 L6,15 L-1,15 Z" fill="#d6e040" stroke="#d6e040" stroke-width="0.5"/><path d="M-1,15 L6,15 L9.5,14 L10,17 L7,18.5 L-1,19 Z" fill="#d6e040" stroke="#d6e040" stroke-width="0.5"/><path d="M-1,19 L7,18.5 L9,22 L7,23 L-1,22.5 Z" fill="#c0e048" stroke="#c0e048" stroke-width="0.5"/><path d="M-1,22.5 L7,23 L9,22 L21,27 V27 H-1 Z" fill="#c0e048" stroke="#c0e048" stroke-width="0.5"/><path d="M7,18.5 L10,17 L11,19 L21,21 V27 L9,22 Z" fill="#c0e048" stroke="#c0e048" stroke-width="0.5"/><path d="M12,8 L15,8 L21,7.5 V12 L16,13 L14,12 L12.5,10 Z" fill="#f07020" stroke="#f07020" stroke-width="0.5"/></g><g transform="translate(244.50,531.80) scale(1.1000,1.1385)" clip-path="url(#hb)"><rect x="0" y="0" width="20" height="26" fill="#9ed848"/><path d="M-1,-1 H10 L10,7 L8,9.5 L-1,10 Z" fill="#ec942c" stroke="#ec942c" stroke-width="0.5"/><path d="M10,-1 H21 V7.5 L15,8 L12,8 L10,7 Z" fill="#ec942c" stroke="#ec942c" stroke-width="0.5"/><path d="M8,9.5 L10,7 L12,8 L12.5,10 L10,11 Z" fill="#ec942c" stroke="#ec942c" stroke-width="0.5"/><path d="M12.5,10 L14,12 L16,13 L14,15 L12,12.5 Z" fill="#ec942c" stroke="#ec942c" stroke-width="0.5"/><path d="M10,11 L12.5,10 L12,12.5 L9.5,14 Z" fill="#ec942c" stroke="#ec942c" stroke-width="0.5"/><path d="M-1,10 L8,9.5 L10,11 L9.5,14 L6,15 L-1,15 Z" fill="#d6e040" stroke="#d6e040" stroke-width="0.5"/><path d="M-1,15 L6,15 L9.5,14 L10,17 L7,18.5 L-1,19 Z" fill="#d6e040" stroke="#d6e040" stroke-width="0.5"/><path d="M-1,19 L7,18.5 L9,22 L7,23 L-1,22.5 Z" fill="#9ed848" stroke="#9ed848" stroke-width="0.5"/><path d="M-1,22.5 L7,23 L9,22 L21,27 V27 H-1 Z" fill="#9ed848" stroke="#9ed848" stroke-width="0.5"/><path d="M7,18.5 L10,17 L11,19 L21,21 V27 L9,22 Z" fill="#9ed848" stroke="#9ed848" stroke-width="0.5"/><path d="M12,8 L15,8 L21,7.5 V12 L16,13 L14,12 L12.5,10 Z" fill="#ec942c" stroke="#ec942c" stroke-width="0.5"/></g><g transform="translate(268.60,531.80) scale(1.1000,1.1385)" clip-path="url(#hb)"><rect x="0" y="0" width="20" height="26" fill="#9ed848"/><path d="M-1,-1 H10 L10,7 L8,9.5 L-1,10 Z" fill="#f2d43a" stroke="#f2d43a" stroke-width="0.5"/><path d="M10,-1 H21 V7.5 L15,8 L12,8 L10,7 Z" fill="#ec942c" stroke="#ec942c" stroke-width="0.5"/><path d="M8,9.5 L10,7 L12,8 L12.5,10 L10,11 Z" fill="#d8361c" stroke="#d8361c" stroke-width="0.5"/><path d="M12.5,10 L14,12 L16,13 L14,15 L12,12.5 Z" fill="#ec942c" stroke="#ec942c" stroke-width="0.5"/><path d="M10,11 L12.5,10 L12,12.5 L9.5,14 Z" fill="#d8361c" stroke="#d8361c" stroke-width="0.5"/><path d="M-1,10 L8,9.5 L10,11 L9.5,14 L6,15 L-1,15 Z" fill="#c0e048" stroke="#c0e048" stroke-width="0.5"/><path d="M-1,15 L6,15 L9.5,14 L10,17 L7,18.5 L-1,19 Z" fill="#c0e048" stroke="#c0e048" stroke-width="0.5"/><path d="M-1,19 L7,18.5 L9,22 L7,23 L-1,22.5 Z" fill="#9ed848" stroke="#9ed848" stroke-width="0.5"/><path d="M-1,22.5 L7,23 L9,22 L21,27 V27 H-1 Z" fill="#9ed848" stroke="#9ed848" stroke-width="0.5"/><path d="M7,18.5 L10,17 L11,19 L21,21 V27 L9,22 Z" fill="#9ed848" stroke="#9ed848" stroke-width="0.5"/></g><defs><linearGradient id="lg281" x1="0" y1="0" x2="0" y2="1"><stop offset="0" stop-color="#4cb84c"/><stop offset="0.5" stop-color="#f0e040"/><stop offset="1" stop-color="#d02020"/></linearGradient></defs><rect x="291.40" y="537.80" width="3.00" height="18.00" fill="url(#lg281)" /><text x="62.00" y="575.60" font-family="Liberation Serif" font-size="14.8" fill="#2e1a0c" textLength="60.70" lengthAdjust="spacingAndGlyphs" stroke="#2e1a0c" stroke-width="0.3" >Scenario1</text><text x="207.20" y="575.60" font-family="Liberation Serif" font-size="14.8" fill="#2e1a0c" textLength="62.10" lengthAdjust="spacingAndGlyphs" stroke="#2e1a0c" stroke-width="0.3" >Scenario2</text><rect x="359.60" y="497.50" width="126.20" height="66.90" fill="#ffffff" /><rect x="361.8" y="498.8" width="22.5" height="17.8" fill="none" stroke="#b4b4b4" stroke-width="0.7"/><path d="M368.8,498.8 v17.8 M375.8,498.8 v17.8" stroke="#e6e6e6" stroke-width="0.5"/><path d="M362.8,505.6 h20.5" fill="none" stroke="#707070" stroke-width="0.9"/><path d="M362.8,505.6 h20.5" fill="none" stroke="#c89090" stroke-width="0.4" transform="translate(0,0.8)"/><rect x="375.8" y="510.8" width="5" height="1.2" fill="#9a9a9a"/><rect x="375.8" y="513.3" width="5" height="1.2" fill="#9a9a9a"/><rect x="360.3" y="500.8" width="1" height="13" fill="#d8d8d8"/><rect x="367.8" y="518.1" width="9" height="1.2" fill="#c8c8c8"/><rect x="362.8" y="500.0" width="5" height="1" fill="#b0b0b0"/><rect x="386.8" y="498.8" width="22.5" height="17.8" fill="none" stroke="#b4b4b4" stroke-width="0.7"/><path d="M393.8,498.8 v17.8 M400.8,498.8 v17.8" stroke="#e6e6e6" stroke-width="0.5"/><path d="M387.8,507.7 q6,-5 12,-3 t8.5,0" fill="none" stroke="#707070" stroke-width="0.9"/><path d="M387.8,507.7 q6,-5 12,-3 t8.5,0" fill="none" stroke="#c89090" stroke-width="0.4" transform="translate(0,0.8)"/><rect x="400.8" y="510.8" width="5" height="1.2" fill="#9a9a9a"/><rect x="400.8" y="513.3" width="5" height="1.2" fill="#9a9a9a"/><rect x="385.3" y="500.8" width="1" height="13" fill="#d8d8d8"/><rect x="392.8" y="518.1" width="9" height="1.2" fill="#c8c8c8"/><rect x="387.8" y="500.0" width="5" height="1" fill="#b0b0b0"/><rect x="411.8" y="498.8" width="22.5" height="17.8" fill="none" stroke="#b4b4b4" stroke-width="0.7"/><path d="M418.8,498.8 v17.8 M425.8,498.8 v17.8" stroke="#e6e6e6" stroke-width="0.5"/><path d="M412.8,506.2 h20.5" fill="none" stroke="#707070" stroke-width="0.9"/><path d="M412.8,506.2 h20.5" fill="none" stroke="#c89090" stroke-width="0.4" transform="translate(0,0.8)"/><rect x="425.8" y="510.8" width="5" height="1.2" fill="#9a9a9a"/><rect x="425.8" y="513.3" width="5" height="1.2" fill="#9a9a9a"/><rect x="410.3" y="500.8" width="1" height="13" fill="#d8d8d8"/><rect x="417.8" y="518.1" width="9" height="1.2" fill="#c8c8c8"/><rect x="412.8" y="500.0" width="5" height="1" fill="#b0b0b0"/><rect x="436.8" y="498.8" width="22.5" height="17.8" fill="none" stroke="#b4b4b4" stroke-width="0.7"/><path d="M443.8,498.8 v17.8 M450.8,498.8 v17.8" stroke="#e6e6e6" stroke-width="0.5"/><path d="M437.8,502.5 q3,5 6,5 h14.5" fill="none" stroke="#707070" stroke-width="0.9"/><path d="M437.8,502.5 q3,5 6,5 h14.5" fill="none" stroke="#c89090" stroke-width="0.4" transform="translate(0,0.8)"/><rect x="450.8" y="510.8" width="5" height="1.2" fill="#9a9a9a"/><rect x="450.8" y="513.3" width="5" height="1.2" fill="#9a9a9a"/><rect x="435.3" y="500.8" width="1" height="13" fill="#d8d8d8"/><rect x="442.8" y="518.1" width="9" height="1.2" fill="#c8c8c8"/><rect x="437.8" y="500.0" width="5" height="1" fill="#b0b0b0"/><rect x="461.8" y="498.8" width="22.5" height="17.8" fill="none" stroke="#b4b4b4" stroke-width="0.7"/><path d="M468.8,498.8 v17.8 M475.8,498.8 v17.8" stroke="#e6e6e6" stroke-width="0.5"/><path d="M462.8,507.6 q6,-5 12,-3 t8.5,0" fill="none" stroke="#707070" stroke-width="0.9"/><path d="M462.8,507.6 q6,-5 12,-3 t8.5,0" fill="none" stroke="#c89090" stroke-width="0.4" transform="translate(0,0.8)"/><rect x="475.8" y="510.8" width="5" height="1.2" fill="#9a9a9a"/><rect x="475.8" y="513.3" width="5" height="1.2" fill="#9a9a9a"/><rect x="460.3" y="500.8" width="1" height="13" fill="#d8d8d8"/><rect x="467.8" y="518.1" width="9" height="1.2" fill="#c8c8c8"/><rect x="462.8" y="500.0" width="5" height="1" fill="#b0b0b0"/><rect x="361.8" y="521.2" width="22.5" height="17.8" fill="none" stroke="#b4b4b4" stroke-width="0.7"/><path d="M368.8,521.2 v17.8 M375.8,521.2 v17.8" stroke="#e6e6e6" stroke-width="0.5"/><path d="M362.8,532.5 q6,-5 12,-3 t8.5,0" fill="none" stroke="#707070" stroke-width="0.9"/><path d="M362.8,532.5 q6,-5 12,-3 t8.5,0" fill="none" stroke="#c89090" stroke-width="0.4" transform="translate(0,0.8)"/><rect x="375.8" y="533.2" width="5" height="1.2" fill="#9a9a9a"/><rect x="375.8" y="535.7" width="5" height="1.2" fill="#9a9a9a"/><rect x="360.3" y="523.2" width="1" height="13" fill="#d8d8d8"/><rect x="367.8" y="540.5" width="9" height="1.2" fill="#c8c8c8"/><rect x="362.8" y="522.4" width="5" height="1" fill="#b0b0b0"/><rect x="386.8" y="521.2" width="22.5" height="17.8" fill="none" stroke="#b4b4b4" stroke-width="0.7"/><path d="M393.8,521.2 v17.8 M400.8,521.2 v17.8" stroke="#e6e6e6" stroke-width="0.5"/><path d="M387.8,524.1 q3,5 6,5 h14.5" fill="none" stroke="#707070" stroke-width="0.9"/><path d="M387.8,524.1 q3,5 6,5 h14.5" fill="none" stroke="#c89090" stroke-width="0.4" transform="translate(0,0.8)"/><rect x="400.8" y="533.2" width="5" height="1.2" fill="#9a9a9a"/><rect x="400.8" y="535.7" width="5" height="1.2" fill="#9a9a9a"/><rect x="385.3" y="523.2" width="1" height="13" fill="#d8d8d8"/><rect x="392.8" y="540.5" width="9" height="1.2" fill="#c8c8c8"/><rect x="387.8" y="522.4" width="5" height="1" fill="#b0b0b0"/><rect x="411.8" y="521.2" width="22.5" height="17.8" fill="none" stroke="#b4b4b4" stroke-width="0.7"/><path d="M418.8,521.2 v17.8 M425.8,521.2 v17.8" stroke="#e6e6e6" stroke-width="0.5"/><path d="M412.8,523.9 q3,5 6,5 h14.5" fill="none" stroke="#707070" stroke-width="0.9"/><path d="M412.8,523.9 q3,5 6,5 h14.5" fill="none" stroke="#c89090" stroke-width="0.4" transform="translate(0,0.8)"/><rect x="425.8" y="533.2" width="5" height="1.2" fill="#9a9a9a"/><rect x="425.8" y="535.7" width="5" height="1.2" fill="#9a9a9a"/><rect x="410.3" y="523.2" width="1" height="13" fill="#d8d8d8"/><rect x="417.8" y="540.5" width="9" height="1.2" fill="#c8c8c8"/><rect x="412.8" y="522.4" width="5" height="1" fill="#b0b0b0"/><rect x="436.8" y="521.2" width="22.5" height="17.8" fill="none" stroke="#b4b4b4" stroke-width="0.7"/><path d="M443.8,521.2 v17.8 M450.8,521.2 v17.8" stroke="#e6e6e6" stroke-width="0.5"/><path d="M437.8,523.7 q3,5 6,5 h14.5" fill="none" stroke="#707070" stroke-width="0.9"/><path d="M437.8,523.7 q3,5 6,5 h14.5" fill="none" stroke="#c89090" stroke-width="0.4" transform="translate(0,0.8)"/><rect x="450.8" y="533.2" width="5" height="1.2" fill="#9a9a9a"/><rect x="450.8" y="535.7" width="5" height="1.2" fill="#9a9a9a"/><rect x="435.3" y="523.2" width="1" height="13" fill="#d8d8d8"/><rect x="442.8" y="540.5" width="9" height="1.2" fill="#c8c8c8"/><rect x="437.8" y="522.4" width="5" height="1" fill="#b0b0b0"/><rect x="461.8" y="521.2" width="22.5" height="17.8" fill="none" stroke="#b4b4b4" stroke-width="0.7"/><path d="M468.8,521.2 v17.8 M475.8,521.2 v17.8" stroke="#e6e6e6" stroke-width="0.5"/><path d="M462.8,532.7 q6,-5 12,-3 t8.5,0" fill="none" stroke="#707070" stroke-width="0.9"/><path d="M462.8,532.7 q6,-5 12,-3 t8.5,0" fill="none" stroke="#c89090" stroke-width="0.4" transform="translate(0,0.8)"/><rect x="475.8" y="533.2" width="5" height="1.2" fill="#9a9a9a"/><rect x="475.8" y="535.7" width="5" height="1.2" fill="#9a9a9a"/><rect x="460.3" y="523.2" width="1" height="13" fill="#d8d8d8"/><rect x="467.8" y="540.5" width="9" height="1.2" fill="#c8c8c8"/><rect x="462.8" y="522.4" width="5" height="1" fill="#b0b0b0"/><rect x="361.8" y="543.6" width="22.5" height="17.8" fill="none" stroke="#b4b4b4" stroke-width="0.7"/><path d="M368.8,543.6 v17.8 M375.8,543.6 v17.8" stroke="#e6e6e6" stroke-width="0.5"/><path d="M362.8,545.2 q3,5 6,5 h14.5" fill="none" stroke="#707070" stroke-width="0.9"/><path d="M362.8,545.2 q3,5 6,5 h14.5" fill="none" stroke="#c89090" stroke-width="0.4" transform="translate(0,0.8)"/><rect x="375.8" y="555.6" width="5" height="1.2" fill="#9a9a9a"/><rect x="375.8" y="558.1" width="5" height="1.2" fill="#9a9a9a"/><rect x="360.3" y="545.6" width="1" height="13" fill="#d8d8d8"/><rect x="367.8" y="562.9" width="9" height="1.2" fill="#c8c8c8"/><rect x="362.8" y="544.8" width="5" height="1" fill="#b0b0b0"/><rect x="386.8" y="543.6" width="22.5" height="17.8" fill="none" stroke="#b4b4b4" stroke-width="0.7"/><path d="M393.8,543.6 v17.8 M400.8,543.6 v17.8" stroke="#e6e6e6" stroke-width="0.5"/><path d="M387.8,550.2 h20.5" fill="none" stroke="#707070" stroke-width="0.9"/><path d="M387.8,550.2 h20.5" fill="none" stroke="#c89090" stroke-width="0.4" transform="translate(0,0.8)"/><rect x="400.8" y="555.6" width="5" height="1.2" fill="#9a9a9a"/><rect x="400.8" y="558.1" width="5" height="1.2" fill="#9a9a9a"/><rect x="385.3" y="545.6" width="1" height="13" fill="#d8d8d8"/><rect x="392.8" y="562.9" width="9" height="1.2" fill="#c8c8c8"/><rect x="387.8" y="544.8" width="5" height="1" fill="#b0b0b0"/><rect x="411.8" y="543.6" width="22.5" height="17.8" fill="none" stroke="#b4b4b4" stroke-width="0.7"/><path d="M418.8,543.6 v17.8 M425.8,543.6 v17.8" stroke="#e6e6e6" stroke-width="0.5"/><path d="M412.8,551.6 h20.5" fill="none" stroke="#707070" stroke-width="0.9"/><path d="M412.8,551.6 h20.5" fill="none" stroke="#c89090" stroke-width="0.4" transform="translate(0,0.8)"/><rect x="425.8" y="555.6" width="5" height="1.2" fill="#9a9a9a"/><rect x="425.8" y="558.1" width="5" height="1.2" fill="#9a9a9a"/><rect x="410.3" y="545.6" width="1" height="13" fill="#d8d8d8"/><rect x="417.8" y="562.9" width="9" height="1.2" fill="#c8c8c8"/><rect x="412.8" y="544.8" width="5" height="1" fill="#b0b0b0"/><rect x="502.80" y="497.50" width="126.20" height="66.90" fill="#ffffff" /><rect x="505.0" y="498.8" width="22.5" height="17.8" fill="none" stroke="#b4b4b4" stroke-width="0.7"/><path d="M512.0,498.8 v17.8 M519.0,498.8 v17.8" stroke="#e6e6e6" stroke-width="0.5"/><path d="M506.0,507.0 h20.5" fill="none" stroke="#707070" stroke-width="0.9"/><path d="M506.0,507.0 h20.5" fill="none" stroke="#c89090" stroke-width="0.4" transform="translate(0,0.8)"/><rect x="519.0" y="510.8" width="5" height="1.2" fill="#9a9a9a"/><rect x="519.0" y="513.3" width="5" height="1.2" fill="#9a9a9a"/><rect x="503.5" y="500.8" width="1" height="13" fill="#d8d8d8"/><rect x="511.0" y="518.1" width="9" height="1.2" fill="#c8c8c8"/><rect x="506.0" y="500.0" width="5" height="1" fill="#b0b0b0"/><rect x="530.0" y="498.8" width="22.5" height="17.8" fill="none" stroke="#b4b4b4" stroke-width="0.7"/><path d="M537.0,498.8 v17.8 M544.0,498.8 v17.8" stroke="#e6e6e6" stroke-width="0.5"/><path d="M531.0,505.5 h20.5" fill="none" stroke="#707070" stroke-width="0.9"/><path d="M531.0,505.5 h20.5" fill="none" stroke="#c89090" stroke-width="0.4" transform="translate(0,0.8)"/><rect x="544.0" y="510.8" width="5" height="1.2" fill="#9a9a9a"/><rect x="544.0" y="513.3" width="5" height="1.2" fill="#9a9a9a"/><rect x="528.5" y="500.8" width="1" height="13" fill="#d8d8d8"/><rect x="536.0" y="518.1" width="9" height="1.2" fill="#c8c8c8"/><rect x="531.0" y="500.0" width="5" height="1" fill="#b0b0b0"/><rect x="555.0" y="498.8" width="22.5" height="17.8" fill="none" stroke="#b4b4b4" stroke-width="0.7"/><path d="M562.0,498.8 v17.8 M569.0,498.8 v17.8" stroke="#e6e6e6" stroke-width="0.5"/><path d="M556.0,507.6 q6,-5 12,-3 t8.5,0" fill="none" stroke="#707070" stroke-width="0.9"/><path d="M556.0,507.6 q6,-5 12,-3 t8.5,0" fill="none" stroke="#c89090" stroke-width="0.4" transform="translate(0,0.8)"/><rect x="569.0" y="510.8" width="5" height="1.2" fill="#9a9a9a"/><rect x="569.0" y="513.3" width="5" height="1.2" fill="#9a9a9a"/><rect x="553.5" y="500.8" width="1" height="13" fill="#d8d8d8"/><rect x="561.0" y="518.1" width="9" height="1.2" fill="#c8c8c8"/><rect x="556.0" y="500.0" width="5" height="1" fill="#b0b0b0"/><rect x="580.0" y="498.8" width="22.5" height="17.8" fill="none" stroke="#b4b4b4" stroke-width="0.7"/><path d="M587.0,498.8 v17.8 M594.0,498.8 v17.8" stroke="#e6e6e6" stroke-width="0.5"/><path d="M581.0,507.5 h20.5" fill="none" stroke="#707070" stroke-width="0.9"/><path d="M581.0,507.5 h20.5" fill="none" stroke="#c89090" stroke-width="0.4" transform="translate(0,0.8)"/><rect x="594.0" y="510.8" width="5" height="1.2" fill="#9a9a9a"/><rect x="594.0" y="513.3" width="5" height="1.2" fill="#9a9a9a"/><rect x="578.5" y="500.8" width="1" height="13" fill="#d8d8d8"/><rect x="586.0" y="518.1" width="9" height="1.2" fill="#c8c8c8"/><rect x="581.0" y="500.0" width="5" height="1" fill="#b0b0b0"/><rect x="605.0" y="498.8" width="22.5" height="17.8" fill="none" stroke="#b4b4b4" stroke-width="0.7"/><path d="M612.0,498.8 v17.8 M619.0,498.8 v17.8" stroke="#e6e6e6" stroke-width="0.5"/><path d="M606.0,506.0 h20.5" fill="none" stroke="#707070" stroke-width="0.9"/><path d="M606.0,506.0 h20.5" fill="none" stroke="#c89090" stroke-width="0.4" transform="translate(0,0.8)"/><rect x="619.0" y="510.8" width="5" height="1.2" fill="#9a9a9a"/><rect x="619.0" y="513.3" width="5" height="1.2" fill="#9a9a9a"/><rect x="603.5" y="500.8" width="1" height="13" fill="#d8d8d8"/><rect x="611.0" y="518.1" width="9" height="1.2" fill="#c8c8c8"/><rect x="606.0" y="500.0" width="5" height="1" fill="#b0b0b0"/><rect x="505.0" y="521.2" width="22.5" height="17.8" fill="none" stroke="#b4b4b4" stroke-width="0.7"/><path d="M512.0,521.2 v17.8 M519.0,521.2 v17.8" stroke="#e6e6e6" stroke-width="0.5"/><path d="M506.0,523.9 q3,5 6,5 h14.5" fill="none" stroke="#707070" stroke-width="0.9"/><path d="M506.0,523.9 q3,5 6,5 h14.5" fill="none" stroke="#c89090" stroke-width="0.4" transform="translate(0,0.8)"/><rect x="519.0" y="533.2" width="5" height="1.2" fill="#9a9a9a"/><rect x="519.0" y="535.7" width="5" height="1.2" fill="#9a9a9a"/><rect x="503.5" y="523.2" width="1" height="13" fill="#d8d8d8"/><rect x="511.0" y="540.5" width="9" height="1.2" fill="#c8c8c8"/><rect x="506.0" y="522.4" width="5" height="1" fill="#b0b0b0"/><rect x="530.0" y="521.2" width="22.5" height="17.8" fill="none" stroke="#b4b4b4" stroke-width="0.7"/><path d="M537.0,521.2 v17.8 M544.0,521.2 v17.8" stroke="#e6e6e6" stroke-width="0.5"/><path d="M531.0,528.7 h20.5" fill="none" stroke="#707070" stroke-width="0.9"/><path d="M531.0,528.7 h20.5" fill="none" stroke="#c89090" stroke-width="0.4" transform="translate(0,0.8)"/><rect x="544.0" y="533.2" width="5" height="1.2" fill="#9a9a9a"/><rect x="544.0" y="535.7" width="5" height="1.2" fill="#9a9a9a"/><rect x="528.5" y="523.2" width="1" height="13" fill="#d8d8d8"/><rect x="536.0" y="540.5" width="9" height="1.2" fill="#c8c8c8"/><rect x="531.0" y="522.4" width="5" height="1" fill="#b0b0b0"/><rect x="555.0" y="521.2" width="22.5" height="17.8" fill="none" stroke="#b4b4b4" stroke-width="0.7"/><path d="M562.0,521.2 v17.8 M569.0,521.2 v17.8" stroke="#e6e6e6" stroke-width="0.5"/><path d="M556.0,523.0 q3,5 6,5 h14.5" fill="none" stroke="#707070" stroke-width="0.9"/><path d="M556.0,523.0 q3,5 6,5 h14.5" fill="none" stroke="#c89090" stroke-width="0.4" transform="translate(0,0.8)"/><rect x="569.0" y="533.2" width="5" height="1.2" fill="#9a9a9a"/><rect x="569.0" y="535.7" width="5" height="1.2" fill="#9a9a9a"/><rect x="553.5" y="523.2" width="1" height="13" fill="#d8d8d8"/><rect x="561.0" y="540.5" width="9" height="1.2" fill="#c8c8c8"/><rect x="556.0" y="522.4" width="5" height="1" fill="#b0b0b0"/><rect x="580.0" y="521.2" width="22.5" height="17.8" fill="none" stroke="#b4b4b4" stroke-width="0.7"/><path d="M587.0,521.2 v17.8 M594.0,521.2 v17.8" stroke="#e6e6e6" stroke-width="0.5"/><path d="M581.0,523.6 q3,5 6,5 h14.5" fill="none" stroke="#707070" stroke-width="0.9"/><path d="M581.0,523.6 q3,5 6,5 h14.5" fill="none" stroke="#c89090" stroke-width="0.4" transform="translate(0,0.8)"/><rect x="594.0" y="533.2" width="5" height="1.2" fill="#9a9a9a"/><rect x="594.0" y="535.7" width="5" height="1.2" fill="#9a9a9a"/><rect x="578.5" y="523.2" width="1" height="13" fill="#d8d8d8"/><rect x="586.0" y="540.5" width="9" height="1.2" fill="#c8c8c8"/><rect x="581.0" y="522.4" width="5" height="1" fill="#b0b0b0"/><rect x="605.0" y="521.2" width="22.5" height="17.8" fill="none" stroke="#b4b4b4" stroke-width="0.7"/><path d="M612.0,521.2 v17.8 M619.0,521.2 v17.8" stroke="#e6e6e6" stroke-width="0.5"/><path d="M606.0,529.6 h20.5" fill="none" stroke="#707070" stroke-width="0.9"/><path d="M606.0,529.6 h20.5" fill="none" stroke="#c89090" stroke-width="0.4" transform="translate(0,0.8)"/><rect x="619.0" y="533.2" width="5" height="1.2" fill="#9a9a9a"/><rect x="619.0" y="535.7" width="5" height="1.2" fill="#9a9a9a"/><rect x="603.5" y="523.2" width="1" height="13" fill="#d8d8d8"/><rect x="611.0" y="540.5" width="9" height="1.2" fill="#c8c8c8"/><rect x="606.0" y="522.4" width="5" height="1" fill="#b0b0b0"/><rect x="505.0" y="543.6" width="22.5" height="17.8" fill="none" stroke="#b4b4b4" stroke-width="0.7"/><path d="M512.0,543.6 v17.8 M519.0,543.6 v17.8" stroke="#e6e6e6" stroke-width="0.5"/><path d="M506.0,551.5 h20.5" fill="none" stroke="#707070" stroke-width="0.9"/><path d="M506.0,551.5 h20.5" fill="none" stroke="#c89090" stroke-width="0.4" transform="translate(0,0.8)"/><rect x="519.0" y="555.6" width="5" height="1.2" fill="#9a9a9a"/><rect x="519.0" y="558.1" width="5" height="1.2" fill="#9a9a9a"/><rect x="503.5" y="545.6" width="1" height="13" fill="#d8d8d8"/><rect x="511.0" y="562.9" width="9" height="1.2" fill="#c8c8c8"/><rect x="506.0" y="544.8" width="5" height="1" fill="#b0b0b0"/><rect x="530.0" y="543.6" width="22.5" height="17.8" fill="none" stroke="#b4b4b4" stroke-width="0.7"/><path d="M537.0,543.6 v17.8 M544.0,543.6 v17.8" stroke="#e6e6e6" stroke-width="0.5"/><path d="M531.0,552.8 q6,-5 12,-3 t8.5,0" fill="none" stroke="#707070" stroke-width="0.9"/><path d="M531.0,552.8 q6,-5 12,-3 t8.5,0" fill="none" stroke="#c89090" stroke-width="0.4" transform="translate(0,0.8)"/><rect x="544.0" y="555.6" width="5" height="1.2" fill="#9a9a9a"/><rect x="544.0" y="558.1" width="5" height="1.2" fill="#9a9a9a"/><rect x="528.5" y="545.6" width="1" height="13" fill="#d8d8d8"/><rect x="536.0" y="562.9" width="9" height="1.2" fill="#c8c8c8"/><rect x="531.0" y="544.8" width="5" height="1" fill="#b0b0b0"/><rect x="555.0" y="543.6" width="22.5" height="17.8" fill="none" stroke="#b4b4b4" stroke-width="0.7"/><path d="M562.0,543.6 v17.8 M569.0,543.6 v17.8" stroke="#e6e6e6" stroke-width="0.5"/><path d="M556.0,550.6 h20.5" fill="none" stroke="#707070" stroke-width="0.9"/><path d="M556.0,550.6 h20.5" fill="none" stroke="#c89090" stroke-width="0.4" transform="translate(0,0.8)"/><rect x="569.0" y="555.6" width="5" height="1.2" fill="#9a9a9a"/><rect x="569.0" y="558.1" width="5" height="1.2" fill="#9a9a9a"/><rect x="553.5" y="545.6" width="1" height="13" fill="#d8d8d8"/><rect x="561.0" y="562.9" width="9" height="1.2" fill="#c8c8c8"/><rect x="556.0" y="544.8" width="5" height="1" fill="#b0b0b0"/><text x="393.40" y="576.80" font-family="Liberation Serif" font-size="14.8" fill="#2e1a0c" textLength="61.00" lengthAdjust="spacingAndGlyphs" stroke="#2e1a0c" stroke-width="0.3" >Scenario1</text><text x="536.50" y="576.80" font-family="Liberation Serif" font-size="14.8" fill="#2e1a0c" textLength="63.20" lengthAdjust="spacingAndGlyphs" stroke="#2e1a0c" stroke-width="0.3" >Scenario2</text><rect x="66.60" y="592.70" width="521.70" height="31.60" rx="4" ry="4" fill="#fc9a33" stroke="#6a4526" stroke-width="1.2" /><text x="77.60" y="605.50" font-family="Liberation Serif" font-size="13.6" fill="#2e1a0c" textLength="498.60" lengthAdjust="spacingAndGlyphs" stroke="#2e1a0c" stroke-width="0.3" >Identification and suggestions for optimizing supply-demand patterns based on</text><text x="192.00" y="621.60" font-family="Liberation Serif" font-size="13.6" fill="#2e1a0c" textLength="269.80" lengthAdjust="spacingAndGlyphs" stroke="#2e1a0c" stroke-width="0.3" >the grain provision ecosystem service flow</text><line x1="0" y1="0.6" x2="658" y2="0.6" stroke="#111" stroke-width="1.4" stroke-dasharray="9.6 9.95" stroke-dashoffset="0"/><line x1="0.8" y1="0" x2="0.8" y2="100.5" stroke="#111" stroke-width="1.7" stroke-dasharray="9.2 8.2" stroke-dashoffset="4.5"/><line x1="0.8" y1="100.5" x2="0.8" y2="427" stroke="#111" stroke-width="1.7" stroke-dasharray="11 6.4" stroke-dashoffset="9.2"/><line x1="0.8" y1="427" x2="0.8" y2="627" stroke="#111" stroke-width="1.7" stroke-dasharray="11 6.4" stroke-dashoffset="12.1"/><line x1="658.8" y1="0" x2="658.8" y2="100.5" stroke="#6a6a6a" stroke-width="1.9" stroke-dasharray="8.2 8.8" stroke-dashoffset="12.3"/><line x1="658.8" y1="100.5" x2="658.8" y2="427" stroke="#6a6a6a" stroke-width="1.9" stroke-dasharray="11 6.3" stroke-dashoffset="10.6"/><line x1="658.8" y1="427" x2="658.8" y2="627" stroke="#6a6a6a" stroke-width="1.9" stroke-dasharray="10.5 6.6" stroke-dashoffset="11.2"/><line x1="0" y1="627.1" x2="659" y2="627.1" stroke="#6a6a6a" stroke-width="1.9" stroke-dasharray="9.8 9.1" stroke-dashoffset="6.0"/><line x1="0" y1="100.5" x2="446" y2="100.5" stroke="#4a4a4a" stroke-width="1.3" stroke-dasharray="12.8 6.1" stroke-dashoffset="1.6"/><line x1="446" y1="100.5" x2="658" y2="100.5" stroke="#4a4a4a" stroke-width="1.3" stroke-dasharray="9.8 9.1" stroke-dashoffset="12.5"/><line x1="0" y1="427.1" x2="658" y2="427.1" stroke="#4a4a4a" stroke-width="1.3" stroke-dasharray="15.8 3.2" stroke-dashoffset="6.9"/><line x1="445.5" y1="100.5" x2="445.5" y2="427" stroke="#4a4a4a" stroke-width="1.3" stroke-dasharray="11.8 6.0" stroke-dashoffset="12.8"/><path d="M34.7,85.4 C22,86 10,94 9.1,108.4 L3.5,108.4 L13.4,128.3 L23,108.4 L17.6,108.4 C18,97 25,89 34.7,85.4 Z" fill="#ffffff" stroke="#333" stroke-width="1.1" stroke-linejoin="miter"/><path d="M413.2,380.9 C414,392 424,397 439,397.2 L439,392.2 L460.4,401 L439,409.5 L439,404.9 C424,405 412.5,398 413.2,380.9 Z" fill="#ffffff" stroke="#333" stroke-width="1.1" stroke-linejoin="miter"/><path d="M611.3,414.5 C624,414 636,424 637.2,438.1 L643.6,438.1 L633.6,457.2 L623.8,438.1 L629.5,438.1 C629,428 621,417 611.3,414.5 Z" fill="#ffffff" stroke="#333" stroke-width="1.1" stroke-linejoin="miter"/>
</svg></body></html>
